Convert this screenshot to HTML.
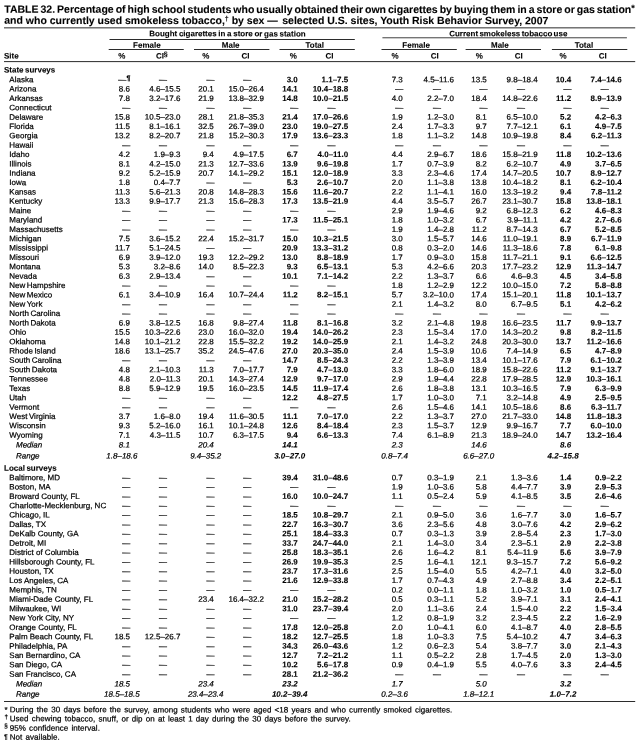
<!DOCTYPE html>
<html lang="en"><head><meta charset="utf-8"><title>Table 32</title>
<style>
html,body{margin:0;padding:0;background:#fff}
body{width:641px;height:746px;position:relative;overflow:hidden;font-family:"Liberation Sans",Arial,Helvetica,sans-serif;color:#000}
.t{position:absolute;white-space:nowrap;margin:0;padding:0;-webkit-text-stroke:0.22px #000}
svg{position:absolute;left:0;top:0}
#page{position:absolute;left:0;top:0;width:641px;height:746px;will-change:transform}
.su{font-size:9px;position:relative;top:-1.6px}
.sud{font-size:7px;position:relative;top:-3px}
.su2{font-size:7px;position:relative;top:-2.2px;font-weight:bold;margin-left:-0.2px}
.su3{font-size:6.8px;position:relative;top:-1.8px;font-weight:bold;margin-left:0.2px}
</style></head>
<body>
<div id="page">
<svg width="641" height="746" viewBox="0 0 641 746" fill="#2b2b2b">
<rect x="4.00" y="27.35" width="631.20" height="1.0"/>
<rect x="109.50" y="39.00" width="245.30" height="1.0"/>
<rect x="382.40" y="37.35" width="244.50" height="0.9"/>
<rect x="108.70" y="49.00" width="75.05" height="1.0"/>
<rect x="194.00" y="49.00" width="75.40" height="1.0"/>
<rect x="279.50" y="49.00" width="75.30" height="1.0"/>
<rect x="381.50" y="49.00" width="75.30" height="1.0"/>
<rect x="465.60" y="49.00" width="75.40" height="1.0"/>
<rect x="551.90" y="49.00" width="75.40" height="1.0"/>
<rect x="4.00" y="61.10" width="631.20" height="1.0"/>
<rect x="4.00" y="701.00" width="631.20" height="1.0"/>
</svg>
<div class="t" style="top:2px;font-size:10.5px;line-height:12px;left:4px;transform:translate(0.25px,0.96px) rotate(0.03deg) scaleX(1.0);transform-origin:50% 0;font-weight:bold;-webkit-text-stroke:0.1px #000;word-spacing:-0.915px">TABLE 32. Percentage of high school students who usually obtained their own cigarettes by buying them in a store or gas station<span class="su">*</span></div>
<div class="t" style="top:14px;font-size:10.5px;line-height:12px;left:4px;transform:translate(0.25px,0.01px) rotate(0.03deg) scaleX(1.0);transform-origin:50% 0;font-weight:bold;-webkit-text-stroke:0.1px #000;word-spacing:0px">and who currently used smokeless tobacco,<span class="sud">†</span> by sex <span style="margin-right:1.6px">—</span> selected U.S. sites, Youth Risk Behavior Survey, 2007</div>
<div class="t" style="top:29px;font-size:7.9px;line-height:9.0px;left:127px;width:200px;text-align:center;transform:translate(0.50px,0.36px) rotate(0.03deg) scaleX(1.0127);transform-origin:50% 0;font-weight:bold;-webkit-text-stroke:0.1px #000;word-spacing:-0.55px">Bought cigarettes in a store or gas station</div>
<div class="t" style="top:29px;font-size:7.9px;line-height:9.0px;left:408px;width:200px;text-align:center;transform:translate(0.30px,0.16px) rotate(0.03deg) scaleX(1.0127);transform-origin:50% 0;font-weight:bold;-webkit-text-stroke:0.1px #000;word-spacing:-0.85px">Current smokeless tobacco use</div>
<div class="t" style="top:40px;font-size:7.9px;line-height:9.0px;left:46px;width:200px;text-align:center;transform:translate(0.85px,0.76px) rotate(0.03deg) scaleX(1.0127);transform-origin:50% 0;font-weight:bold;-webkit-text-stroke:0.1px #000">Female</div>
<div class="t" style="top:40px;font-size:7.9px;line-height:9.0px;left:130px;width:200px;text-align:center;transform:translate(0.70px,0.76px) rotate(0.03deg) scaleX(1.0127);transform-origin:50% 0;font-weight:bold;-webkit-text-stroke:0.1px #000">Male</div>
<div class="t" style="top:40px;font-size:7.9px;line-height:9.0px;left:214px;width:200px;text-align:center;transform:translate(0.80px,0.76px) rotate(0.03deg) scaleX(1.0127);transform-origin:50% 0;font-weight:bold;-webkit-text-stroke:0.1px #000">Total</div>
<div class="t" style="top:40px;font-size:7.9px;line-height:9.0px;left:316px;width:200px;text-align:center;transform:translate(0.10px,0.76px) rotate(0.03deg) scaleX(1.0127);transform-origin:50% 0;font-weight:bold;-webkit-text-stroke:0.1px #000">Female</div>
<div class="t" style="top:40px;font-size:7.9px;line-height:9.0px;left:399px;width:200px;text-align:center;transform:translate(0.90px,0.76px) rotate(0.03deg) scaleX(1.0127);transform-origin:50% 0;font-weight:bold;-webkit-text-stroke:0.1px #000">Male</div>
<div class="t" style="top:40px;font-size:7.9px;line-height:9.0px;left:483px;width:200px;text-align:center;transform:translate(0.90px,0.76px) rotate(0.03deg) scaleX(1.0127);transform-origin:50% 0;font-weight:bold;-webkit-text-stroke:0.1px #000">Total</div>
<div class="t" style="top:51px;font-size:7.9px;line-height:9.0px;left:4px;transform:translate(0.00px,0.46px) rotate(0.03deg) scaleX(1.0127);transform-origin:0 0;font-weight:bold;-webkit-text-stroke:0.1px #000">Site</div>
<div class="t" style="top:51px;font-size:7.9px;line-height:9.0px;left:21px;width:200px;text-align:center;transform:translate(0.70px,0.56px) rotate(0.03deg) scaleX(1.0127);transform-origin:50% 0;font-weight:bold;-webkit-text-stroke:0.1px #000">%</div>
<div class="t" style="top:51px;font-size:7.9px;line-height:9.0px;left:105px;width:200px;text-align:center;transform:translate(0.80px,0.56px) rotate(0.03deg) scaleX(1.0127);transform-origin:50% 0;font-weight:bold;-webkit-text-stroke:0.1px #000">%</div>
<div class="t" style="top:51px;font-size:7.9px;line-height:9.0px;left:193px;width:200px;text-align:center;transform:translate(0.20px,0.56px) rotate(0.03deg) scaleX(1.0127);transform-origin:50% 0;font-weight:bold;-webkit-text-stroke:0.1px #000">%</div>
<div class="t" style="top:51px;font-size:7.9px;line-height:9.0px;left:295px;width:200px;text-align:center;transform:translate(0.00px,0.56px) rotate(0.03deg) scaleX(1.0127);transform-origin:50% 0;font-weight:bold;-webkit-text-stroke:0.1px #000">%</div>
<div class="t" style="top:51px;font-size:7.9px;line-height:9.0px;left:379px;width:200px;text-align:center;transform:translate(0.20px,0.56px) rotate(0.03deg) scaleX(1.0127);transform-origin:50% 0;font-weight:bold;-webkit-text-stroke:0.1px #000">%</div>
<div class="t" style="top:51px;font-size:7.9px;line-height:9.0px;left:463px;width:200px;text-align:center;transform:translate(0.00px,0.56px) rotate(0.03deg) scaleX(1.0127);transform-origin:50% 0;font-weight:bold;-webkit-text-stroke:0.1px #000">%</div>
<div class="t" style="top:51px;font-size:7.9px;line-height:9.0px;left:156px;transform:translate(0.00px,0.56px) rotate(0.03deg) scaleX(1.0127);transform-origin:0 0;font-weight:bold;-webkit-text-stroke:0.1px #000">CI<span class="su2">§</span></div>
<div class="t" style="top:51px;font-size:7.9px;line-height:9.0px;left:145px;width:200px;text-align:center;transform:translate(0.60px,0.56px) rotate(0.03deg) scaleX(1.0127);transform-origin:50% 0;font-weight:bold;-webkit-text-stroke:0.1px #000">CI</div>
<div class="t" style="top:51px;font-size:7.9px;line-height:9.0px;left:229px;width:200px;text-align:center;transform:translate(0.50px,0.56px) rotate(0.03deg) scaleX(1.0127);transform-origin:50% 0;font-weight:bold;-webkit-text-stroke:0.1px #000">CI</div>
<div class="t" style="top:51px;font-size:7.9px;line-height:9.0px;left:334px;width:200px;text-align:center;transform:translate(0.85px,0.56px) rotate(0.03deg) scaleX(1.0127);transform-origin:50% 0;font-weight:bold;-webkit-text-stroke:0.1px #000">CI</div>
<div class="t" style="top:51px;font-size:7.9px;line-height:9.0px;left:418px;width:200px;text-align:center;transform:translate(0.65px,0.56px) rotate(0.03deg) scaleX(1.0127);transform-origin:50% 0;font-weight:bold;-webkit-text-stroke:0.1px #000">CI</div>
<div class="t" style="top:51px;font-size:7.9px;line-height:9.0px;left:502px;width:200px;text-align:center;transform:translate(0.80px,0.56px) rotate(0.03deg) scaleX(1.0127);transform-origin:50% 0;font-weight:bold;-webkit-text-stroke:0.1px #000">CI</div>
<div class="t" style="top:65px;font-size:7.9px;line-height:9.0px;left:4px;transform:translate(0.00px,0.46px) rotate(0.03deg) scaleX(1.0127);transform-origin:0 0;font-weight:bold;-webkit-text-stroke:0.1px #000;word-spacing:-0.7px">State surveys</div>
<div class="t" style="top:75px;font-size:7.9px;line-height:9.0px;left:9px;transform:translate(0.35px,0.21px) rotate(0.03deg) scaleX(1.0127);transform-origin:0 0;word-spacing:-0.7px">Alaska</div>
<div class="t" style="top:75px;font-size:7.9px;line-height:9.0px;left:10px;width:120px;text-align:right;transform:translate(0.30px,0.21px) rotate(0.03deg) scaleX(1.0127);transform-origin:100% 0">—<span class="su3">¶</span></div>
<div class="t" style="top:75px;font-size:7.9px;line-height:9.0px;left:159px;transform:translate(0.10px,0.21px) rotate(0.03deg) scaleX(1.0127);transform-origin:0 0">—</div>
<div class="t" style="top:75px;font-size:7.9px;line-height:9.0px;left:206px;transform:translate(0.45px,0.21px) rotate(0.03deg) scaleX(1.0127);transform-origin:0 0">—</div>
<div class="t" style="top:75px;font-size:7.9px;line-height:9.0px;left:243px;transform:translate(0.15px,0.21px) rotate(0.03deg) scaleX(1.0127);transform-origin:0 0">—</div>
<div class="t" style="top:75px;font-size:7.9px;line-height:9.0px;left:177px;width:120px;text-align:right;transform:translate(0.80px,0.21px) rotate(0.03deg) scaleX(1.0127);transform-origin:100% 0;font-weight:bold;-webkit-text-stroke:0.1px #000">3.0</div>
<div class="t" style="top:75px;font-size:7.9px;line-height:9.0px;left:228px;width:120px;text-align:right;transform:translate(0.20px,0.21px) rotate(0.03deg) scaleX(1.0127);transform-origin:100% 0;font-weight:bold;-webkit-text-stroke:0.1px #000">1.1–7.5</div>
<div class="t" style="top:75px;font-size:7.9px;line-height:9.0px;left:282px;width:120px;text-align:right;transform:translate(0.80px,0.21px) rotate(0.03deg) scaleX(1.0127);transform-origin:100% 0">7.3</div>
<div class="t" style="top:75px;font-size:7.9px;line-height:9.0px;left:334px;width:120px;text-align:right;transform:translate(0.00px,0.21px) rotate(0.03deg) scaleX(1.0127);transform-origin:100% 0">4.5–11.6</div>
<div class="t" style="top:75px;font-size:7.9px;line-height:9.0px;left:366px;width:120px;text-align:right;transform:translate(0.80px,0.21px) rotate(0.03deg) scaleX(1.0127);transform-origin:100% 0">13.5</div>
<div class="t" style="top:75px;font-size:7.9px;line-height:9.0px;left:417px;width:120px;text-align:right;transform:translate(0.70px,0.21px) rotate(0.03deg) scaleX(1.0127);transform-origin:100% 0">9.8–18.4</div>
<div class="t" style="top:75px;font-size:7.9px;line-height:9.0px;left:451px;width:120px;text-align:right;transform:translate(0.20px,0.21px) rotate(0.03deg) scaleX(1.0127);transform-origin:100% 0;font-weight:bold;-webkit-text-stroke:0.1px #000">10.4</div>
<div class="t" style="top:75px;font-size:7.9px;line-height:9.0px;left:501px;width:120px;text-align:right;transform:translate(0.70px,0.21px) rotate(0.03deg) scaleX(1.0127);transform-origin:100% 0;font-weight:bold;-webkit-text-stroke:0.1px #000">7.4–14.6</div>
<div class="t" style="top:84px;font-size:7.9px;line-height:9.0px;left:9px;transform:translate(0.35px,0.57px) rotate(0.03deg) scaleX(1.0127);transform-origin:0 0;word-spacing:-0.7px">Arizona</div>
<div class="t" style="top:84px;font-size:7.9px;line-height:9.0px;left:10px;width:120px;text-align:right;transform:translate(0.00px,0.57px) rotate(0.03deg) scaleX(1.0127);transform-origin:100% 0">8.6</div>
<div class="t" style="top:84px;font-size:7.9px;line-height:9.0px;left:60px;width:120px;text-align:right;transform:translate(0.40px,0.57px) rotate(0.03deg) scaleX(1.0127);transform-origin:100% 0">4.6–15.5</div>
<div class="t" style="top:84px;font-size:7.9px;line-height:9.0px;left:93px;width:120px;text-align:right;transform:translate(0.80px,0.57px) rotate(0.03deg) scaleX(1.0127);transform-origin:100% 0">20.1</div>
<div class="t" style="top:84px;font-size:7.9px;line-height:9.0px;left:144px;width:120px;text-align:right;transform:translate(0.00px,0.57px) rotate(0.03deg) scaleX(1.0127);transform-origin:100% 0">15.0–26.4</div>
<div class="t" style="top:84px;font-size:7.9px;line-height:9.0px;left:177px;width:120px;text-align:right;transform:translate(0.80px,0.57px) rotate(0.03deg) scaleX(1.0127);transform-origin:100% 0;font-weight:bold;-webkit-text-stroke:0.1px #000">14.1</div>
<div class="t" style="top:84px;font-size:7.9px;line-height:9.0px;left:228px;width:120px;text-align:right;transform:translate(0.20px,0.57px) rotate(0.03deg) scaleX(1.0127);transform-origin:100% 0;font-weight:bold;-webkit-text-stroke:0.1px #000">10.4–18.8</div>
<div class="t" style="top:84px;font-size:7.9px;line-height:9.0px;left:395px;transform:translate(0.35px,0.57px) rotate(0.03deg) scaleX(1.0127);transform-origin:0 0">—</div>
<div class="t" style="top:84px;font-size:7.9px;line-height:9.0px;left:432px;transform:translate(0.90px,0.57px) rotate(0.03deg) scaleX(1.0127);transform-origin:0 0">—</div>
<div class="t" style="top:84px;font-size:7.9px;line-height:9.0px;left:479px;transform:translate(0.50px,0.57px) rotate(0.03deg) scaleX(1.0127);transform-origin:0 0">—</div>
<div class="t" style="top:84px;font-size:7.9px;line-height:9.0px;left:517px;transform:translate(0.00px,0.57px) rotate(0.03deg) scaleX(1.0127);transform-origin:0 0">—</div>
<div class="t" style="top:84px;font-size:7.9px;line-height:9.0px;left:563px;transform:translate(0.40px,0.57px) rotate(0.03deg) scaleX(1.0127);transform-origin:0 0">—</div>
<div class="t" style="top:84px;font-size:7.9px;line-height:9.0px;left:600px;transform:translate(0.80px,0.57px) rotate(0.03deg) scaleX(1.0127);transform-origin:0 0">—</div>
<div class="t" style="top:93px;font-size:7.9px;line-height:9.0px;left:9px;transform:translate(0.35px,0.92px) rotate(0.03deg) scaleX(1.0127);transform-origin:0 0;word-spacing:-0.7px">Arkansas</div>
<div class="t" style="top:93px;font-size:7.9px;line-height:9.0px;left:10px;width:120px;text-align:right;transform:translate(0.00px,0.92px) rotate(0.03deg) scaleX(1.0127);transform-origin:100% 0">7.8</div>
<div class="t" style="top:93px;font-size:7.9px;line-height:9.0px;left:60px;width:120px;text-align:right;transform:translate(0.40px,0.92px) rotate(0.03deg) scaleX(1.0127);transform-origin:100% 0">3.2–17.6</div>
<div class="t" style="top:93px;font-size:7.9px;line-height:9.0px;left:93px;width:120px;text-align:right;transform:translate(0.80px,0.92px) rotate(0.03deg) scaleX(1.0127);transform-origin:100% 0">21.9</div>
<div class="t" style="top:93px;font-size:7.9px;line-height:9.0px;left:144px;width:120px;text-align:right;transform:translate(0.00px,0.92px) rotate(0.03deg) scaleX(1.0127);transform-origin:100% 0">13.8–32.9</div>
<div class="t" style="top:93px;font-size:7.9px;line-height:9.0px;left:177px;width:120px;text-align:right;transform:translate(0.80px,0.92px) rotate(0.03deg) scaleX(1.0127);transform-origin:100% 0;font-weight:bold;-webkit-text-stroke:0.1px #000">14.8</div>
<div class="t" style="top:93px;font-size:7.9px;line-height:9.0px;left:228px;width:120px;text-align:right;transform:translate(0.20px,0.92px) rotate(0.03deg) scaleX(1.0127);transform-origin:100% 0;font-weight:bold;-webkit-text-stroke:0.1px #000">10.0–21.5</div>
<div class="t" style="top:93px;font-size:7.9px;line-height:9.0px;left:282px;width:120px;text-align:right;transform:translate(0.80px,0.92px) rotate(0.03deg) scaleX(1.0127);transform-origin:100% 0">4.0</div>
<div class="t" style="top:93px;font-size:7.9px;line-height:9.0px;left:334px;width:120px;text-align:right;transform:translate(0.00px,0.92px) rotate(0.03deg) scaleX(1.0127);transform-origin:100% 0">2.2–7.0</div>
<div class="t" style="top:93px;font-size:7.9px;line-height:9.0px;left:366px;width:120px;text-align:right;transform:translate(0.80px,0.92px) rotate(0.03deg) scaleX(1.0127);transform-origin:100% 0">18.4</div>
<div class="t" style="top:93px;font-size:7.9px;line-height:9.0px;left:417px;width:120px;text-align:right;transform:translate(0.70px,0.92px) rotate(0.03deg) scaleX(1.0127);transform-origin:100% 0">14.8–22.6</div>
<div class="t" style="top:93px;font-size:7.9px;line-height:9.0px;left:451px;width:120px;text-align:right;transform:translate(0.20px,0.92px) rotate(0.03deg) scaleX(1.0127);transform-origin:100% 0;font-weight:bold;-webkit-text-stroke:0.1px #000">11.2</div>
<div class="t" style="top:93px;font-size:7.9px;line-height:9.0px;left:501px;width:120px;text-align:right;transform:translate(0.70px,0.92px) rotate(0.03deg) scaleX(1.0127);transform-origin:100% 0;font-weight:bold;-webkit-text-stroke:0.1px #000">8.9–13.9</div>
<div class="t" style="top:103px;font-size:7.9px;line-height:9.0px;left:9px;transform:translate(0.35px,0.28px) rotate(0.03deg) scaleX(1.0127);transform-origin:0 0;word-spacing:-0.7px">Connecticut</div>
<div class="t" style="top:103px;font-size:7.9px;line-height:9.0px;left:122px;transform:translate(0.35px,0.28px) rotate(0.03deg) scaleX(1.0127);transform-origin:0 0">—</div>
<div class="t" style="top:103px;font-size:7.9px;line-height:9.0px;left:159px;transform:translate(0.10px,0.28px) rotate(0.03deg) scaleX(1.0127);transform-origin:0 0">—</div>
<div class="t" style="top:103px;font-size:7.9px;line-height:9.0px;left:206px;transform:translate(0.45px,0.28px) rotate(0.03deg) scaleX(1.0127);transform-origin:0 0">—</div>
<div class="t" style="top:103px;font-size:7.9px;line-height:9.0px;left:243px;transform:translate(0.15px,0.28px) rotate(0.03deg) scaleX(1.0127);transform-origin:0 0">—</div>
<div class="t" style="top:103px;font-size:7.9px;line-height:9.0px;left:290px;transform:translate(0.35px,0.28px) rotate(0.03deg) scaleX(1.0127);transform-origin:0 0">—</div>
<div class="t" style="top:103px;font-size:7.9px;line-height:9.0px;left:327px;transform:translate(0.55px,0.28px) rotate(0.03deg) scaleX(1.0127);transform-origin:0 0">—</div>
<div class="t" style="top:103px;font-size:7.9px;line-height:9.0px;left:395px;transform:translate(0.35px,0.28px) rotate(0.03deg) scaleX(1.0127);transform-origin:0 0">—</div>
<div class="t" style="top:103px;font-size:7.9px;line-height:9.0px;left:432px;transform:translate(0.90px,0.28px) rotate(0.03deg) scaleX(1.0127);transform-origin:0 0">—</div>
<div class="t" style="top:103px;font-size:7.9px;line-height:9.0px;left:479px;transform:translate(0.50px,0.28px) rotate(0.03deg) scaleX(1.0127);transform-origin:0 0">—</div>
<div class="t" style="top:103px;font-size:7.9px;line-height:9.0px;left:517px;transform:translate(0.00px,0.28px) rotate(0.03deg) scaleX(1.0127);transform-origin:0 0">—</div>
<div class="t" style="top:103px;font-size:7.9px;line-height:9.0px;left:563px;transform:translate(0.40px,0.28px) rotate(0.03deg) scaleX(1.0127);transform-origin:0 0">—</div>
<div class="t" style="top:103px;font-size:7.9px;line-height:9.0px;left:600px;transform:translate(0.80px,0.28px) rotate(0.03deg) scaleX(1.0127);transform-origin:0 0">—</div>
<div class="t" style="top:112px;font-size:7.9px;line-height:9.0px;left:9px;transform:translate(0.35px,0.63px) rotate(0.03deg) scaleX(1.0127);transform-origin:0 0;word-spacing:-0.7px">Delaware</div>
<div class="t" style="top:112px;font-size:7.9px;line-height:9.0px;left:10px;width:120px;text-align:right;transform:translate(0.00px,0.63px) rotate(0.03deg) scaleX(1.0127);transform-origin:100% 0">15.8</div>
<div class="t" style="top:112px;font-size:7.9px;line-height:9.0px;left:60px;width:120px;text-align:right;transform:translate(0.40px,0.63px) rotate(0.03deg) scaleX(1.0127);transform-origin:100% 0">10.5–23.0</div>
<div class="t" style="top:112px;font-size:7.9px;line-height:9.0px;left:93px;width:120px;text-align:right;transform:translate(0.80px,0.63px) rotate(0.03deg) scaleX(1.0127);transform-origin:100% 0">28.1</div>
<div class="t" style="top:112px;font-size:7.9px;line-height:9.0px;left:144px;width:120px;text-align:right;transform:translate(0.00px,0.63px) rotate(0.03deg) scaleX(1.0127);transform-origin:100% 0">21.8–35.3</div>
<div class="t" style="top:112px;font-size:7.9px;line-height:9.0px;left:177px;width:120px;text-align:right;transform:translate(0.80px,0.63px) rotate(0.03deg) scaleX(1.0127);transform-origin:100% 0;font-weight:bold;-webkit-text-stroke:0.1px #000">21.4</div>
<div class="t" style="top:112px;font-size:7.9px;line-height:9.0px;left:228px;width:120px;text-align:right;transform:translate(0.20px,0.63px) rotate(0.03deg) scaleX(1.0127);transform-origin:100% 0;font-weight:bold;-webkit-text-stroke:0.1px #000">17.0–26.6</div>
<div class="t" style="top:112px;font-size:7.9px;line-height:9.0px;left:282px;width:120px;text-align:right;transform:translate(0.80px,0.63px) rotate(0.03deg) scaleX(1.0127);transform-origin:100% 0">1.9</div>
<div class="t" style="top:112px;font-size:7.9px;line-height:9.0px;left:334px;width:120px;text-align:right;transform:translate(0.00px,0.63px) rotate(0.03deg) scaleX(1.0127);transform-origin:100% 0">1.2–3.0</div>
<div class="t" style="top:112px;font-size:7.9px;line-height:9.0px;left:366px;width:120px;text-align:right;transform:translate(0.80px,0.63px) rotate(0.03deg) scaleX(1.0127);transform-origin:100% 0">8.1</div>
<div class="t" style="top:112px;font-size:7.9px;line-height:9.0px;left:417px;width:120px;text-align:right;transform:translate(0.70px,0.63px) rotate(0.03deg) scaleX(1.0127);transform-origin:100% 0">6.5–10.0</div>
<div class="t" style="top:112px;font-size:7.9px;line-height:9.0px;left:451px;width:120px;text-align:right;transform:translate(0.20px,0.63px) rotate(0.03deg) scaleX(1.0127);transform-origin:100% 0;font-weight:bold;-webkit-text-stroke:0.1px #000">5.2</div>
<div class="t" style="top:112px;font-size:7.9px;line-height:9.0px;left:501px;width:120px;text-align:right;transform:translate(0.70px,0.63px) rotate(0.03deg) scaleX(1.0127);transform-origin:100% 0;font-weight:bold;-webkit-text-stroke:0.1px #000">4.2–6.3</div>
<div class="t" style="top:121px;font-size:7.9px;line-height:9.0px;left:9px;transform:translate(0.35px,0.99px) rotate(0.03deg) scaleX(1.0127);transform-origin:0 0;word-spacing:-0.7px">Florida</div>
<div class="t" style="top:121px;font-size:7.9px;line-height:9.0px;left:10px;width:120px;text-align:right;transform:translate(0.00px,0.99px) rotate(0.03deg) scaleX(1.0127);transform-origin:100% 0">11.5</div>
<div class="t" style="top:121px;font-size:7.9px;line-height:9.0px;left:60px;width:120px;text-align:right;transform:translate(0.40px,0.99px) rotate(0.03deg) scaleX(1.0127);transform-origin:100% 0">8.1–16.1</div>
<div class="t" style="top:121px;font-size:7.9px;line-height:9.0px;left:93px;width:120px;text-align:right;transform:translate(0.80px,0.99px) rotate(0.03deg) scaleX(1.0127);transform-origin:100% 0">32.5</div>
<div class="t" style="top:121px;font-size:7.9px;line-height:9.0px;left:144px;width:120px;text-align:right;transform:translate(0.00px,0.99px) rotate(0.03deg) scaleX(1.0127);transform-origin:100% 0">26.7–39.0</div>
<div class="t" style="top:121px;font-size:7.9px;line-height:9.0px;left:177px;width:120px;text-align:right;transform:translate(0.80px,0.99px) rotate(0.03deg) scaleX(1.0127);transform-origin:100% 0;font-weight:bold;-webkit-text-stroke:0.1px #000">23.0</div>
<div class="t" style="top:121px;font-size:7.9px;line-height:9.0px;left:228px;width:120px;text-align:right;transform:translate(0.20px,0.99px) rotate(0.03deg) scaleX(1.0127);transform-origin:100% 0;font-weight:bold;-webkit-text-stroke:0.1px #000">19.0–27.5</div>
<div class="t" style="top:121px;font-size:7.9px;line-height:9.0px;left:282px;width:120px;text-align:right;transform:translate(0.80px,0.99px) rotate(0.03deg) scaleX(1.0127);transform-origin:100% 0">2.4</div>
<div class="t" style="top:121px;font-size:7.9px;line-height:9.0px;left:334px;width:120px;text-align:right;transform:translate(0.00px,0.99px) rotate(0.03deg) scaleX(1.0127);transform-origin:100% 0">1.7–3.3</div>
<div class="t" style="top:121px;font-size:7.9px;line-height:9.0px;left:366px;width:120px;text-align:right;transform:translate(0.80px,0.99px) rotate(0.03deg) scaleX(1.0127);transform-origin:100% 0">9.7</div>
<div class="t" style="top:121px;font-size:7.9px;line-height:9.0px;left:417px;width:120px;text-align:right;transform:translate(0.70px,0.99px) rotate(0.03deg) scaleX(1.0127);transform-origin:100% 0">7.7–12.1</div>
<div class="t" style="top:121px;font-size:7.9px;line-height:9.0px;left:451px;width:120px;text-align:right;transform:translate(0.20px,0.99px) rotate(0.03deg) scaleX(1.0127);transform-origin:100% 0;font-weight:bold;-webkit-text-stroke:0.1px #000">6.1</div>
<div class="t" style="top:121px;font-size:7.9px;line-height:9.0px;left:501px;width:120px;text-align:right;transform:translate(0.70px,0.99px) rotate(0.03deg) scaleX(1.0127);transform-origin:100% 0;font-weight:bold;-webkit-text-stroke:0.1px #000">4.9–7.5</div>
<div class="t" style="top:131px;font-size:7.9px;line-height:9.0px;left:9px;transform:translate(0.35px,0.34px) rotate(0.03deg) scaleX(1.0127);transform-origin:0 0;word-spacing:-0.7px">Georgia</div>
<div class="t" style="top:131px;font-size:7.9px;line-height:9.0px;left:10px;width:120px;text-align:right;transform:translate(0.00px,0.34px) rotate(0.03deg) scaleX(1.0127);transform-origin:100% 0">13.2</div>
<div class="t" style="top:131px;font-size:7.9px;line-height:9.0px;left:60px;width:120px;text-align:right;transform:translate(0.40px,0.34px) rotate(0.03deg) scaleX(1.0127);transform-origin:100% 0">8.2–20.7</div>
<div class="t" style="top:131px;font-size:7.9px;line-height:9.0px;left:93px;width:120px;text-align:right;transform:translate(0.80px,0.34px) rotate(0.03deg) scaleX(1.0127);transform-origin:100% 0">21.8</div>
<div class="t" style="top:131px;font-size:7.9px;line-height:9.0px;left:144px;width:120px;text-align:right;transform:translate(0.00px,0.34px) rotate(0.03deg) scaleX(1.0127);transform-origin:100% 0">15.2–30.3</div>
<div class="t" style="top:131px;font-size:7.9px;line-height:9.0px;left:177px;width:120px;text-align:right;transform:translate(0.80px,0.34px) rotate(0.03deg) scaleX(1.0127);transform-origin:100% 0;font-weight:bold;-webkit-text-stroke:0.1px #000">17.9</div>
<div class="t" style="top:131px;font-size:7.9px;line-height:9.0px;left:228px;width:120px;text-align:right;transform:translate(0.20px,0.34px) rotate(0.03deg) scaleX(1.0127);transform-origin:100% 0;font-weight:bold;-webkit-text-stroke:0.1px #000">13.6–23.3</div>
<div class="t" style="top:131px;font-size:7.9px;line-height:9.0px;left:282px;width:120px;text-align:right;transform:translate(0.80px,0.34px) rotate(0.03deg) scaleX(1.0127);transform-origin:100% 0">1.8</div>
<div class="t" style="top:131px;font-size:7.9px;line-height:9.0px;left:334px;width:120px;text-align:right;transform:translate(0.00px,0.34px) rotate(0.03deg) scaleX(1.0127);transform-origin:100% 0">1.1–3.2</div>
<div class="t" style="top:131px;font-size:7.9px;line-height:9.0px;left:366px;width:120px;text-align:right;transform:translate(0.80px,0.34px) rotate(0.03deg) scaleX(1.0127);transform-origin:100% 0">14.8</div>
<div class="t" style="top:131px;font-size:7.9px;line-height:9.0px;left:417px;width:120px;text-align:right;transform:translate(0.70px,0.34px) rotate(0.03deg) scaleX(1.0127);transform-origin:100% 0">10.9–19.8</div>
<div class="t" style="top:131px;font-size:7.9px;line-height:9.0px;left:451px;width:120px;text-align:right;transform:translate(0.20px,0.34px) rotate(0.03deg) scaleX(1.0127);transform-origin:100% 0;font-weight:bold;-webkit-text-stroke:0.1px #000">8.4</div>
<div class="t" style="top:131px;font-size:7.9px;line-height:9.0px;left:501px;width:120px;text-align:right;transform:translate(0.70px,0.34px) rotate(0.03deg) scaleX(1.0127);transform-origin:100% 0;font-weight:bold;-webkit-text-stroke:0.1px #000">6.2–11.3</div>
<div class="t" style="top:140px;font-size:7.9px;line-height:9.0px;left:9px;transform:translate(0.35px,0.70px) rotate(0.03deg) scaleX(1.0127);transform-origin:0 0;word-spacing:-0.7px">Hawaii</div>
<div class="t" style="top:140px;font-size:7.9px;line-height:9.0px;left:122px;transform:translate(0.35px,0.70px) rotate(0.03deg) scaleX(1.0127);transform-origin:0 0">—</div>
<div class="t" style="top:140px;font-size:7.9px;line-height:9.0px;left:159px;transform:translate(0.10px,0.70px) rotate(0.03deg) scaleX(1.0127);transform-origin:0 0">—</div>
<div class="t" style="top:140px;font-size:7.9px;line-height:9.0px;left:206px;transform:translate(0.45px,0.70px) rotate(0.03deg) scaleX(1.0127);transform-origin:0 0">—</div>
<div class="t" style="top:140px;font-size:7.9px;line-height:9.0px;left:243px;transform:translate(0.15px,0.70px) rotate(0.03deg) scaleX(1.0127);transform-origin:0 0">—</div>
<div class="t" style="top:140px;font-size:7.9px;line-height:9.0px;left:290px;transform:translate(0.35px,0.70px) rotate(0.03deg) scaleX(1.0127);transform-origin:0 0">—</div>
<div class="t" style="top:140px;font-size:7.9px;line-height:9.0px;left:327px;transform:translate(0.55px,0.70px) rotate(0.03deg) scaleX(1.0127);transform-origin:0 0">—</div>
<div class="t" style="top:140px;font-size:7.9px;line-height:9.0px;left:395px;transform:translate(0.35px,0.70px) rotate(0.03deg) scaleX(1.0127);transform-origin:0 0">—</div>
<div class="t" style="top:140px;font-size:7.9px;line-height:9.0px;left:432px;transform:translate(0.90px,0.70px) rotate(0.03deg) scaleX(1.0127);transform-origin:0 0">—</div>
<div class="t" style="top:140px;font-size:7.9px;line-height:9.0px;left:479px;transform:translate(0.50px,0.70px) rotate(0.03deg) scaleX(1.0127);transform-origin:0 0">—</div>
<div class="t" style="top:140px;font-size:7.9px;line-height:9.0px;left:517px;transform:translate(0.00px,0.70px) rotate(0.03deg) scaleX(1.0127);transform-origin:0 0">—</div>
<div class="t" style="top:140px;font-size:7.9px;line-height:9.0px;left:563px;transform:translate(0.40px,0.70px) rotate(0.03deg) scaleX(1.0127);transform-origin:0 0">—</div>
<div class="t" style="top:140px;font-size:7.9px;line-height:9.0px;left:600px;transform:translate(0.80px,0.70px) rotate(0.03deg) scaleX(1.0127);transform-origin:0 0">—</div>
<div class="t" style="top:150px;font-size:7.9px;line-height:9.0px;left:9px;transform:translate(0.35px,0.05px) rotate(0.03deg) scaleX(1.0127);transform-origin:0 0;word-spacing:-0.7px">Idaho</div>
<div class="t" style="top:150px;font-size:7.9px;line-height:9.0px;left:10px;width:120px;text-align:right;transform:translate(0.00px,0.05px) rotate(0.03deg) scaleX(1.0127);transform-origin:100% 0">4.2</div>
<div class="t" style="top:150px;font-size:7.9px;line-height:9.0px;left:60px;width:120px;text-align:right;transform:translate(0.40px,0.05px) rotate(0.03deg) scaleX(1.0127);transform-origin:100% 0">1.9–9.3</div>
<div class="t" style="top:150px;font-size:7.9px;line-height:9.0px;left:93px;width:120px;text-align:right;transform:translate(0.80px,0.05px) rotate(0.03deg) scaleX(1.0127);transform-origin:100% 0">9.4</div>
<div class="t" style="top:150px;font-size:7.9px;line-height:9.0px;left:144px;width:120px;text-align:right;transform:translate(0.00px,0.05px) rotate(0.03deg) scaleX(1.0127);transform-origin:100% 0">4.9–17.5</div>
<div class="t" style="top:150px;font-size:7.9px;line-height:9.0px;left:177px;width:120px;text-align:right;transform:translate(0.80px,0.05px) rotate(0.03deg) scaleX(1.0127);transform-origin:100% 0;font-weight:bold;-webkit-text-stroke:0.1px #000">6.7</div>
<div class="t" style="top:150px;font-size:7.9px;line-height:9.0px;left:228px;width:120px;text-align:right;transform:translate(0.20px,0.05px) rotate(0.03deg) scaleX(1.0127);transform-origin:100% 0;font-weight:bold;-webkit-text-stroke:0.1px #000">4.0–11.0</div>
<div class="t" style="top:150px;font-size:7.9px;line-height:9.0px;left:282px;width:120px;text-align:right;transform:translate(0.80px,0.05px) rotate(0.03deg) scaleX(1.0127);transform-origin:100% 0">4.4</div>
<div class="t" style="top:150px;font-size:7.9px;line-height:9.0px;left:334px;width:120px;text-align:right;transform:translate(0.00px,0.05px) rotate(0.03deg) scaleX(1.0127);transform-origin:100% 0">2.9–6.7</div>
<div class="t" style="top:150px;font-size:7.9px;line-height:9.0px;left:366px;width:120px;text-align:right;transform:translate(0.80px,0.05px) rotate(0.03deg) scaleX(1.0127);transform-origin:100% 0">18.6</div>
<div class="t" style="top:150px;font-size:7.9px;line-height:9.0px;left:417px;width:120px;text-align:right;transform:translate(0.70px,0.05px) rotate(0.03deg) scaleX(1.0127);transform-origin:100% 0">15.8–21.9</div>
<div class="t" style="top:150px;font-size:7.9px;line-height:9.0px;left:451px;width:120px;text-align:right;transform:translate(0.20px,0.05px) rotate(0.03deg) scaleX(1.0127);transform-origin:100% 0;font-weight:bold;-webkit-text-stroke:0.1px #000">11.8</div>
<div class="t" style="top:150px;font-size:7.9px;line-height:9.0px;left:501px;width:120px;text-align:right;transform:translate(0.70px,0.05px) rotate(0.03deg) scaleX(1.0127);transform-origin:100% 0;font-weight:bold;-webkit-text-stroke:0.1px #000">10.2–13.6</div>
<div class="t" style="top:159px;font-size:7.9px;line-height:9.0px;left:9px;transform:translate(0.35px,0.41px) rotate(0.03deg) scaleX(1.0127);transform-origin:0 0;word-spacing:-0.7px">Illinois</div>
<div class="t" style="top:159px;font-size:7.9px;line-height:9.0px;left:10px;width:120px;text-align:right;transform:translate(0.00px,0.41px) rotate(0.03deg) scaleX(1.0127);transform-origin:100% 0">8.1</div>
<div class="t" style="top:159px;font-size:7.9px;line-height:9.0px;left:60px;width:120px;text-align:right;transform:translate(0.40px,0.41px) rotate(0.03deg) scaleX(1.0127);transform-origin:100% 0">4.2–15.0</div>
<div class="t" style="top:159px;font-size:7.9px;line-height:9.0px;left:93px;width:120px;text-align:right;transform:translate(0.80px,0.41px) rotate(0.03deg) scaleX(1.0127);transform-origin:100% 0">21.3</div>
<div class="t" style="top:159px;font-size:7.9px;line-height:9.0px;left:144px;width:120px;text-align:right;transform:translate(0.00px,0.41px) rotate(0.03deg) scaleX(1.0127);transform-origin:100% 0">12.7–33.6</div>
<div class="t" style="top:159px;font-size:7.9px;line-height:9.0px;left:177px;width:120px;text-align:right;transform:translate(0.80px,0.41px) rotate(0.03deg) scaleX(1.0127);transform-origin:100% 0;font-weight:bold;-webkit-text-stroke:0.1px #000">13.9</div>
<div class="t" style="top:159px;font-size:7.9px;line-height:9.0px;left:228px;width:120px;text-align:right;transform:translate(0.20px,0.41px) rotate(0.03deg) scaleX(1.0127);transform-origin:100% 0;font-weight:bold;-webkit-text-stroke:0.1px #000">9.6–19.8</div>
<div class="t" style="top:159px;font-size:7.9px;line-height:9.0px;left:282px;width:120px;text-align:right;transform:translate(0.80px,0.41px) rotate(0.03deg) scaleX(1.0127);transform-origin:100% 0">1.7</div>
<div class="t" style="top:159px;font-size:7.9px;line-height:9.0px;left:334px;width:120px;text-align:right;transform:translate(0.00px,0.41px) rotate(0.03deg) scaleX(1.0127);transform-origin:100% 0">0.7–3.9</div>
<div class="t" style="top:159px;font-size:7.9px;line-height:9.0px;left:366px;width:120px;text-align:right;transform:translate(0.80px,0.41px) rotate(0.03deg) scaleX(1.0127);transform-origin:100% 0">8.2</div>
<div class="t" style="top:159px;font-size:7.9px;line-height:9.0px;left:417px;width:120px;text-align:right;transform:translate(0.70px,0.41px) rotate(0.03deg) scaleX(1.0127);transform-origin:100% 0">6.2–10.7</div>
<div class="t" style="top:159px;font-size:7.9px;line-height:9.0px;left:451px;width:120px;text-align:right;transform:translate(0.20px,0.41px) rotate(0.03deg) scaleX(1.0127);transform-origin:100% 0;font-weight:bold;-webkit-text-stroke:0.1px #000">4.9</div>
<div class="t" style="top:159px;font-size:7.9px;line-height:9.0px;left:501px;width:120px;text-align:right;transform:translate(0.70px,0.41px) rotate(0.03deg) scaleX(1.0127);transform-origin:100% 0;font-weight:bold;-webkit-text-stroke:0.1px #000">3.7–6.5</div>
<div class="t" style="top:168px;font-size:7.9px;line-height:9.0px;left:9px;transform:translate(0.35px,0.76px) rotate(0.03deg) scaleX(1.0127);transform-origin:0 0;word-spacing:-0.7px">Indiana</div>
<div class="t" style="top:168px;font-size:7.9px;line-height:9.0px;left:10px;width:120px;text-align:right;transform:translate(0.00px,0.76px) rotate(0.03deg) scaleX(1.0127);transform-origin:100% 0">9.2</div>
<div class="t" style="top:168px;font-size:7.9px;line-height:9.0px;left:60px;width:120px;text-align:right;transform:translate(0.40px,0.76px) rotate(0.03deg) scaleX(1.0127);transform-origin:100% 0">5.2–15.9</div>
<div class="t" style="top:168px;font-size:7.9px;line-height:9.0px;left:93px;width:120px;text-align:right;transform:translate(0.80px,0.76px) rotate(0.03deg) scaleX(1.0127);transform-origin:100% 0">20.7</div>
<div class="t" style="top:168px;font-size:7.9px;line-height:9.0px;left:144px;width:120px;text-align:right;transform:translate(0.00px,0.76px) rotate(0.03deg) scaleX(1.0127);transform-origin:100% 0">14.1–29.2</div>
<div class="t" style="top:168px;font-size:7.9px;line-height:9.0px;left:177px;width:120px;text-align:right;transform:translate(0.80px,0.76px) rotate(0.03deg) scaleX(1.0127);transform-origin:100% 0;font-weight:bold;-webkit-text-stroke:0.1px #000">15.1</div>
<div class="t" style="top:168px;font-size:7.9px;line-height:9.0px;left:228px;width:120px;text-align:right;transform:translate(0.20px,0.76px) rotate(0.03deg) scaleX(1.0127);transform-origin:100% 0;font-weight:bold;-webkit-text-stroke:0.1px #000">12.0–18.9</div>
<div class="t" style="top:168px;font-size:7.9px;line-height:9.0px;left:282px;width:120px;text-align:right;transform:translate(0.80px,0.76px) rotate(0.03deg) scaleX(1.0127);transform-origin:100% 0">3.3</div>
<div class="t" style="top:168px;font-size:7.9px;line-height:9.0px;left:334px;width:120px;text-align:right;transform:translate(0.00px,0.76px) rotate(0.03deg) scaleX(1.0127);transform-origin:100% 0">2.3–4.6</div>
<div class="t" style="top:168px;font-size:7.9px;line-height:9.0px;left:366px;width:120px;text-align:right;transform:translate(0.80px,0.76px) rotate(0.03deg) scaleX(1.0127);transform-origin:100% 0">17.4</div>
<div class="t" style="top:168px;font-size:7.9px;line-height:9.0px;left:417px;width:120px;text-align:right;transform:translate(0.70px,0.76px) rotate(0.03deg) scaleX(1.0127);transform-origin:100% 0">14.7–20.5</div>
<div class="t" style="top:168px;font-size:7.9px;line-height:9.0px;left:451px;width:120px;text-align:right;transform:translate(0.20px,0.76px) rotate(0.03deg) scaleX(1.0127);transform-origin:100% 0;font-weight:bold;-webkit-text-stroke:0.1px #000">10.7</div>
<div class="t" style="top:168px;font-size:7.9px;line-height:9.0px;left:501px;width:120px;text-align:right;transform:translate(0.70px,0.76px) rotate(0.03deg) scaleX(1.0127);transform-origin:100% 0;font-weight:bold;-webkit-text-stroke:0.1px #000">8.9–12.7</div>
<div class="t" style="top:178px;font-size:7.9px;line-height:9.0px;left:9px;transform:translate(0.35px,0.12px) rotate(0.03deg) scaleX(1.0127);transform-origin:0 0;word-spacing:-0.7px">Iowa</div>
<div class="t" style="top:178px;font-size:7.9px;line-height:9.0px;left:10px;width:120px;text-align:right;transform:translate(0.00px,0.12px) rotate(0.03deg) scaleX(1.0127);transform-origin:100% 0">1.8</div>
<div class="t" style="top:178px;font-size:7.9px;line-height:9.0px;left:60px;width:120px;text-align:right;transform:translate(0.40px,0.12px) rotate(0.03deg) scaleX(1.0127);transform-origin:100% 0">0.4–7.7</div>
<div class="t" style="top:178px;font-size:7.9px;line-height:9.0px;left:206px;transform:translate(0.45px,0.12px) rotate(0.03deg) scaleX(1.0127);transform-origin:0 0">—</div>
<div class="t" style="top:178px;font-size:7.9px;line-height:9.0px;left:243px;transform:translate(0.15px,0.12px) rotate(0.03deg) scaleX(1.0127);transform-origin:0 0">—</div>
<div class="t" style="top:178px;font-size:7.9px;line-height:9.0px;left:177px;width:120px;text-align:right;transform:translate(0.80px,0.12px) rotate(0.03deg) scaleX(1.0127);transform-origin:100% 0;font-weight:bold;-webkit-text-stroke:0.1px #000">5.3</div>
<div class="t" style="top:178px;font-size:7.9px;line-height:9.0px;left:228px;width:120px;text-align:right;transform:translate(0.20px,0.12px) rotate(0.03deg) scaleX(1.0127);transform-origin:100% 0;font-weight:bold;-webkit-text-stroke:0.1px #000">2.6–10.7</div>
<div class="t" style="top:178px;font-size:7.9px;line-height:9.0px;left:282px;width:120px;text-align:right;transform:translate(0.80px,0.12px) rotate(0.03deg) scaleX(1.0127);transform-origin:100% 0">2.0</div>
<div class="t" style="top:178px;font-size:7.9px;line-height:9.0px;left:334px;width:120px;text-align:right;transform:translate(0.00px,0.12px) rotate(0.03deg) scaleX(1.0127);transform-origin:100% 0">1.1–3.8</div>
<div class="t" style="top:178px;font-size:7.9px;line-height:9.0px;left:366px;width:120px;text-align:right;transform:translate(0.80px,0.12px) rotate(0.03deg) scaleX(1.0127);transform-origin:100% 0">13.8</div>
<div class="t" style="top:178px;font-size:7.9px;line-height:9.0px;left:417px;width:120px;text-align:right;transform:translate(0.70px,0.12px) rotate(0.03deg) scaleX(1.0127);transform-origin:100% 0">10.4–18.2</div>
<div class="t" style="top:178px;font-size:7.9px;line-height:9.0px;left:451px;width:120px;text-align:right;transform:translate(0.20px,0.12px) rotate(0.03deg) scaleX(1.0127);transform-origin:100% 0;font-weight:bold;-webkit-text-stroke:0.1px #000">8.1</div>
<div class="t" style="top:178px;font-size:7.9px;line-height:9.0px;left:501px;width:120px;text-align:right;transform:translate(0.70px,0.12px) rotate(0.03deg) scaleX(1.0127);transform-origin:100% 0;font-weight:bold;-webkit-text-stroke:0.1px #000">6.2–10.4</div>
<div class="t" style="top:187px;font-size:7.9px;line-height:9.0px;left:9px;transform:translate(0.35px,0.47px) rotate(0.03deg) scaleX(1.0127);transform-origin:0 0;word-spacing:-0.7px">Kansas</div>
<div class="t" style="top:187px;font-size:7.9px;line-height:9.0px;left:10px;width:120px;text-align:right;transform:translate(0.00px,0.47px) rotate(0.03deg) scaleX(1.0127);transform-origin:100% 0">11.3</div>
<div class="t" style="top:187px;font-size:7.9px;line-height:9.0px;left:60px;width:120px;text-align:right;transform:translate(0.40px,0.47px) rotate(0.03deg) scaleX(1.0127);transform-origin:100% 0">5.6–21.3</div>
<div class="t" style="top:187px;font-size:7.9px;line-height:9.0px;left:93px;width:120px;text-align:right;transform:translate(0.80px,0.47px) rotate(0.03deg) scaleX(1.0127);transform-origin:100% 0">20.8</div>
<div class="t" style="top:187px;font-size:7.9px;line-height:9.0px;left:144px;width:120px;text-align:right;transform:translate(0.00px,0.47px) rotate(0.03deg) scaleX(1.0127);transform-origin:100% 0">14.8–28.3</div>
<div class="t" style="top:187px;font-size:7.9px;line-height:9.0px;left:177px;width:120px;text-align:right;transform:translate(0.80px,0.47px) rotate(0.03deg) scaleX(1.0127);transform-origin:100% 0;font-weight:bold;-webkit-text-stroke:0.1px #000">15.6</div>
<div class="t" style="top:187px;font-size:7.9px;line-height:9.0px;left:228px;width:120px;text-align:right;transform:translate(0.20px,0.47px) rotate(0.03deg) scaleX(1.0127);transform-origin:100% 0;font-weight:bold;-webkit-text-stroke:0.1px #000">11.6–20.7</div>
<div class="t" style="top:187px;font-size:7.9px;line-height:9.0px;left:282px;width:120px;text-align:right;transform:translate(0.80px,0.47px) rotate(0.03deg) scaleX(1.0127);transform-origin:100% 0">2.2</div>
<div class="t" style="top:187px;font-size:7.9px;line-height:9.0px;left:334px;width:120px;text-align:right;transform:translate(0.00px,0.47px) rotate(0.03deg) scaleX(1.0127);transform-origin:100% 0">1.1–4.1</div>
<div class="t" style="top:187px;font-size:7.9px;line-height:9.0px;left:366px;width:120px;text-align:right;transform:translate(0.80px,0.47px) rotate(0.03deg) scaleX(1.0127);transform-origin:100% 0">16.0</div>
<div class="t" style="top:187px;font-size:7.9px;line-height:9.0px;left:417px;width:120px;text-align:right;transform:translate(0.70px,0.47px) rotate(0.03deg) scaleX(1.0127);transform-origin:100% 0">13.3–19.2</div>
<div class="t" style="top:187px;font-size:7.9px;line-height:9.0px;left:451px;width:120px;text-align:right;transform:translate(0.20px,0.47px) rotate(0.03deg) scaleX(1.0127);transform-origin:100% 0;font-weight:bold;-webkit-text-stroke:0.1px #000">9.4</div>
<div class="t" style="top:187px;font-size:7.9px;line-height:9.0px;left:501px;width:120px;text-align:right;transform:translate(0.70px,0.47px) rotate(0.03deg) scaleX(1.0127);transform-origin:100% 0;font-weight:bold;-webkit-text-stroke:0.1px #000">7.8–11.2</div>
<div class="t" style="top:196px;font-size:7.9px;line-height:9.0px;left:9px;transform:translate(0.35px,0.83px) rotate(0.03deg) scaleX(1.0127);transform-origin:0 0;word-spacing:-0.7px">Kentucky</div>
<div class="t" style="top:196px;font-size:7.9px;line-height:9.0px;left:10px;width:120px;text-align:right;transform:translate(0.00px,0.83px) rotate(0.03deg) scaleX(1.0127);transform-origin:100% 0">13.3</div>
<div class="t" style="top:196px;font-size:7.9px;line-height:9.0px;left:60px;width:120px;text-align:right;transform:translate(0.40px,0.83px) rotate(0.03deg) scaleX(1.0127);transform-origin:100% 0">9.9–17.7</div>
<div class="t" style="top:196px;font-size:7.9px;line-height:9.0px;left:93px;width:120px;text-align:right;transform:translate(0.80px,0.83px) rotate(0.03deg) scaleX(1.0127);transform-origin:100% 0">21.3</div>
<div class="t" style="top:196px;font-size:7.9px;line-height:9.0px;left:144px;width:120px;text-align:right;transform:translate(0.00px,0.83px) rotate(0.03deg) scaleX(1.0127);transform-origin:100% 0">15.6–28.3</div>
<div class="t" style="top:196px;font-size:7.9px;line-height:9.0px;left:177px;width:120px;text-align:right;transform:translate(0.80px,0.83px) rotate(0.03deg) scaleX(1.0127);transform-origin:100% 0;font-weight:bold;-webkit-text-stroke:0.1px #000">17.3</div>
<div class="t" style="top:196px;font-size:7.9px;line-height:9.0px;left:228px;width:120px;text-align:right;transform:translate(0.20px,0.83px) rotate(0.03deg) scaleX(1.0127);transform-origin:100% 0;font-weight:bold;-webkit-text-stroke:0.1px #000">13.5–21.9</div>
<div class="t" style="top:196px;font-size:7.9px;line-height:9.0px;left:282px;width:120px;text-align:right;transform:translate(0.80px,0.83px) rotate(0.03deg) scaleX(1.0127);transform-origin:100% 0">4.4</div>
<div class="t" style="top:196px;font-size:7.9px;line-height:9.0px;left:334px;width:120px;text-align:right;transform:translate(0.00px,0.83px) rotate(0.03deg) scaleX(1.0127);transform-origin:100% 0">3.5–5.7</div>
<div class="t" style="top:196px;font-size:7.9px;line-height:9.0px;left:366px;width:120px;text-align:right;transform:translate(0.80px,0.83px) rotate(0.03deg) scaleX(1.0127);transform-origin:100% 0">26.7</div>
<div class="t" style="top:196px;font-size:7.9px;line-height:9.0px;left:417px;width:120px;text-align:right;transform:translate(0.70px,0.83px) rotate(0.03deg) scaleX(1.0127);transform-origin:100% 0">23.1–30.7</div>
<div class="t" style="top:196px;font-size:7.9px;line-height:9.0px;left:451px;width:120px;text-align:right;transform:translate(0.20px,0.83px) rotate(0.03deg) scaleX(1.0127);transform-origin:100% 0;font-weight:bold;-webkit-text-stroke:0.1px #000">15.8</div>
<div class="t" style="top:196px;font-size:7.9px;line-height:9.0px;left:501px;width:120px;text-align:right;transform:translate(0.70px,0.83px) rotate(0.03deg) scaleX(1.0127);transform-origin:100% 0;font-weight:bold;-webkit-text-stroke:0.1px #000">13.8–18.1</div>
<div class="t" style="top:206px;font-size:7.9px;line-height:9.0px;left:9px;transform:translate(0.35px,0.18px) rotate(0.03deg) scaleX(1.0127);transform-origin:0 0;word-spacing:-0.7px">Maine</div>
<div class="t" style="top:206px;font-size:7.9px;line-height:9.0px;left:122px;transform:translate(0.35px,0.18px) rotate(0.03deg) scaleX(1.0127);transform-origin:0 0">—</div>
<div class="t" style="top:206px;font-size:7.9px;line-height:9.0px;left:159px;transform:translate(0.10px,0.18px) rotate(0.03deg) scaleX(1.0127);transform-origin:0 0">—</div>
<div class="t" style="top:206px;font-size:7.9px;line-height:9.0px;left:206px;transform:translate(0.45px,0.18px) rotate(0.03deg) scaleX(1.0127);transform-origin:0 0">—</div>
<div class="t" style="top:206px;font-size:7.9px;line-height:9.0px;left:243px;transform:translate(0.15px,0.18px) rotate(0.03deg) scaleX(1.0127);transform-origin:0 0">—</div>
<div class="t" style="top:206px;font-size:7.9px;line-height:9.0px;left:290px;transform:translate(0.35px,0.18px) rotate(0.03deg) scaleX(1.0127);transform-origin:0 0">—</div>
<div class="t" style="top:206px;font-size:7.9px;line-height:9.0px;left:327px;transform:translate(0.55px,0.18px) rotate(0.03deg) scaleX(1.0127);transform-origin:0 0">—</div>
<div class="t" style="top:206px;font-size:7.9px;line-height:9.0px;left:282px;width:120px;text-align:right;transform:translate(0.80px,0.18px) rotate(0.03deg) scaleX(1.0127);transform-origin:100% 0">2.9</div>
<div class="t" style="top:206px;font-size:7.9px;line-height:9.0px;left:334px;width:120px;text-align:right;transform:translate(0.00px,0.18px) rotate(0.03deg) scaleX(1.0127);transform-origin:100% 0">1.9–4.6</div>
<div class="t" style="top:206px;font-size:7.9px;line-height:9.0px;left:366px;width:120px;text-align:right;transform:translate(0.80px,0.18px) rotate(0.03deg) scaleX(1.0127);transform-origin:100% 0">9.2</div>
<div class="t" style="top:206px;font-size:7.9px;line-height:9.0px;left:417px;width:120px;text-align:right;transform:translate(0.70px,0.18px) rotate(0.03deg) scaleX(1.0127);transform-origin:100% 0">6.8–12.3</div>
<div class="t" style="top:206px;font-size:7.9px;line-height:9.0px;left:451px;width:120px;text-align:right;transform:translate(0.20px,0.18px) rotate(0.03deg) scaleX(1.0127);transform-origin:100% 0;font-weight:bold;-webkit-text-stroke:0.1px #000">6.2</div>
<div class="t" style="top:206px;font-size:7.9px;line-height:9.0px;left:501px;width:120px;text-align:right;transform:translate(0.70px,0.18px) rotate(0.03deg) scaleX(1.0127);transform-origin:100% 0;font-weight:bold;-webkit-text-stroke:0.1px #000">4.6–8.3</div>
<div class="t" style="top:215px;font-size:7.9px;line-height:9.0px;left:9px;transform:translate(0.35px,0.54px) rotate(0.03deg) scaleX(1.0127);transform-origin:0 0;word-spacing:-0.7px">Maryland</div>
<div class="t" style="top:215px;font-size:7.9px;line-height:9.0px;left:122px;transform:translate(0.35px,0.54px) rotate(0.03deg) scaleX(1.0127);transform-origin:0 0">—</div>
<div class="t" style="top:215px;font-size:7.9px;line-height:9.0px;left:159px;transform:translate(0.10px,0.54px) rotate(0.03deg) scaleX(1.0127);transform-origin:0 0">—</div>
<div class="t" style="top:215px;font-size:7.9px;line-height:9.0px;left:206px;transform:translate(0.45px,0.54px) rotate(0.03deg) scaleX(1.0127);transform-origin:0 0">—</div>
<div class="t" style="top:215px;font-size:7.9px;line-height:9.0px;left:243px;transform:translate(0.15px,0.54px) rotate(0.03deg) scaleX(1.0127);transform-origin:0 0">—</div>
<div class="t" style="top:215px;font-size:7.9px;line-height:9.0px;left:177px;width:120px;text-align:right;transform:translate(0.80px,0.54px) rotate(0.03deg) scaleX(1.0127);transform-origin:100% 0;font-weight:bold;-webkit-text-stroke:0.1px #000">17.3</div>
<div class="t" style="top:215px;font-size:7.9px;line-height:9.0px;left:228px;width:120px;text-align:right;transform:translate(0.20px,0.54px) rotate(0.03deg) scaleX(1.0127);transform-origin:100% 0;font-weight:bold;-webkit-text-stroke:0.1px #000">11.5–25.1</div>
<div class="t" style="top:215px;font-size:7.9px;line-height:9.0px;left:282px;width:120px;text-align:right;transform:translate(0.80px,0.54px) rotate(0.03deg) scaleX(1.0127);transform-origin:100% 0">1.8</div>
<div class="t" style="top:215px;font-size:7.9px;line-height:9.0px;left:334px;width:120px;text-align:right;transform:translate(0.00px,0.54px) rotate(0.03deg) scaleX(1.0127);transform-origin:100% 0">1.0–3.2</div>
<div class="t" style="top:215px;font-size:7.9px;line-height:9.0px;left:366px;width:120px;text-align:right;transform:translate(0.80px,0.54px) rotate(0.03deg) scaleX(1.0127);transform-origin:100% 0">6.7</div>
<div class="t" style="top:215px;font-size:7.9px;line-height:9.0px;left:417px;width:120px;text-align:right;transform:translate(0.70px,0.54px) rotate(0.03deg) scaleX(1.0127);transform-origin:100% 0">3.9–11.1</div>
<div class="t" style="top:215px;font-size:7.9px;line-height:9.0px;left:451px;width:120px;text-align:right;transform:translate(0.20px,0.54px) rotate(0.03deg) scaleX(1.0127);transform-origin:100% 0;font-weight:bold;-webkit-text-stroke:0.1px #000">4.2</div>
<div class="t" style="top:215px;font-size:7.9px;line-height:9.0px;left:501px;width:120px;text-align:right;transform:translate(0.70px,0.54px) rotate(0.03deg) scaleX(1.0127);transform-origin:100% 0;font-weight:bold;-webkit-text-stroke:0.1px #000">2.7–6.6</div>
<div class="t" style="top:224px;font-size:7.9px;line-height:9.0px;left:9px;transform:translate(0.35px,0.89px) rotate(0.03deg) scaleX(1.0127);transform-origin:0 0;word-spacing:-0.7px">Massachusetts</div>
<div class="t" style="top:224px;font-size:7.9px;line-height:9.0px;left:122px;transform:translate(0.35px,0.89px) rotate(0.03deg) scaleX(1.0127);transform-origin:0 0">—</div>
<div class="t" style="top:224px;font-size:7.9px;line-height:9.0px;left:159px;transform:translate(0.10px,0.89px) rotate(0.03deg) scaleX(1.0127);transform-origin:0 0">—</div>
<div class="t" style="top:224px;font-size:7.9px;line-height:9.0px;left:206px;transform:translate(0.45px,0.89px) rotate(0.03deg) scaleX(1.0127);transform-origin:0 0">—</div>
<div class="t" style="top:224px;font-size:7.9px;line-height:9.0px;left:243px;transform:translate(0.15px,0.89px) rotate(0.03deg) scaleX(1.0127);transform-origin:0 0">—</div>
<div class="t" style="top:224px;font-size:7.9px;line-height:9.0px;left:290px;transform:translate(0.35px,0.89px) rotate(0.03deg) scaleX(1.0127);transform-origin:0 0">—</div>
<div class="t" style="top:224px;font-size:7.9px;line-height:9.0px;left:327px;transform:translate(0.55px,0.89px) rotate(0.03deg) scaleX(1.0127);transform-origin:0 0">—</div>
<div class="t" style="top:224px;font-size:7.9px;line-height:9.0px;left:282px;width:120px;text-align:right;transform:translate(0.80px,0.89px) rotate(0.03deg) scaleX(1.0127);transform-origin:100% 0">1.9</div>
<div class="t" style="top:224px;font-size:7.9px;line-height:9.0px;left:334px;width:120px;text-align:right;transform:translate(0.00px,0.89px) rotate(0.03deg) scaleX(1.0127);transform-origin:100% 0">1.4–2.8</div>
<div class="t" style="top:224px;font-size:7.9px;line-height:9.0px;left:366px;width:120px;text-align:right;transform:translate(0.80px,0.89px) rotate(0.03deg) scaleX(1.0127);transform-origin:100% 0">11.2</div>
<div class="t" style="top:224px;font-size:7.9px;line-height:9.0px;left:417px;width:120px;text-align:right;transform:translate(0.70px,0.89px) rotate(0.03deg) scaleX(1.0127);transform-origin:100% 0">8.7–14.3</div>
<div class="t" style="top:224px;font-size:7.9px;line-height:9.0px;left:451px;width:120px;text-align:right;transform:translate(0.20px,0.89px) rotate(0.03deg) scaleX(1.0127);transform-origin:100% 0;font-weight:bold;-webkit-text-stroke:0.1px #000">6.7</div>
<div class="t" style="top:224px;font-size:7.9px;line-height:9.0px;left:501px;width:120px;text-align:right;transform:translate(0.70px,0.89px) rotate(0.03deg) scaleX(1.0127);transform-origin:100% 0;font-weight:bold;-webkit-text-stroke:0.1px #000">5.2–8.5</div>
<div class="t" style="top:234px;font-size:7.9px;line-height:9.0px;left:9px;transform:translate(0.35px,0.25px) rotate(0.03deg) scaleX(1.0127);transform-origin:0 0;word-spacing:-0.7px">Michigan</div>
<div class="t" style="top:234px;font-size:7.9px;line-height:9.0px;left:10px;width:120px;text-align:right;transform:translate(0.00px,0.25px) rotate(0.03deg) scaleX(1.0127);transform-origin:100% 0">7.5</div>
<div class="t" style="top:234px;font-size:7.9px;line-height:9.0px;left:60px;width:120px;text-align:right;transform:translate(0.40px,0.25px) rotate(0.03deg) scaleX(1.0127);transform-origin:100% 0">3.6–15.2</div>
<div class="t" style="top:234px;font-size:7.9px;line-height:9.0px;left:93px;width:120px;text-align:right;transform:translate(0.80px,0.25px) rotate(0.03deg) scaleX(1.0127);transform-origin:100% 0">22.4</div>
<div class="t" style="top:234px;font-size:7.9px;line-height:9.0px;left:144px;width:120px;text-align:right;transform:translate(0.00px,0.25px) rotate(0.03deg) scaleX(1.0127);transform-origin:100% 0">15.2–31.7</div>
<div class="t" style="top:234px;font-size:7.9px;line-height:9.0px;left:177px;width:120px;text-align:right;transform:translate(0.80px,0.25px) rotate(0.03deg) scaleX(1.0127);transform-origin:100% 0;font-weight:bold;-webkit-text-stroke:0.1px #000">15.0</div>
<div class="t" style="top:234px;font-size:7.9px;line-height:9.0px;left:228px;width:120px;text-align:right;transform:translate(0.20px,0.25px) rotate(0.03deg) scaleX(1.0127);transform-origin:100% 0;font-weight:bold;-webkit-text-stroke:0.1px #000">10.3–21.5</div>
<div class="t" style="top:234px;font-size:7.9px;line-height:9.0px;left:282px;width:120px;text-align:right;transform:translate(0.80px,0.25px) rotate(0.03deg) scaleX(1.0127);transform-origin:100% 0">3.0</div>
<div class="t" style="top:234px;font-size:7.9px;line-height:9.0px;left:334px;width:120px;text-align:right;transform:translate(0.00px,0.25px) rotate(0.03deg) scaleX(1.0127);transform-origin:100% 0">1.5–5.7</div>
<div class="t" style="top:234px;font-size:7.9px;line-height:9.0px;left:366px;width:120px;text-align:right;transform:translate(0.80px,0.25px) rotate(0.03deg) scaleX(1.0127);transform-origin:100% 0">14.6</div>
<div class="t" style="top:234px;font-size:7.9px;line-height:9.0px;left:417px;width:120px;text-align:right;transform:translate(0.70px,0.25px) rotate(0.03deg) scaleX(1.0127);transform-origin:100% 0">11.0–19.1</div>
<div class="t" style="top:234px;font-size:7.9px;line-height:9.0px;left:451px;width:120px;text-align:right;transform:translate(0.20px,0.25px) rotate(0.03deg) scaleX(1.0127);transform-origin:100% 0;font-weight:bold;-webkit-text-stroke:0.1px #000">8.9</div>
<div class="t" style="top:234px;font-size:7.9px;line-height:9.0px;left:501px;width:120px;text-align:right;transform:translate(0.70px,0.25px) rotate(0.03deg) scaleX(1.0127);transform-origin:100% 0;font-weight:bold;-webkit-text-stroke:0.1px #000">6.7–11.9</div>
<div class="t" style="top:243px;font-size:7.9px;line-height:9.0px;left:9px;transform:translate(0.35px,0.60px) rotate(0.03deg) scaleX(1.0127);transform-origin:0 0;word-spacing:-0.7px">Mississippi</div>
<div class="t" style="top:243px;font-size:7.9px;line-height:9.0px;left:10px;width:120px;text-align:right;transform:translate(0.00px,0.60px) rotate(0.03deg) scaleX(1.0127);transform-origin:100% 0">11.7</div>
<div class="t" style="top:243px;font-size:7.9px;line-height:9.0px;left:60px;width:120px;text-align:right;transform:translate(0.40px,0.60px) rotate(0.03deg) scaleX(1.0127);transform-origin:100% 0">5.1–24.5</div>
<div class="t" style="top:243px;font-size:7.9px;line-height:9.0px;left:206px;transform:translate(0.45px,0.60px) rotate(0.03deg) scaleX(1.0127);transform-origin:0 0">—</div>
<div class="t" style="top:243px;font-size:7.9px;line-height:9.0px;left:243px;transform:translate(0.15px,0.60px) rotate(0.03deg) scaleX(1.0127);transform-origin:0 0">—</div>
<div class="t" style="top:243px;font-size:7.9px;line-height:9.0px;left:177px;width:120px;text-align:right;transform:translate(0.80px,0.60px) rotate(0.03deg) scaleX(1.0127);transform-origin:100% 0;font-weight:bold;-webkit-text-stroke:0.1px #000">20.9</div>
<div class="t" style="top:243px;font-size:7.9px;line-height:9.0px;left:228px;width:120px;text-align:right;transform:translate(0.20px,0.60px) rotate(0.03deg) scaleX(1.0127);transform-origin:100% 0;font-weight:bold;-webkit-text-stroke:0.1px #000">13.3–31.2</div>
<div class="t" style="top:243px;font-size:7.9px;line-height:9.0px;left:282px;width:120px;text-align:right;transform:translate(0.80px,0.60px) rotate(0.03deg) scaleX(1.0127);transform-origin:100% 0">0.8</div>
<div class="t" style="top:243px;font-size:7.9px;line-height:9.0px;left:334px;width:120px;text-align:right;transform:translate(0.00px,0.60px) rotate(0.03deg) scaleX(1.0127);transform-origin:100% 0">0.3–2.0</div>
<div class="t" style="top:243px;font-size:7.9px;line-height:9.0px;left:366px;width:120px;text-align:right;transform:translate(0.80px,0.60px) rotate(0.03deg) scaleX(1.0127);transform-origin:100% 0">14.6</div>
<div class="t" style="top:243px;font-size:7.9px;line-height:9.0px;left:417px;width:120px;text-align:right;transform:translate(0.70px,0.60px) rotate(0.03deg) scaleX(1.0127);transform-origin:100% 0">11.3–18.6</div>
<div class="t" style="top:243px;font-size:7.9px;line-height:9.0px;left:451px;width:120px;text-align:right;transform:translate(0.20px,0.60px) rotate(0.03deg) scaleX(1.0127);transform-origin:100% 0;font-weight:bold;-webkit-text-stroke:0.1px #000">7.8</div>
<div class="t" style="top:243px;font-size:7.9px;line-height:9.0px;left:501px;width:120px;text-align:right;transform:translate(0.70px,0.60px) rotate(0.03deg) scaleX(1.0127);transform-origin:100% 0;font-weight:bold;-webkit-text-stroke:0.1px #000">6.1–9.8</div>
<div class="t" style="top:252px;font-size:7.9px;line-height:9.0px;left:9px;transform:translate(0.35px,0.96px) rotate(0.03deg) scaleX(1.0127);transform-origin:0 0;word-spacing:-0.7px">Missouri</div>
<div class="t" style="top:252px;font-size:7.9px;line-height:9.0px;left:10px;width:120px;text-align:right;transform:translate(0.00px,0.96px) rotate(0.03deg) scaleX(1.0127);transform-origin:100% 0">6.9</div>
<div class="t" style="top:252px;font-size:7.9px;line-height:9.0px;left:60px;width:120px;text-align:right;transform:translate(0.40px,0.96px) rotate(0.03deg) scaleX(1.0127);transform-origin:100% 0">3.9–12.0</div>
<div class="t" style="top:252px;font-size:7.9px;line-height:9.0px;left:93px;width:120px;text-align:right;transform:translate(0.80px,0.96px) rotate(0.03deg) scaleX(1.0127);transform-origin:100% 0">19.3</div>
<div class="t" style="top:252px;font-size:7.9px;line-height:9.0px;left:144px;width:120px;text-align:right;transform:translate(0.00px,0.96px) rotate(0.03deg) scaleX(1.0127);transform-origin:100% 0">12.2–29.2</div>
<div class="t" style="top:252px;font-size:7.9px;line-height:9.0px;left:177px;width:120px;text-align:right;transform:translate(0.80px,0.96px) rotate(0.03deg) scaleX(1.0127);transform-origin:100% 0;font-weight:bold;-webkit-text-stroke:0.1px #000">13.0</div>
<div class="t" style="top:252px;font-size:7.9px;line-height:9.0px;left:228px;width:120px;text-align:right;transform:translate(0.20px,0.96px) rotate(0.03deg) scaleX(1.0127);transform-origin:100% 0;font-weight:bold;-webkit-text-stroke:0.1px #000">8.8–18.9</div>
<div class="t" style="top:252px;font-size:7.9px;line-height:9.0px;left:282px;width:120px;text-align:right;transform:translate(0.80px,0.96px) rotate(0.03deg) scaleX(1.0127);transform-origin:100% 0">1.7</div>
<div class="t" style="top:252px;font-size:7.9px;line-height:9.0px;left:334px;width:120px;text-align:right;transform:translate(0.00px,0.96px) rotate(0.03deg) scaleX(1.0127);transform-origin:100% 0">0.9–3.0</div>
<div class="t" style="top:252px;font-size:7.9px;line-height:9.0px;left:366px;width:120px;text-align:right;transform:translate(0.80px,0.96px) rotate(0.03deg) scaleX(1.0127);transform-origin:100% 0">15.8</div>
<div class="t" style="top:252px;font-size:7.9px;line-height:9.0px;left:417px;width:120px;text-align:right;transform:translate(0.70px,0.96px) rotate(0.03deg) scaleX(1.0127);transform-origin:100% 0">11.7–21.1</div>
<div class="t" style="top:252px;font-size:7.9px;line-height:9.0px;left:451px;width:120px;text-align:right;transform:translate(0.20px,0.96px) rotate(0.03deg) scaleX(1.0127);transform-origin:100% 0;font-weight:bold;-webkit-text-stroke:0.1px #000">9.1</div>
<div class="t" style="top:252px;font-size:7.9px;line-height:9.0px;left:501px;width:120px;text-align:right;transform:translate(0.70px,0.96px) rotate(0.03deg) scaleX(1.0127);transform-origin:100% 0;font-weight:bold;-webkit-text-stroke:0.1px #000">6.6–12.5</div>
<div class="t" style="top:262px;font-size:7.9px;line-height:9.0px;left:9px;transform:translate(0.35px,0.31px) rotate(0.03deg) scaleX(1.0127);transform-origin:0 0;word-spacing:-0.7px">Montana</div>
<div class="t" style="top:262px;font-size:7.9px;line-height:9.0px;left:10px;width:120px;text-align:right;transform:translate(0.00px,0.31px) rotate(0.03deg) scaleX(1.0127);transform-origin:100% 0">5.3</div>
<div class="t" style="top:262px;font-size:7.9px;line-height:9.0px;left:60px;width:120px;text-align:right;transform:translate(0.40px,0.31px) rotate(0.03deg) scaleX(1.0127);transform-origin:100% 0">3.2–8.6</div>
<div class="t" style="top:262px;font-size:7.9px;line-height:9.0px;left:93px;width:120px;text-align:right;transform:translate(0.80px,0.31px) rotate(0.03deg) scaleX(1.0127);transform-origin:100% 0">14.0</div>
<div class="t" style="top:262px;font-size:7.9px;line-height:9.0px;left:144px;width:120px;text-align:right;transform:translate(0.00px,0.31px) rotate(0.03deg) scaleX(1.0127);transform-origin:100% 0">8.5–22.3</div>
<div class="t" style="top:262px;font-size:7.9px;line-height:9.0px;left:177px;width:120px;text-align:right;transform:translate(0.80px,0.31px) rotate(0.03deg) scaleX(1.0127);transform-origin:100% 0;font-weight:bold;-webkit-text-stroke:0.1px #000">9.3</div>
<div class="t" style="top:262px;font-size:7.9px;line-height:9.0px;left:228px;width:120px;text-align:right;transform:translate(0.20px,0.31px) rotate(0.03deg) scaleX(1.0127);transform-origin:100% 0;font-weight:bold;-webkit-text-stroke:0.1px #000">6.5–13.1</div>
<div class="t" style="top:262px;font-size:7.9px;line-height:9.0px;left:282px;width:120px;text-align:right;transform:translate(0.80px,0.31px) rotate(0.03deg) scaleX(1.0127);transform-origin:100% 0">5.3</div>
<div class="t" style="top:262px;font-size:7.9px;line-height:9.0px;left:334px;width:120px;text-align:right;transform:translate(0.00px,0.31px) rotate(0.03deg) scaleX(1.0127);transform-origin:100% 0">4.2–6.6</div>
<div class="t" style="top:262px;font-size:7.9px;line-height:9.0px;left:366px;width:120px;text-align:right;transform:translate(0.80px,0.31px) rotate(0.03deg) scaleX(1.0127);transform-origin:100% 0">20.3</div>
<div class="t" style="top:262px;font-size:7.9px;line-height:9.0px;left:417px;width:120px;text-align:right;transform:translate(0.70px,0.31px) rotate(0.03deg) scaleX(1.0127);transform-origin:100% 0">17.7–23.2</div>
<div class="t" style="top:262px;font-size:7.9px;line-height:9.0px;left:451px;width:120px;text-align:right;transform:translate(0.20px,0.31px) rotate(0.03deg) scaleX(1.0127);transform-origin:100% 0;font-weight:bold;-webkit-text-stroke:0.1px #000">12.9</div>
<div class="t" style="top:262px;font-size:7.9px;line-height:9.0px;left:501px;width:120px;text-align:right;transform:translate(0.70px,0.31px) rotate(0.03deg) scaleX(1.0127);transform-origin:100% 0;font-weight:bold;-webkit-text-stroke:0.1px #000">11.3–14.7</div>
<div class="t" style="top:271px;font-size:7.9px;line-height:9.0px;left:9px;transform:translate(0.35px,0.67px) rotate(0.03deg) scaleX(1.0127);transform-origin:0 0;word-spacing:-0.7px">Nevada</div>
<div class="t" style="top:271px;font-size:7.9px;line-height:9.0px;left:10px;width:120px;text-align:right;transform:translate(0.00px,0.67px) rotate(0.03deg) scaleX(1.0127);transform-origin:100% 0">6.3</div>
<div class="t" style="top:271px;font-size:7.9px;line-height:9.0px;left:60px;width:120px;text-align:right;transform:translate(0.40px,0.67px) rotate(0.03deg) scaleX(1.0127);transform-origin:100% 0">2.9–13.4</div>
<div class="t" style="top:271px;font-size:7.9px;line-height:9.0px;left:206px;transform:translate(0.45px,0.67px) rotate(0.03deg) scaleX(1.0127);transform-origin:0 0">—</div>
<div class="t" style="top:271px;font-size:7.9px;line-height:9.0px;left:243px;transform:translate(0.15px,0.67px) rotate(0.03deg) scaleX(1.0127);transform-origin:0 0">—</div>
<div class="t" style="top:271px;font-size:7.9px;line-height:9.0px;left:177px;width:120px;text-align:right;transform:translate(0.80px,0.67px) rotate(0.03deg) scaleX(1.0127);transform-origin:100% 0;font-weight:bold;-webkit-text-stroke:0.1px #000">10.1</div>
<div class="t" style="top:271px;font-size:7.9px;line-height:9.0px;left:228px;width:120px;text-align:right;transform:translate(0.20px,0.67px) rotate(0.03deg) scaleX(1.0127);transform-origin:100% 0;font-weight:bold;-webkit-text-stroke:0.1px #000">7.1–14.2</div>
<div class="t" style="top:271px;font-size:7.9px;line-height:9.0px;left:282px;width:120px;text-align:right;transform:translate(0.80px,0.67px) rotate(0.03deg) scaleX(1.0127);transform-origin:100% 0">2.2</div>
<div class="t" style="top:271px;font-size:7.9px;line-height:9.0px;left:334px;width:120px;text-align:right;transform:translate(0.00px,0.67px) rotate(0.03deg) scaleX(1.0127);transform-origin:100% 0">1.3–3.7</div>
<div class="t" style="top:271px;font-size:7.9px;line-height:9.0px;left:366px;width:120px;text-align:right;transform:translate(0.80px,0.67px) rotate(0.03deg) scaleX(1.0127);transform-origin:100% 0">6.6</div>
<div class="t" style="top:271px;font-size:7.9px;line-height:9.0px;left:417px;width:120px;text-align:right;transform:translate(0.70px,0.67px) rotate(0.03deg) scaleX(1.0127);transform-origin:100% 0">4.6–9.3</div>
<div class="t" style="top:271px;font-size:7.9px;line-height:9.0px;left:451px;width:120px;text-align:right;transform:translate(0.20px,0.67px) rotate(0.03deg) scaleX(1.0127);transform-origin:100% 0;font-weight:bold;-webkit-text-stroke:0.1px #000">4.5</div>
<div class="t" style="top:271px;font-size:7.9px;line-height:9.0px;left:501px;width:120px;text-align:right;transform:translate(0.70px,0.67px) rotate(0.03deg) scaleX(1.0127);transform-origin:100% 0;font-weight:bold;-webkit-text-stroke:0.1px #000">3.4–5.8</div>
<div class="t" style="top:281px;font-size:7.9px;line-height:9.0px;left:9px;transform:translate(0.35px,0.02px) rotate(0.03deg) scaleX(1.0127);transform-origin:0 0;word-spacing:-0.7px">New Hampshire</div>
<div class="t" style="top:281px;font-size:7.9px;line-height:9.0px;left:122px;transform:translate(0.35px,0.02px) rotate(0.03deg) scaleX(1.0127);transform-origin:0 0">—</div>
<div class="t" style="top:281px;font-size:7.9px;line-height:9.0px;left:159px;transform:translate(0.10px,0.02px) rotate(0.03deg) scaleX(1.0127);transform-origin:0 0">—</div>
<div class="t" style="top:281px;font-size:7.9px;line-height:9.0px;left:206px;transform:translate(0.45px,0.02px) rotate(0.03deg) scaleX(1.0127);transform-origin:0 0">—</div>
<div class="t" style="top:281px;font-size:7.9px;line-height:9.0px;left:243px;transform:translate(0.15px,0.02px) rotate(0.03deg) scaleX(1.0127);transform-origin:0 0">—</div>
<div class="t" style="top:281px;font-size:7.9px;line-height:9.0px;left:290px;transform:translate(0.35px,0.02px) rotate(0.03deg) scaleX(1.0127);transform-origin:0 0">—</div>
<div class="t" style="top:281px;font-size:7.9px;line-height:9.0px;left:327px;transform:translate(0.55px,0.02px) rotate(0.03deg) scaleX(1.0127);transform-origin:0 0">—</div>
<div class="t" style="top:281px;font-size:7.9px;line-height:9.0px;left:282px;width:120px;text-align:right;transform:translate(0.80px,0.02px) rotate(0.03deg) scaleX(1.0127);transform-origin:100% 0">1.8</div>
<div class="t" style="top:281px;font-size:7.9px;line-height:9.0px;left:334px;width:120px;text-align:right;transform:translate(0.00px,0.02px) rotate(0.03deg) scaleX(1.0127);transform-origin:100% 0">1.2–2.9</div>
<div class="t" style="top:281px;font-size:7.9px;line-height:9.0px;left:366px;width:120px;text-align:right;transform:translate(0.80px,0.02px) rotate(0.03deg) scaleX(1.0127);transform-origin:100% 0">12.2</div>
<div class="t" style="top:281px;font-size:7.9px;line-height:9.0px;left:417px;width:120px;text-align:right;transform:translate(0.70px,0.02px) rotate(0.03deg) scaleX(1.0127);transform-origin:100% 0">10.0–15.0</div>
<div class="t" style="top:281px;font-size:7.9px;line-height:9.0px;left:451px;width:120px;text-align:right;transform:translate(0.20px,0.02px) rotate(0.03deg) scaleX(1.0127);transform-origin:100% 0;font-weight:bold;-webkit-text-stroke:0.1px #000">7.2</div>
<div class="t" style="top:281px;font-size:7.9px;line-height:9.0px;left:501px;width:120px;text-align:right;transform:translate(0.70px,0.02px) rotate(0.03deg) scaleX(1.0127);transform-origin:100% 0;font-weight:bold;-webkit-text-stroke:0.1px #000">5.8–8.8</div>
<div class="t" style="top:290px;font-size:7.9px;line-height:9.0px;left:9px;transform:translate(0.35px,0.38px) rotate(0.03deg) scaleX(1.0127);transform-origin:0 0;word-spacing:-0.7px">New Mexico</div>
<div class="t" style="top:290px;font-size:7.9px;line-height:9.0px;left:10px;width:120px;text-align:right;transform:translate(0.00px,0.38px) rotate(0.03deg) scaleX(1.0127);transform-origin:100% 0">6.1</div>
<div class="t" style="top:290px;font-size:7.9px;line-height:9.0px;left:60px;width:120px;text-align:right;transform:translate(0.40px,0.38px) rotate(0.03deg) scaleX(1.0127);transform-origin:100% 0">3.4–10.9</div>
<div class="t" style="top:290px;font-size:7.9px;line-height:9.0px;left:93px;width:120px;text-align:right;transform:translate(0.80px,0.38px) rotate(0.03deg) scaleX(1.0127);transform-origin:100% 0">16.4</div>
<div class="t" style="top:290px;font-size:7.9px;line-height:9.0px;left:144px;width:120px;text-align:right;transform:translate(0.00px,0.38px) rotate(0.03deg) scaleX(1.0127);transform-origin:100% 0">10.7–24.4</div>
<div class="t" style="top:290px;font-size:7.9px;line-height:9.0px;left:177px;width:120px;text-align:right;transform:translate(0.80px,0.38px) rotate(0.03deg) scaleX(1.0127);transform-origin:100% 0;font-weight:bold;-webkit-text-stroke:0.1px #000">11.2</div>
<div class="t" style="top:290px;font-size:7.9px;line-height:9.0px;left:228px;width:120px;text-align:right;transform:translate(0.20px,0.38px) rotate(0.03deg) scaleX(1.0127);transform-origin:100% 0;font-weight:bold;-webkit-text-stroke:0.1px #000">8.2–15.1</div>
<div class="t" style="top:290px;font-size:7.9px;line-height:9.0px;left:282px;width:120px;text-align:right;transform:translate(0.80px,0.38px) rotate(0.03deg) scaleX(1.0127);transform-origin:100% 0">5.7</div>
<div class="t" style="top:290px;font-size:7.9px;line-height:9.0px;left:334px;width:120px;text-align:right;transform:translate(0.00px,0.38px) rotate(0.03deg) scaleX(1.0127);transform-origin:100% 0">3.2–10.0</div>
<div class="t" style="top:290px;font-size:7.9px;line-height:9.0px;left:366px;width:120px;text-align:right;transform:translate(0.80px,0.38px) rotate(0.03deg) scaleX(1.0127);transform-origin:100% 0">17.4</div>
<div class="t" style="top:290px;font-size:7.9px;line-height:9.0px;left:417px;width:120px;text-align:right;transform:translate(0.70px,0.38px) rotate(0.03deg) scaleX(1.0127);transform-origin:100% 0">15.1–20.1</div>
<div class="t" style="top:290px;font-size:7.9px;line-height:9.0px;left:451px;width:120px;text-align:right;transform:translate(0.20px,0.38px) rotate(0.03deg) scaleX(1.0127);transform-origin:100% 0;font-weight:bold;-webkit-text-stroke:0.1px #000">11.8</div>
<div class="t" style="top:290px;font-size:7.9px;line-height:9.0px;left:501px;width:120px;text-align:right;transform:translate(0.70px,0.38px) rotate(0.03deg) scaleX(1.0127);transform-origin:100% 0;font-weight:bold;-webkit-text-stroke:0.1px #000">10.1–13.7</div>
<div class="t" style="top:299px;font-size:7.9px;line-height:9.0px;left:9px;transform:translate(0.35px,0.73px) rotate(0.03deg) scaleX(1.0127);transform-origin:0 0;word-spacing:-0.7px">New York</div>
<div class="t" style="top:299px;font-size:7.9px;line-height:9.0px;left:122px;transform:translate(0.35px,0.73px) rotate(0.03deg) scaleX(1.0127);transform-origin:0 0">—</div>
<div class="t" style="top:299px;font-size:7.9px;line-height:9.0px;left:159px;transform:translate(0.10px,0.73px) rotate(0.03deg) scaleX(1.0127);transform-origin:0 0">—</div>
<div class="t" style="top:299px;font-size:7.9px;line-height:9.0px;left:206px;transform:translate(0.45px,0.73px) rotate(0.03deg) scaleX(1.0127);transform-origin:0 0">—</div>
<div class="t" style="top:299px;font-size:7.9px;line-height:9.0px;left:243px;transform:translate(0.15px,0.73px) rotate(0.03deg) scaleX(1.0127);transform-origin:0 0">—</div>
<div class="t" style="top:299px;font-size:7.9px;line-height:9.0px;left:290px;transform:translate(0.35px,0.73px) rotate(0.03deg) scaleX(1.0127);transform-origin:0 0">—</div>
<div class="t" style="top:299px;font-size:7.9px;line-height:9.0px;left:327px;transform:translate(0.55px,0.73px) rotate(0.03deg) scaleX(1.0127);transform-origin:0 0">—</div>
<div class="t" style="top:299px;font-size:7.9px;line-height:9.0px;left:282px;width:120px;text-align:right;transform:translate(0.80px,0.73px) rotate(0.03deg) scaleX(1.0127);transform-origin:100% 0">2.1</div>
<div class="t" style="top:299px;font-size:7.9px;line-height:9.0px;left:334px;width:120px;text-align:right;transform:translate(0.00px,0.73px) rotate(0.03deg) scaleX(1.0127);transform-origin:100% 0">1.4–3.2</div>
<div class="t" style="top:299px;font-size:7.9px;line-height:9.0px;left:366px;width:120px;text-align:right;transform:translate(0.80px,0.73px) rotate(0.03deg) scaleX(1.0127);transform-origin:100% 0">8.0</div>
<div class="t" style="top:299px;font-size:7.9px;line-height:9.0px;left:417px;width:120px;text-align:right;transform:translate(0.70px,0.73px) rotate(0.03deg) scaleX(1.0127);transform-origin:100% 0">6.7–9.5</div>
<div class="t" style="top:299px;font-size:7.9px;line-height:9.0px;left:451px;width:120px;text-align:right;transform:translate(0.20px,0.73px) rotate(0.03deg) scaleX(1.0127);transform-origin:100% 0;font-weight:bold;-webkit-text-stroke:0.1px #000">5.1</div>
<div class="t" style="top:299px;font-size:7.9px;line-height:9.0px;left:501px;width:120px;text-align:right;transform:translate(0.70px,0.73px) rotate(0.03deg) scaleX(1.0127);transform-origin:100% 0;font-weight:bold;-webkit-text-stroke:0.1px #000">4.2–6.2</div>
<div class="t" style="top:309px;font-size:7.9px;line-height:9.0px;left:9px;transform:translate(0.35px,0.09px) rotate(0.03deg) scaleX(1.0127);transform-origin:0 0;word-spacing:-0.7px">North Carolina</div>
<div class="t" style="top:309px;font-size:7.9px;line-height:9.0px;left:122px;transform:translate(0.35px,0.09px) rotate(0.03deg) scaleX(1.0127);transform-origin:0 0">—</div>
<div class="t" style="top:309px;font-size:7.9px;line-height:9.0px;left:159px;transform:translate(0.10px,0.09px) rotate(0.03deg) scaleX(1.0127);transform-origin:0 0">—</div>
<div class="t" style="top:309px;font-size:7.9px;line-height:9.0px;left:206px;transform:translate(0.45px,0.09px) rotate(0.03deg) scaleX(1.0127);transform-origin:0 0">—</div>
<div class="t" style="top:309px;font-size:7.9px;line-height:9.0px;left:243px;transform:translate(0.15px,0.09px) rotate(0.03deg) scaleX(1.0127);transform-origin:0 0">—</div>
<div class="t" style="top:309px;font-size:7.9px;line-height:9.0px;left:290px;transform:translate(0.35px,0.09px) rotate(0.03deg) scaleX(1.0127);transform-origin:0 0">—</div>
<div class="t" style="top:309px;font-size:7.9px;line-height:9.0px;left:327px;transform:translate(0.55px,0.09px) rotate(0.03deg) scaleX(1.0127);transform-origin:0 0">—</div>
<div class="t" style="top:309px;font-size:7.9px;line-height:9.0px;left:395px;transform:translate(0.35px,0.09px) rotate(0.03deg) scaleX(1.0127);transform-origin:0 0">—</div>
<div class="t" style="top:309px;font-size:7.9px;line-height:9.0px;left:432px;transform:translate(0.90px,0.09px) rotate(0.03deg) scaleX(1.0127);transform-origin:0 0">—</div>
<div class="t" style="top:309px;font-size:7.9px;line-height:9.0px;left:479px;transform:translate(0.50px,0.09px) rotate(0.03deg) scaleX(1.0127);transform-origin:0 0">—</div>
<div class="t" style="top:309px;font-size:7.9px;line-height:9.0px;left:517px;transform:translate(0.00px,0.09px) rotate(0.03deg) scaleX(1.0127);transform-origin:0 0">—</div>
<div class="t" style="top:309px;font-size:7.9px;line-height:9.0px;left:563px;transform:translate(0.40px,0.09px) rotate(0.03deg) scaleX(1.0127);transform-origin:0 0">—</div>
<div class="t" style="top:309px;font-size:7.9px;line-height:9.0px;left:600px;transform:translate(0.80px,0.09px) rotate(0.03deg) scaleX(1.0127);transform-origin:0 0">—</div>
<div class="t" style="top:318px;font-size:7.9px;line-height:9.0px;left:9px;transform:translate(0.35px,0.44px) rotate(0.03deg) scaleX(1.0127);transform-origin:0 0;word-spacing:-0.7px">North Dakota</div>
<div class="t" style="top:318px;font-size:7.9px;line-height:9.0px;left:10px;width:120px;text-align:right;transform:translate(0.00px,0.44px) rotate(0.03deg) scaleX(1.0127);transform-origin:100% 0">6.9</div>
<div class="t" style="top:318px;font-size:7.9px;line-height:9.0px;left:60px;width:120px;text-align:right;transform:translate(0.40px,0.44px) rotate(0.03deg) scaleX(1.0127);transform-origin:100% 0">3.8–12.5</div>
<div class="t" style="top:318px;font-size:7.9px;line-height:9.0px;left:93px;width:120px;text-align:right;transform:translate(0.80px,0.44px) rotate(0.03deg) scaleX(1.0127);transform-origin:100% 0">16.8</div>
<div class="t" style="top:318px;font-size:7.9px;line-height:9.0px;left:144px;width:120px;text-align:right;transform:translate(0.00px,0.44px) rotate(0.03deg) scaleX(1.0127);transform-origin:100% 0">9.8–27.4</div>
<div class="t" style="top:318px;font-size:7.9px;line-height:9.0px;left:177px;width:120px;text-align:right;transform:translate(0.80px,0.44px) rotate(0.03deg) scaleX(1.0127);transform-origin:100% 0;font-weight:bold;-webkit-text-stroke:0.1px #000">11.8</div>
<div class="t" style="top:318px;font-size:7.9px;line-height:9.0px;left:228px;width:120px;text-align:right;transform:translate(0.20px,0.44px) rotate(0.03deg) scaleX(1.0127);transform-origin:100% 0;font-weight:bold;-webkit-text-stroke:0.1px #000">8.1–16.8</div>
<div class="t" style="top:318px;font-size:7.9px;line-height:9.0px;left:282px;width:120px;text-align:right;transform:translate(0.80px,0.44px) rotate(0.03deg) scaleX(1.0127);transform-origin:100% 0">3.2</div>
<div class="t" style="top:318px;font-size:7.9px;line-height:9.0px;left:334px;width:120px;text-align:right;transform:translate(0.00px,0.44px) rotate(0.03deg) scaleX(1.0127);transform-origin:100% 0">2.1–4.8</div>
<div class="t" style="top:318px;font-size:7.9px;line-height:9.0px;left:366px;width:120px;text-align:right;transform:translate(0.80px,0.44px) rotate(0.03deg) scaleX(1.0127);transform-origin:100% 0">19.8</div>
<div class="t" style="top:318px;font-size:7.9px;line-height:9.0px;left:417px;width:120px;text-align:right;transform:translate(0.70px,0.44px) rotate(0.03deg) scaleX(1.0127);transform-origin:100% 0">16.6–23.5</div>
<div class="t" style="top:318px;font-size:7.9px;line-height:9.0px;left:451px;width:120px;text-align:right;transform:translate(0.20px,0.44px) rotate(0.03deg) scaleX(1.0127);transform-origin:100% 0;font-weight:bold;-webkit-text-stroke:0.1px #000">11.7</div>
<div class="t" style="top:318px;font-size:7.9px;line-height:9.0px;left:501px;width:120px;text-align:right;transform:translate(0.70px,0.44px) rotate(0.03deg) scaleX(1.0127);transform-origin:100% 0;font-weight:bold;-webkit-text-stroke:0.1px #000">9.9–13.7</div>
<div class="t" style="top:327px;font-size:7.9px;line-height:9.0px;left:9px;transform:translate(0.35px,0.80px) rotate(0.03deg) scaleX(1.0127);transform-origin:0 0;word-spacing:-0.7px">Ohio</div>
<div class="t" style="top:327px;font-size:7.9px;line-height:9.0px;left:10px;width:120px;text-align:right;transform:translate(0.00px,0.80px) rotate(0.03deg) scaleX(1.0127);transform-origin:100% 0">15.5</div>
<div class="t" style="top:327px;font-size:7.9px;line-height:9.0px;left:60px;width:120px;text-align:right;transform:translate(0.40px,0.80px) rotate(0.03deg) scaleX(1.0127);transform-origin:100% 0">10.3–22.6</div>
<div class="t" style="top:327px;font-size:7.9px;line-height:9.0px;left:93px;width:120px;text-align:right;transform:translate(0.80px,0.80px) rotate(0.03deg) scaleX(1.0127);transform-origin:100% 0">23.0</div>
<div class="t" style="top:327px;font-size:7.9px;line-height:9.0px;left:144px;width:120px;text-align:right;transform:translate(0.00px,0.80px) rotate(0.03deg) scaleX(1.0127);transform-origin:100% 0">16.0–32.0</div>
<div class="t" style="top:327px;font-size:7.9px;line-height:9.0px;left:177px;width:120px;text-align:right;transform:translate(0.80px,0.80px) rotate(0.03deg) scaleX(1.0127);transform-origin:100% 0;font-weight:bold;-webkit-text-stroke:0.1px #000">19.4</div>
<div class="t" style="top:327px;font-size:7.9px;line-height:9.0px;left:228px;width:120px;text-align:right;transform:translate(0.20px,0.80px) rotate(0.03deg) scaleX(1.0127);transform-origin:100% 0;font-weight:bold;-webkit-text-stroke:0.1px #000">14.0–26.2</div>
<div class="t" style="top:327px;font-size:7.9px;line-height:9.0px;left:282px;width:120px;text-align:right;transform:translate(0.80px,0.80px) rotate(0.03deg) scaleX(1.0127);transform-origin:100% 0">2.3</div>
<div class="t" style="top:327px;font-size:7.9px;line-height:9.0px;left:334px;width:120px;text-align:right;transform:translate(0.00px,0.80px) rotate(0.03deg) scaleX(1.0127);transform-origin:100% 0">1.5–3.4</div>
<div class="t" style="top:327px;font-size:7.9px;line-height:9.0px;left:366px;width:120px;text-align:right;transform:translate(0.80px,0.80px) rotate(0.03deg) scaleX(1.0127);transform-origin:100% 0">17.0</div>
<div class="t" style="top:327px;font-size:7.9px;line-height:9.0px;left:417px;width:120px;text-align:right;transform:translate(0.70px,0.80px) rotate(0.03deg) scaleX(1.0127);transform-origin:100% 0">14.3–20.2</div>
<div class="t" style="top:327px;font-size:7.9px;line-height:9.0px;left:451px;width:120px;text-align:right;transform:translate(0.20px,0.80px) rotate(0.03deg) scaleX(1.0127);transform-origin:100% 0;font-weight:bold;-webkit-text-stroke:0.1px #000">9.8</div>
<div class="t" style="top:327px;font-size:7.9px;line-height:9.0px;left:501px;width:120px;text-align:right;transform:translate(0.70px,0.80px) rotate(0.03deg) scaleX(1.0127);transform-origin:100% 0;font-weight:bold;-webkit-text-stroke:0.1px #000">8.2–11.5</div>
<div class="t" style="top:337px;font-size:7.9px;line-height:9.0px;left:9px;transform:translate(0.35px,0.15px) rotate(0.03deg) scaleX(1.0127);transform-origin:0 0;word-spacing:-0.7px">Oklahoma</div>
<div class="t" style="top:337px;font-size:7.9px;line-height:9.0px;left:10px;width:120px;text-align:right;transform:translate(0.00px,0.15px) rotate(0.03deg) scaleX(1.0127);transform-origin:100% 0">14.8</div>
<div class="t" style="top:337px;font-size:7.9px;line-height:9.0px;left:60px;width:120px;text-align:right;transform:translate(0.40px,0.15px) rotate(0.03deg) scaleX(1.0127);transform-origin:100% 0">10.1–21.2</div>
<div class="t" style="top:337px;font-size:7.9px;line-height:9.0px;left:93px;width:120px;text-align:right;transform:translate(0.80px,0.15px) rotate(0.03deg) scaleX(1.0127);transform-origin:100% 0">22.8</div>
<div class="t" style="top:337px;font-size:7.9px;line-height:9.0px;left:144px;width:120px;text-align:right;transform:translate(0.00px,0.15px) rotate(0.03deg) scaleX(1.0127);transform-origin:100% 0">15.5–32.2</div>
<div class="t" style="top:337px;font-size:7.9px;line-height:9.0px;left:177px;width:120px;text-align:right;transform:translate(0.80px,0.15px) rotate(0.03deg) scaleX(1.0127);transform-origin:100% 0;font-weight:bold;-webkit-text-stroke:0.1px #000">19.2</div>
<div class="t" style="top:337px;font-size:7.9px;line-height:9.0px;left:228px;width:120px;text-align:right;transform:translate(0.20px,0.15px) rotate(0.03deg) scaleX(1.0127);transform-origin:100% 0;font-weight:bold;-webkit-text-stroke:0.1px #000">14.0–25.9</div>
<div class="t" style="top:337px;font-size:7.9px;line-height:9.0px;left:282px;width:120px;text-align:right;transform:translate(0.80px,0.15px) rotate(0.03deg) scaleX(1.0127);transform-origin:100% 0">2.1</div>
<div class="t" style="top:337px;font-size:7.9px;line-height:9.0px;left:334px;width:120px;text-align:right;transform:translate(0.00px,0.15px) rotate(0.03deg) scaleX(1.0127);transform-origin:100% 0">1.4–3.2</div>
<div class="t" style="top:337px;font-size:7.9px;line-height:9.0px;left:366px;width:120px;text-align:right;transform:translate(0.80px,0.15px) rotate(0.03deg) scaleX(1.0127);transform-origin:100% 0">24.8</div>
<div class="t" style="top:337px;font-size:7.9px;line-height:9.0px;left:417px;width:120px;text-align:right;transform:translate(0.70px,0.15px) rotate(0.03deg) scaleX(1.0127);transform-origin:100% 0">20.3–30.0</div>
<div class="t" style="top:337px;font-size:7.9px;line-height:9.0px;left:451px;width:120px;text-align:right;transform:translate(0.20px,0.15px) rotate(0.03deg) scaleX(1.0127);transform-origin:100% 0;font-weight:bold;-webkit-text-stroke:0.1px #000">13.7</div>
<div class="t" style="top:337px;font-size:7.9px;line-height:9.0px;left:501px;width:120px;text-align:right;transform:translate(0.70px,0.15px) rotate(0.03deg) scaleX(1.0127);transform-origin:100% 0;font-weight:bold;-webkit-text-stroke:0.1px #000">11.2–16.6</div>
<div class="t" style="top:346px;font-size:7.9px;line-height:9.0px;left:9px;transform:translate(0.35px,0.51px) rotate(0.03deg) scaleX(1.0127);transform-origin:0 0;word-spacing:-0.7px">Rhode Island</div>
<div class="t" style="top:346px;font-size:7.9px;line-height:9.0px;left:10px;width:120px;text-align:right;transform:translate(0.00px,0.51px) rotate(0.03deg) scaleX(1.0127);transform-origin:100% 0">18.6</div>
<div class="t" style="top:346px;font-size:7.9px;line-height:9.0px;left:60px;width:120px;text-align:right;transform:translate(0.40px,0.51px) rotate(0.03deg) scaleX(1.0127);transform-origin:100% 0">13.1–25.7</div>
<div class="t" style="top:346px;font-size:7.9px;line-height:9.0px;left:93px;width:120px;text-align:right;transform:translate(0.80px,0.51px) rotate(0.03deg) scaleX(1.0127);transform-origin:100% 0">35.2</div>
<div class="t" style="top:346px;font-size:7.9px;line-height:9.0px;left:144px;width:120px;text-align:right;transform:translate(0.00px,0.51px) rotate(0.03deg) scaleX(1.0127);transform-origin:100% 0">24.5–47.6</div>
<div class="t" style="top:346px;font-size:7.9px;line-height:9.0px;left:177px;width:120px;text-align:right;transform:translate(0.80px,0.51px) rotate(0.03deg) scaleX(1.0127);transform-origin:100% 0;font-weight:bold;-webkit-text-stroke:0.1px #000">27.0</div>
<div class="t" style="top:346px;font-size:7.9px;line-height:9.0px;left:228px;width:120px;text-align:right;transform:translate(0.20px,0.51px) rotate(0.03deg) scaleX(1.0127);transform-origin:100% 0;font-weight:bold;-webkit-text-stroke:0.1px #000">20.3–35.0</div>
<div class="t" style="top:346px;font-size:7.9px;line-height:9.0px;left:282px;width:120px;text-align:right;transform:translate(0.80px,0.51px) rotate(0.03deg) scaleX(1.0127);transform-origin:100% 0">2.4</div>
<div class="t" style="top:346px;font-size:7.9px;line-height:9.0px;left:334px;width:120px;text-align:right;transform:translate(0.00px,0.51px) rotate(0.03deg) scaleX(1.0127);transform-origin:100% 0">1.5–3.9</div>
<div class="t" style="top:346px;font-size:7.9px;line-height:9.0px;left:366px;width:120px;text-align:right;transform:translate(0.80px,0.51px) rotate(0.03deg) scaleX(1.0127);transform-origin:100% 0">10.6</div>
<div class="t" style="top:346px;font-size:7.9px;line-height:9.0px;left:417px;width:120px;text-align:right;transform:translate(0.70px,0.51px) rotate(0.03deg) scaleX(1.0127);transform-origin:100% 0">7.4–14.9</div>
<div class="t" style="top:346px;font-size:7.9px;line-height:9.0px;left:451px;width:120px;text-align:right;transform:translate(0.20px,0.51px) rotate(0.03deg) scaleX(1.0127);transform-origin:100% 0;font-weight:bold;-webkit-text-stroke:0.1px #000">6.5</div>
<div class="t" style="top:346px;font-size:7.9px;line-height:9.0px;left:501px;width:120px;text-align:right;transform:translate(0.70px,0.51px) rotate(0.03deg) scaleX(1.0127);transform-origin:100% 0;font-weight:bold;-webkit-text-stroke:0.1px #000">4.7–8.9</div>
<div class="t" style="top:355px;font-size:7.9px;line-height:9.0px;left:9px;transform:translate(0.35px,0.86px) rotate(0.03deg) scaleX(1.0127);transform-origin:0 0;word-spacing:-0.7px">South Carolina</div>
<div class="t" style="top:355px;font-size:7.9px;line-height:9.0px;left:122px;transform:translate(0.35px,0.86px) rotate(0.03deg) scaleX(1.0127);transform-origin:0 0">—</div>
<div class="t" style="top:355px;font-size:7.9px;line-height:9.0px;left:159px;transform:translate(0.10px,0.86px) rotate(0.03deg) scaleX(1.0127);transform-origin:0 0">—</div>
<div class="t" style="top:355px;font-size:7.9px;line-height:9.0px;left:206px;transform:translate(0.45px,0.86px) rotate(0.03deg) scaleX(1.0127);transform-origin:0 0">—</div>
<div class="t" style="top:355px;font-size:7.9px;line-height:9.0px;left:243px;transform:translate(0.15px,0.86px) rotate(0.03deg) scaleX(1.0127);transform-origin:0 0">—</div>
<div class="t" style="top:355px;font-size:7.9px;line-height:9.0px;left:177px;width:120px;text-align:right;transform:translate(0.80px,0.86px) rotate(0.03deg) scaleX(1.0127);transform-origin:100% 0;font-weight:bold;-webkit-text-stroke:0.1px #000">14.7</div>
<div class="t" style="top:355px;font-size:7.9px;line-height:9.0px;left:228px;width:120px;text-align:right;transform:translate(0.20px,0.86px) rotate(0.03deg) scaleX(1.0127);transform-origin:100% 0;font-weight:bold;-webkit-text-stroke:0.1px #000">8.5–24.3</div>
<div class="t" style="top:355px;font-size:7.9px;line-height:9.0px;left:282px;width:120px;text-align:right;transform:translate(0.80px,0.86px) rotate(0.03deg) scaleX(1.0127);transform-origin:100% 0">2.2</div>
<div class="t" style="top:355px;font-size:7.9px;line-height:9.0px;left:334px;width:120px;text-align:right;transform:translate(0.00px,0.86px) rotate(0.03deg) scaleX(1.0127);transform-origin:100% 0">1.3–3.9</div>
<div class="t" style="top:355px;font-size:7.9px;line-height:9.0px;left:366px;width:120px;text-align:right;transform:translate(0.80px,0.86px) rotate(0.03deg) scaleX(1.0127);transform-origin:100% 0">13.4</div>
<div class="t" style="top:355px;font-size:7.9px;line-height:9.0px;left:417px;width:120px;text-align:right;transform:translate(0.70px,0.86px) rotate(0.03deg) scaleX(1.0127);transform-origin:100% 0">10.1–17.6</div>
<div class="t" style="top:355px;font-size:7.9px;line-height:9.0px;left:451px;width:120px;text-align:right;transform:translate(0.20px,0.86px) rotate(0.03deg) scaleX(1.0127);transform-origin:100% 0;font-weight:bold;-webkit-text-stroke:0.1px #000">7.9</div>
<div class="t" style="top:355px;font-size:7.9px;line-height:9.0px;left:501px;width:120px;text-align:right;transform:translate(0.70px,0.86px) rotate(0.03deg) scaleX(1.0127);transform-origin:100% 0;font-weight:bold;-webkit-text-stroke:0.1px #000">6.1–10.2</div>
<div class="t" style="top:365px;font-size:7.9px;line-height:9.0px;left:9px;transform:translate(0.35px,0.22px) rotate(0.03deg) scaleX(1.0127);transform-origin:0 0;word-spacing:-0.7px">South Dakota</div>
<div class="t" style="top:365px;font-size:7.9px;line-height:9.0px;left:10px;width:120px;text-align:right;transform:translate(0.00px,0.22px) rotate(0.03deg) scaleX(1.0127);transform-origin:100% 0">4.8</div>
<div class="t" style="top:365px;font-size:7.9px;line-height:9.0px;left:60px;width:120px;text-align:right;transform:translate(0.40px,0.22px) rotate(0.03deg) scaleX(1.0127);transform-origin:100% 0">2.1–10.3</div>
<div class="t" style="top:365px;font-size:7.9px;line-height:9.0px;left:93px;width:120px;text-align:right;transform:translate(0.80px,0.22px) rotate(0.03deg) scaleX(1.0127);transform-origin:100% 0">11.3</div>
<div class="t" style="top:365px;font-size:7.9px;line-height:9.0px;left:144px;width:120px;text-align:right;transform:translate(0.00px,0.22px) rotate(0.03deg) scaleX(1.0127);transform-origin:100% 0">7.0–17.7</div>
<div class="t" style="top:365px;font-size:7.9px;line-height:9.0px;left:177px;width:120px;text-align:right;transform:translate(0.80px,0.22px) rotate(0.03deg) scaleX(1.0127);transform-origin:100% 0;font-weight:bold;-webkit-text-stroke:0.1px #000">7.9</div>
<div class="t" style="top:365px;font-size:7.9px;line-height:9.0px;left:228px;width:120px;text-align:right;transform:translate(0.20px,0.22px) rotate(0.03deg) scaleX(1.0127);transform-origin:100% 0;font-weight:bold;-webkit-text-stroke:0.1px #000">4.7–13.0</div>
<div class="t" style="top:365px;font-size:7.9px;line-height:9.0px;left:282px;width:120px;text-align:right;transform:translate(0.80px,0.22px) rotate(0.03deg) scaleX(1.0127);transform-origin:100% 0">3.3</div>
<div class="t" style="top:365px;font-size:7.9px;line-height:9.0px;left:334px;width:120px;text-align:right;transform:translate(0.00px,0.22px) rotate(0.03deg) scaleX(1.0127);transform-origin:100% 0">1.8–6.0</div>
<div class="t" style="top:365px;font-size:7.9px;line-height:9.0px;left:366px;width:120px;text-align:right;transform:translate(0.80px,0.22px) rotate(0.03deg) scaleX(1.0127);transform-origin:100% 0">18.9</div>
<div class="t" style="top:365px;font-size:7.9px;line-height:9.0px;left:417px;width:120px;text-align:right;transform:translate(0.70px,0.22px) rotate(0.03deg) scaleX(1.0127);transform-origin:100% 0">15.8–22.6</div>
<div class="t" style="top:365px;font-size:7.9px;line-height:9.0px;left:451px;width:120px;text-align:right;transform:translate(0.20px,0.22px) rotate(0.03deg) scaleX(1.0127);transform-origin:100% 0;font-weight:bold;-webkit-text-stroke:0.1px #000">11.2</div>
<div class="t" style="top:365px;font-size:7.9px;line-height:9.0px;left:501px;width:120px;text-align:right;transform:translate(0.70px,0.22px) rotate(0.03deg) scaleX(1.0127);transform-origin:100% 0;font-weight:bold;-webkit-text-stroke:0.1px #000">9.1–13.7</div>
<div class="t" style="top:374px;font-size:7.9px;line-height:9.0px;left:9px;transform:translate(0.35px,0.57px) rotate(0.03deg) scaleX(1.0127);transform-origin:0 0;word-spacing:-0.7px">Tennessee</div>
<div class="t" style="top:374px;font-size:7.9px;line-height:9.0px;left:10px;width:120px;text-align:right;transform:translate(0.00px,0.57px) rotate(0.03deg) scaleX(1.0127);transform-origin:100% 0">4.8</div>
<div class="t" style="top:374px;font-size:7.9px;line-height:9.0px;left:60px;width:120px;text-align:right;transform:translate(0.40px,0.57px) rotate(0.03deg) scaleX(1.0127);transform-origin:100% 0">2.0–11.3</div>
<div class="t" style="top:374px;font-size:7.9px;line-height:9.0px;left:93px;width:120px;text-align:right;transform:translate(0.80px,0.57px) rotate(0.03deg) scaleX(1.0127);transform-origin:100% 0">20.1</div>
<div class="t" style="top:374px;font-size:7.9px;line-height:9.0px;left:144px;width:120px;text-align:right;transform:translate(0.00px,0.57px) rotate(0.03deg) scaleX(1.0127);transform-origin:100% 0">14.3–27.4</div>
<div class="t" style="top:374px;font-size:7.9px;line-height:9.0px;left:177px;width:120px;text-align:right;transform:translate(0.80px,0.57px) rotate(0.03deg) scaleX(1.0127);transform-origin:100% 0;font-weight:bold;-webkit-text-stroke:0.1px #000">12.9</div>
<div class="t" style="top:374px;font-size:7.9px;line-height:9.0px;left:228px;width:120px;text-align:right;transform:translate(0.20px,0.57px) rotate(0.03deg) scaleX(1.0127);transform-origin:100% 0;font-weight:bold;-webkit-text-stroke:0.1px #000">9.7–17.0</div>
<div class="t" style="top:374px;font-size:7.9px;line-height:9.0px;left:282px;width:120px;text-align:right;transform:translate(0.80px,0.57px) rotate(0.03deg) scaleX(1.0127);transform-origin:100% 0">2.9</div>
<div class="t" style="top:374px;font-size:7.9px;line-height:9.0px;left:334px;width:120px;text-align:right;transform:translate(0.00px,0.57px) rotate(0.03deg) scaleX(1.0127);transform-origin:100% 0">1.9–4.4</div>
<div class="t" style="top:374px;font-size:7.9px;line-height:9.0px;left:366px;width:120px;text-align:right;transform:translate(0.80px,0.57px) rotate(0.03deg) scaleX(1.0127);transform-origin:100% 0">22.8</div>
<div class="t" style="top:374px;font-size:7.9px;line-height:9.0px;left:417px;width:120px;text-align:right;transform:translate(0.70px,0.57px) rotate(0.03deg) scaleX(1.0127);transform-origin:100% 0">17.9–28.5</div>
<div class="t" style="top:374px;font-size:7.9px;line-height:9.0px;left:451px;width:120px;text-align:right;transform:translate(0.20px,0.57px) rotate(0.03deg) scaleX(1.0127);transform-origin:100% 0;font-weight:bold;-webkit-text-stroke:0.1px #000">12.9</div>
<div class="t" style="top:374px;font-size:7.9px;line-height:9.0px;left:501px;width:120px;text-align:right;transform:translate(0.70px,0.57px) rotate(0.03deg) scaleX(1.0127);transform-origin:100% 0;font-weight:bold;-webkit-text-stroke:0.1px #000">10.3–16.1</div>
<div class="t" style="top:383px;font-size:7.9px;line-height:9.0px;left:9px;transform:translate(0.35px,0.93px) rotate(0.03deg) scaleX(1.0127);transform-origin:0 0;word-spacing:-0.7px">Texas</div>
<div class="t" style="top:383px;font-size:7.9px;line-height:9.0px;left:10px;width:120px;text-align:right;transform:translate(0.00px,0.93px) rotate(0.03deg) scaleX(1.0127);transform-origin:100% 0">8.8</div>
<div class="t" style="top:383px;font-size:7.9px;line-height:9.0px;left:60px;width:120px;text-align:right;transform:translate(0.40px,0.93px) rotate(0.03deg) scaleX(1.0127);transform-origin:100% 0">5.9–12.9</div>
<div class="t" style="top:383px;font-size:7.9px;line-height:9.0px;left:93px;width:120px;text-align:right;transform:translate(0.80px,0.93px) rotate(0.03deg) scaleX(1.0127);transform-origin:100% 0">19.5</div>
<div class="t" style="top:383px;font-size:7.9px;line-height:9.0px;left:144px;width:120px;text-align:right;transform:translate(0.00px,0.93px) rotate(0.03deg) scaleX(1.0127);transform-origin:100% 0">16.0–23.5</div>
<div class="t" style="top:383px;font-size:7.9px;line-height:9.0px;left:177px;width:120px;text-align:right;transform:translate(0.80px,0.93px) rotate(0.03deg) scaleX(1.0127);transform-origin:100% 0;font-weight:bold;-webkit-text-stroke:0.1px #000">14.5</div>
<div class="t" style="top:383px;font-size:7.9px;line-height:9.0px;left:228px;width:120px;text-align:right;transform:translate(0.20px,0.93px) rotate(0.03deg) scaleX(1.0127);transform-origin:100% 0;font-weight:bold;-webkit-text-stroke:0.1px #000">11.9–17.4</div>
<div class="t" style="top:383px;font-size:7.9px;line-height:9.0px;left:282px;width:120px;text-align:right;transform:translate(0.80px,0.93px) rotate(0.03deg) scaleX(1.0127);transform-origin:100% 0">2.6</div>
<div class="t" style="top:383px;font-size:7.9px;line-height:9.0px;left:334px;width:120px;text-align:right;transform:translate(0.00px,0.93px) rotate(0.03deg) scaleX(1.0127);transform-origin:100% 0">1.8–3.8</div>
<div class="t" style="top:383px;font-size:7.9px;line-height:9.0px;left:366px;width:120px;text-align:right;transform:translate(0.80px,0.93px) rotate(0.03deg) scaleX(1.0127);transform-origin:100% 0">13.1</div>
<div class="t" style="top:383px;font-size:7.9px;line-height:9.0px;left:417px;width:120px;text-align:right;transform:translate(0.70px,0.93px) rotate(0.03deg) scaleX(1.0127);transform-origin:100% 0">10.3–16.5</div>
<div class="t" style="top:383px;font-size:7.9px;line-height:9.0px;left:451px;width:120px;text-align:right;transform:translate(0.20px,0.93px) rotate(0.03deg) scaleX(1.0127);transform-origin:100% 0;font-weight:bold;-webkit-text-stroke:0.1px #000">7.9</div>
<div class="t" style="top:383px;font-size:7.9px;line-height:9.0px;left:501px;width:120px;text-align:right;transform:translate(0.70px,0.93px) rotate(0.03deg) scaleX(1.0127);transform-origin:100% 0;font-weight:bold;-webkit-text-stroke:0.1px #000">6.3–9.9</div>
<div class="t" style="top:393px;font-size:7.9px;line-height:9.0px;left:9px;transform:translate(0.35px,0.28px) rotate(0.03deg) scaleX(1.0127);transform-origin:0 0;word-spacing:-0.7px">Utah</div>
<div class="t" style="top:393px;font-size:7.9px;line-height:9.0px;left:122px;transform:translate(0.35px,0.28px) rotate(0.03deg) scaleX(1.0127);transform-origin:0 0">—</div>
<div class="t" style="top:393px;font-size:7.9px;line-height:9.0px;left:159px;transform:translate(0.10px,0.28px) rotate(0.03deg) scaleX(1.0127);transform-origin:0 0">—</div>
<div class="t" style="top:393px;font-size:7.9px;line-height:9.0px;left:206px;transform:translate(0.45px,0.28px) rotate(0.03deg) scaleX(1.0127);transform-origin:0 0">—</div>
<div class="t" style="top:393px;font-size:7.9px;line-height:9.0px;left:243px;transform:translate(0.15px,0.28px) rotate(0.03deg) scaleX(1.0127);transform-origin:0 0">—</div>
<div class="t" style="top:393px;font-size:7.9px;line-height:9.0px;left:177px;width:120px;text-align:right;transform:translate(0.80px,0.28px) rotate(0.03deg) scaleX(1.0127);transform-origin:100% 0;font-weight:bold;-webkit-text-stroke:0.1px #000">12.2</div>
<div class="t" style="top:393px;font-size:7.9px;line-height:9.0px;left:228px;width:120px;text-align:right;transform:translate(0.20px,0.28px) rotate(0.03deg) scaleX(1.0127);transform-origin:100% 0;font-weight:bold;-webkit-text-stroke:0.1px #000">4.8–27.5</div>
<div class="t" style="top:393px;font-size:7.9px;line-height:9.0px;left:282px;width:120px;text-align:right;transform:translate(0.80px,0.28px) rotate(0.03deg) scaleX(1.0127);transform-origin:100% 0">1.7</div>
<div class="t" style="top:393px;font-size:7.9px;line-height:9.0px;left:334px;width:120px;text-align:right;transform:translate(0.00px,0.28px) rotate(0.03deg) scaleX(1.0127);transform-origin:100% 0">1.0–3.0</div>
<div class="t" style="top:393px;font-size:7.9px;line-height:9.0px;left:366px;width:120px;text-align:right;transform:translate(0.80px,0.28px) rotate(0.03deg) scaleX(1.0127);transform-origin:100% 0">7.1</div>
<div class="t" style="top:393px;font-size:7.9px;line-height:9.0px;left:417px;width:120px;text-align:right;transform:translate(0.70px,0.28px) rotate(0.03deg) scaleX(1.0127);transform-origin:100% 0">3.2–14.8</div>
<div class="t" style="top:393px;font-size:7.9px;line-height:9.0px;left:451px;width:120px;text-align:right;transform:translate(0.20px,0.28px) rotate(0.03deg) scaleX(1.0127);transform-origin:100% 0;font-weight:bold;-webkit-text-stroke:0.1px #000">4.9</div>
<div class="t" style="top:393px;font-size:7.9px;line-height:9.0px;left:501px;width:120px;text-align:right;transform:translate(0.70px,0.28px) rotate(0.03deg) scaleX(1.0127);transform-origin:100% 0;font-weight:bold;-webkit-text-stroke:0.1px #000">2.5–9.5</div>
<div class="t" style="top:402px;font-size:7.9px;line-height:9.0px;left:9px;transform:translate(0.35px,0.64px) rotate(0.03deg) scaleX(1.0127);transform-origin:0 0;word-spacing:-0.7px">Vermont</div>
<div class="t" style="top:402px;font-size:7.9px;line-height:9.0px;left:122px;transform:translate(0.35px,0.64px) rotate(0.03deg) scaleX(1.0127);transform-origin:0 0">—</div>
<div class="t" style="top:402px;font-size:7.9px;line-height:9.0px;left:159px;transform:translate(0.10px,0.64px) rotate(0.03deg) scaleX(1.0127);transform-origin:0 0">—</div>
<div class="t" style="top:402px;font-size:7.9px;line-height:9.0px;left:206px;transform:translate(0.45px,0.64px) rotate(0.03deg) scaleX(1.0127);transform-origin:0 0">—</div>
<div class="t" style="top:402px;font-size:7.9px;line-height:9.0px;left:243px;transform:translate(0.15px,0.64px) rotate(0.03deg) scaleX(1.0127);transform-origin:0 0">—</div>
<div class="t" style="top:402px;font-size:7.9px;line-height:9.0px;left:290px;transform:translate(0.35px,0.64px) rotate(0.03deg) scaleX(1.0127);transform-origin:0 0">—</div>
<div class="t" style="top:402px;font-size:7.9px;line-height:9.0px;left:327px;transform:translate(0.55px,0.64px) rotate(0.03deg) scaleX(1.0127);transform-origin:0 0">—</div>
<div class="t" style="top:402px;font-size:7.9px;line-height:9.0px;left:282px;width:120px;text-align:right;transform:translate(0.80px,0.64px) rotate(0.03deg) scaleX(1.0127);transform-origin:100% 0">2.6</div>
<div class="t" style="top:402px;font-size:7.9px;line-height:9.0px;left:334px;width:120px;text-align:right;transform:translate(0.00px,0.64px) rotate(0.03deg) scaleX(1.0127);transform-origin:100% 0">1.5–4.6</div>
<div class="t" style="top:402px;font-size:7.9px;line-height:9.0px;left:366px;width:120px;text-align:right;transform:translate(0.80px,0.64px) rotate(0.03deg) scaleX(1.0127);transform-origin:100% 0">14.1</div>
<div class="t" style="top:402px;font-size:7.9px;line-height:9.0px;left:417px;width:120px;text-align:right;transform:translate(0.70px,0.64px) rotate(0.03deg) scaleX(1.0127);transform-origin:100% 0">10.5–18.6</div>
<div class="t" style="top:402px;font-size:7.9px;line-height:9.0px;left:451px;width:120px;text-align:right;transform:translate(0.20px,0.64px) rotate(0.03deg) scaleX(1.0127);transform-origin:100% 0;font-weight:bold;-webkit-text-stroke:0.1px #000">8.6</div>
<div class="t" style="top:402px;font-size:7.9px;line-height:9.0px;left:501px;width:120px;text-align:right;transform:translate(0.70px,0.64px) rotate(0.03deg) scaleX(1.0127);transform-origin:100% 0;font-weight:bold;-webkit-text-stroke:0.1px #000">6.3–11.7</div>
<div class="t" style="top:411px;font-size:7.9px;line-height:9.0px;left:9px;transform:translate(0.35px,0.99px) rotate(0.03deg) scaleX(1.0127);transform-origin:0 0;word-spacing:-0.7px">West Virginia</div>
<div class="t" style="top:411px;font-size:7.9px;line-height:9.0px;left:10px;width:120px;text-align:right;transform:translate(0.00px,0.99px) rotate(0.03deg) scaleX(1.0127);transform-origin:100% 0">3.7</div>
<div class="t" style="top:411px;font-size:7.9px;line-height:9.0px;left:60px;width:120px;text-align:right;transform:translate(0.40px,0.99px) rotate(0.03deg) scaleX(1.0127);transform-origin:100% 0">1.6–8.0</div>
<div class="t" style="top:411px;font-size:7.9px;line-height:9.0px;left:93px;width:120px;text-align:right;transform:translate(0.80px,0.99px) rotate(0.03deg) scaleX(1.0127);transform-origin:100% 0">19.4</div>
<div class="t" style="top:411px;font-size:7.9px;line-height:9.0px;left:144px;width:120px;text-align:right;transform:translate(0.00px,0.99px) rotate(0.03deg) scaleX(1.0127);transform-origin:100% 0">11.6–30.5</div>
<div class="t" style="top:411px;font-size:7.9px;line-height:9.0px;left:177px;width:120px;text-align:right;transform:translate(0.80px,0.99px) rotate(0.03deg) scaleX(1.0127);transform-origin:100% 0;font-weight:bold;-webkit-text-stroke:0.1px #000">11.1</div>
<div class="t" style="top:411px;font-size:7.9px;line-height:9.0px;left:228px;width:120px;text-align:right;transform:translate(0.20px,0.99px) rotate(0.03deg) scaleX(1.0127);transform-origin:100% 0;font-weight:bold;-webkit-text-stroke:0.1px #000">7.0–17.0</div>
<div class="t" style="top:411px;font-size:7.9px;line-height:9.0px;left:282px;width:120px;text-align:right;transform:translate(0.80px,0.99px) rotate(0.03deg) scaleX(1.0127);transform-origin:100% 0">2.2</div>
<div class="t" style="top:411px;font-size:7.9px;line-height:9.0px;left:334px;width:120px;text-align:right;transform:translate(0.00px,0.99px) rotate(0.03deg) scaleX(1.0127);transform-origin:100% 0">1.3–3.7</div>
<div class="t" style="top:411px;font-size:7.9px;line-height:9.0px;left:366px;width:120px;text-align:right;transform:translate(0.80px,0.99px) rotate(0.03deg) scaleX(1.0127);transform-origin:100% 0">27.0</div>
<div class="t" style="top:411px;font-size:7.9px;line-height:9.0px;left:417px;width:120px;text-align:right;transform:translate(0.70px,0.99px) rotate(0.03deg) scaleX(1.0127);transform-origin:100% 0">21.7–33.0</div>
<div class="t" style="top:411px;font-size:7.9px;line-height:9.0px;left:451px;width:120px;text-align:right;transform:translate(0.20px,0.99px) rotate(0.03deg) scaleX(1.0127);transform-origin:100% 0;font-weight:bold;-webkit-text-stroke:0.1px #000">14.8</div>
<div class="t" style="top:411px;font-size:7.9px;line-height:9.0px;left:501px;width:120px;text-align:right;transform:translate(0.70px,0.99px) rotate(0.03deg) scaleX(1.0127);transform-origin:100% 0;font-weight:bold;-webkit-text-stroke:0.1px #000">11.8–18.3</div>
<div class="t" style="top:421px;font-size:7.9px;line-height:9.0px;left:9px;transform:translate(0.35px,0.35px) rotate(0.03deg) scaleX(1.0127);transform-origin:0 0;word-spacing:-0.7px">Wisconsin</div>
<div class="t" style="top:421px;font-size:7.9px;line-height:9.0px;left:10px;width:120px;text-align:right;transform:translate(0.00px,0.35px) rotate(0.03deg) scaleX(1.0127);transform-origin:100% 0">9.3</div>
<div class="t" style="top:421px;font-size:7.9px;line-height:9.0px;left:60px;width:120px;text-align:right;transform:translate(0.40px,0.35px) rotate(0.03deg) scaleX(1.0127);transform-origin:100% 0">5.2–16.0</div>
<div class="t" style="top:421px;font-size:7.9px;line-height:9.0px;left:93px;width:120px;text-align:right;transform:translate(0.80px,0.35px) rotate(0.03deg) scaleX(1.0127);transform-origin:100% 0">16.1</div>
<div class="t" style="top:421px;font-size:7.9px;line-height:9.0px;left:144px;width:120px;text-align:right;transform:translate(0.00px,0.35px) rotate(0.03deg) scaleX(1.0127);transform-origin:100% 0">10.1–24.8</div>
<div class="t" style="top:421px;font-size:7.9px;line-height:9.0px;left:177px;width:120px;text-align:right;transform:translate(0.80px,0.35px) rotate(0.03deg) scaleX(1.0127);transform-origin:100% 0;font-weight:bold;-webkit-text-stroke:0.1px #000">12.6</div>
<div class="t" style="top:421px;font-size:7.9px;line-height:9.0px;left:228px;width:120px;text-align:right;transform:translate(0.20px,0.35px) rotate(0.03deg) scaleX(1.0127);transform-origin:100% 0;font-weight:bold;-webkit-text-stroke:0.1px #000">8.4–18.4</div>
<div class="t" style="top:421px;font-size:7.9px;line-height:9.0px;left:282px;width:120px;text-align:right;transform:translate(0.80px,0.35px) rotate(0.03deg) scaleX(1.0127);transform-origin:100% 0">2.3</div>
<div class="t" style="top:421px;font-size:7.9px;line-height:9.0px;left:334px;width:120px;text-align:right;transform:translate(0.00px,0.35px) rotate(0.03deg) scaleX(1.0127);transform-origin:100% 0">1.5–3.7</div>
<div class="t" style="top:421px;font-size:7.9px;line-height:9.0px;left:366px;width:120px;text-align:right;transform:translate(0.80px,0.35px) rotate(0.03deg) scaleX(1.0127);transform-origin:100% 0">12.9</div>
<div class="t" style="top:421px;font-size:7.9px;line-height:9.0px;left:417px;width:120px;text-align:right;transform:translate(0.70px,0.35px) rotate(0.03deg) scaleX(1.0127);transform-origin:100% 0">9.9–16.7</div>
<div class="t" style="top:421px;font-size:7.9px;line-height:9.0px;left:451px;width:120px;text-align:right;transform:translate(0.20px,0.35px) rotate(0.03deg) scaleX(1.0127);transform-origin:100% 0;font-weight:bold;-webkit-text-stroke:0.1px #000">7.7</div>
<div class="t" style="top:421px;font-size:7.9px;line-height:9.0px;left:501px;width:120px;text-align:right;transform:translate(0.70px,0.35px) rotate(0.03deg) scaleX(1.0127);transform-origin:100% 0;font-weight:bold;-webkit-text-stroke:0.1px #000">6.0–10.0</div>
<div class="t" style="top:430px;font-size:7.9px;line-height:9.0px;left:9px;transform:translate(0.35px,0.70px) rotate(0.03deg) scaleX(1.0127);transform-origin:0 0;word-spacing:-0.7px">Wyoming</div>
<div class="t" style="top:430px;font-size:7.9px;line-height:9.0px;left:10px;width:120px;text-align:right;transform:translate(0.00px,0.70px) rotate(0.03deg) scaleX(1.0127);transform-origin:100% 0">7.1</div>
<div class="t" style="top:430px;font-size:7.9px;line-height:9.0px;left:60px;width:120px;text-align:right;transform:translate(0.40px,0.70px) rotate(0.03deg) scaleX(1.0127);transform-origin:100% 0">4.3–11.5</div>
<div class="t" style="top:430px;font-size:7.9px;line-height:9.0px;left:93px;width:120px;text-align:right;transform:translate(0.80px,0.70px) rotate(0.03deg) scaleX(1.0127);transform-origin:100% 0">10.7</div>
<div class="t" style="top:430px;font-size:7.9px;line-height:9.0px;left:144px;width:120px;text-align:right;transform:translate(0.00px,0.70px) rotate(0.03deg) scaleX(1.0127);transform-origin:100% 0">6.3–17.5</div>
<div class="t" style="top:430px;font-size:7.9px;line-height:9.0px;left:177px;width:120px;text-align:right;transform:translate(0.80px,0.70px) rotate(0.03deg) scaleX(1.0127);transform-origin:100% 0;font-weight:bold;-webkit-text-stroke:0.1px #000">9.4</div>
<div class="t" style="top:430px;font-size:7.9px;line-height:9.0px;left:228px;width:120px;text-align:right;transform:translate(0.20px,0.70px) rotate(0.03deg) scaleX(1.0127);transform-origin:100% 0;font-weight:bold;-webkit-text-stroke:0.1px #000">6.6–13.3</div>
<div class="t" style="top:430px;font-size:7.9px;line-height:9.0px;left:282px;width:120px;text-align:right;transform:translate(0.80px,0.70px) rotate(0.03deg) scaleX(1.0127);transform-origin:100% 0">7.4</div>
<div class="t" style="top:430px;font-size:7.9px;line-height:9.0px;left:334px;width:120px;text-align:right;transform:translate(0.00px,0.70px) rotate(0.03deg) scaleX(1.0127);transform-origin:100% 0">6.1–8.9</div>
<div class="t" style="top:430px;font-size:7.9px;line-height:9.0px;left:366px;width:120px;text-align:right;transform:translate(0.80px,0.70px) rotate(0.03deg) scaleX(1.0127);transform-origin:100% 0">21.3</div>
<div class="t" style="top:430px;font-size:7.9px;line-height:9.0px;left:417px;width:120px;text-align:right;transform:translate(0.70px,0.70px) rotate(0.03deg) scaleX(1.0127);transform-origin:100% 0">18.9–24.0</div>
<div class="t" style="top:430px;font-size:7.9px;line-height:9.0px;left:451px;width:120px;text-align:right;transform:translate(0.20px,0.70px) rotate(0.03deg) scaleX(1.0127);transform-origin:100% 0;font-weight:bold;-webkit-text-stroke:0.1px #000">14.7</div>
<div class="t" style="top:430px;font-size:7.9px;line-height:9.0px;left:501px;width:120px;text-align:right;transform:translate(0.70px,0.70px) rotate(0.03deg) scaleX(1.0127);transform-origin:100% 0;font-weight:bold;-webkit-text-stroke:0.1px #000">13.2–16.4</div>
<div class="t" style="top:440px;font-size:7.9px;line-height:9.0px;left:16px;transform:translate(0.00px,0.46px) rotate(0.03deg) scaleX(1.0127);transform-origin:0 0;font-style:italic">Median</div>
<div class="t" style="top:451px;font-size:7.9px;line-height:9.0px;left:16px;transform:translate(0.00px,0.46px) rotate(0.03deg) scaleX(1.0127);transform-origin:0 0;font-style:italic">Range</div>
<div class="t" style="top:440px;font-size:7.9px;line-height:9.0px;left:10px;width:120px;text-align:right;transform:translate(0.00px,0.46px) rotate(0.03deg) scaleX(1.0127);transform-origin:100% 0;font-style:italic">8.1</div>
<div class="t" style="top:451px;font-size:7.9px;line-height:9.0px;left:21px;width:200px;text-align:center;transform:translate(0.90px,0.46px) rotate(0.03deg) scaleX(1.0127);transform-origin:50% 0;font-style:italic">1.8–18.6</div>
<div class="t" style="top:440px;font-size:7.9px;line-height:9.0px;left:93px;width:120px;text-align:right;transform:translate(0.80px,0.46px) rotate(0.03deg) scaleX(1.0127);transform-origin:100% 0;font-style:italic">20.4</div>
<div class="t" style="top:451px;font-size:7.9px;line-height:9.0px;left:105px;width:200px;text-align:center;transform:translate(0.70px,0.46px) rotate(0.03deg) scaleX(1.0127);transform-origin:50% 0;font-style:italic">9.4–35.2</div>
<div class="t" style="top:440px;font-size:7.9px;line-height:9.0px;left:177px;width:120px;text-align:right;transform:translate(0.80px,0.46px) rotate(0.03deg) scaleX(1.0127);transform-origin:100% 0;font-weight:bold;-webkit-text-stroke:0.1px #000;font-style:italic">14.1</div>
<div class="t" style="top:451px;font-size:7.9px;line-height:9.0px;left:189px;width:200px;text-align:center;transform:translate(0.70px,0.46px) rotate(0.03deg) scaleX(1.0127);transform-origin:50% 0;font-weight:bold;-webkit-text-stroke:0.1px #000;font-style:italic">3.0–27.0</div>
<div class="t" style="top:440px;font-size:7.9px;line-height:9.0px;left:282px;width:120px;text-align:right;transform:translate(0.80px,0.46px) rotate(0.03deg) scaleX(1.0127);transform-origin:100% 0;font-style:italic">2.3</div>
<div class="t" style="top:451px;font-size:7.9px;line-height:9.0px;left:294px;width:200px;text-align:center;transform:translate(0.70px,0.46px) rotate(0.03deg) scaleX(1.0127);transform-origin:50% 0;font-style:italic">0.8–7.4</div>
<div class="t" style="top:440px;font-size:7.9px;line-height:9.0px;left:366px;width:120px;text-align:right;transform:translate(0.80px,0.46px) rotate(0.03deg) scaleX(1.0127);transform-origin:100% 0;font-style:italic">14.6</div>
<div class="t" style="top:451px;font-size:7.9px;line-height:9.0px;left:378px;width:200px;text-align:center;transform:translate(0.70px,0.46px) rotate(0.03deg) scaleX(1.0127);transform-origin:50% 0;font-style:italic">6.6–27.0</div>
<div class="t" style="top:440px;font-size:7.9px;line-height:9.0px;left:451px;width:120px;text-align:right;transform:translate(0.20px,0.46px) rotate(0.03deg) scaleX(1.0127);transform-origin:100% 0;font-weight:bold;-webkit-text-stroke:0.1px #000;font-style:italic">8.6</div>
<div class="t" style="top:451px;font-size:7.9px;line-height:9.0px;left:463px;width:200px;text-align:center;transform:translate(0.10px,0.46px) rotate(0.03deg) scaleX(1.0127);transform-origin:50% 0;font-weight:bold;-webkit-text-stroke:0.1px #000;font-style:italic">4.2–15.8</div>
<div class="t" style="top:463px;font-size:7.9px;line-height:9.0px;left:4px;transform:translate(0.00px,0.71px) rotate(0.03deg) scaleX(1.0127);transform-origin:0 0;font-weight:bold;-webkit-text-stroke:0.1px #000;word-spacing:-0.7px">Local surveys</div>
<div class="t" style="top:473px;font-size:7.9px;line-height:9.0px;left:9px;transform:translate(0.35px,0.16px) rotate(0.03deg) scaleX(1.0127);transform-origin:0 0;word-spacing:0.0px">Baltimore, MD</div>
<div class="t" style="top:473px;font-size:7.9px;line-height:9.0px;left:122px;transform:translate(0.35px,0.16px) rotate(0.03deg) scaleX(1.0127);transform-origin:0 0">—</div>
<div class="t" style="top:473px;font-size:7.9px;line-height:9.0px;left:159px;transform:translate(0.10px,0.16px) rotate(0.03deg) scaleX(1.0127);transform-origin:0 0">—</div>
<div class="t" style="top:473px;font-size:7.9px;line-height:9.0px;left:206px;transform:translate(0.45px,0.16px) rotate(0.03deg) scaleX(1.0127);transform-origin:0 0">—</div>
<div class="t" style="top:473px;font-size:7.9px;line-height:9.0px;left:243px;transform:translate(0.15px,0.16px) rotate(0.03deg) scaleX(1.0127);transform-origin:0 0">—</div>
<div class="t" style="top:473px;font-size:7.9px;line-height:9.0px;left:177px;width:120px;text-align:right;transform:translate(0.80px,0.16px) rotate(0.03deg) scaleX(1.0127);transform-origin:100% 0;font-weight:bold;-webkit-text-stroke:0.1px #000">39.4</div>
<div class="t" style="top:473px;font-size:7.9px;line-height:9.0px;left:228px;width:120px;text-align:right;transform:translate(0.20px,0.16px) rotate(0.03deg) scaleX(1.0127);transform-origin:100% 0;font-weight:bold;-webkit-text-stroke:0.1px #000">31.0–48.6</div>
<div class="t" style="top:473px;font-size:7.9px;line-height:9.0px;left:282px;width:120px;text-align:right;transform:translate(0.80px,0.16px) rotate(0.03deg) scaleX(1.0127);transform-origin:100% 0">0.7</div>
<div class="t" style="top:473px;font-size:7.9px;line-height:9.0px;left:334px;width:120px;text-align:right;transform:translate(0.00px,0.16px) rotate(0.03deg) scaleX(1.0127);transform-origin:100% 0">0.3–1.9</div>
<div class="t" style="top:473px;font-size:7.9px;line-height:9.0px;left:366px;width:120px;text-align:right;transform:translate(0.80px,0.16px) rotate(0.03deg) scaleX(1.0127);transform-origin:100% 0">2.1</div>
<div class="t" style="top:473px;font-size:7.9px;line-height:9.0px;left:417px;width:120px;text-align:right;transform:translate(0.70px,0.16px) rotate(0.03deg) scaleX(1.0127);transform-origin:100% 0">1.3–3.6</div>
<div class="t" style="top:473px;font-size:7.9px;line-height:9.0px;left:451px;width:120px;text-align:right;transform:translate(0.20px,0.16px) rotate(0.03deg) scaleX(1.0127);transform-origin:100% 0;font-weight:bold;-webkit-text-stroke:0.1px #000">1.4</div>
<div class="t" style="top:473px;font-size:7.9px;line-height:9.0px;left:501px;width:120px;text-align:right;transform:translate(0.70px,0.16px) rotate(0.03deg) scaleX(1.0127);transform-origin:100% 0;font-weight:bold;-webkit-text-stroke:0.1px #000">0.9–2.2</div>
<div class="t" style="top:482px;font-size:7.9px;line-height:9.0px;left:9px;transform:translate(0.35px,0.52px) rotate(0.03deg) scaleX(1.0127);transform-origin:0 0;word-spacing:0.0px">Boston, MA</div>
<div class="t" style="top:482px;font-size:7.9px;line-height:9.0px;left:122px;transform:translate(0.35px,0.52px) rotate(0.03deg) scaleX(1.0127);transform-origin:0 0">—</div>
<div class="t" style="top:482px;font-size:7.9px;line-height:9.0px;left:159px;transform:translate(0.10px,0.52px) rotate(0.03deg) scaleX(1.0127);transform-origin:0 0">—</div>
<div class="t" style="top:482px;font-size:7.9px;line-height:9.0px;left:206px;transform:translate(0.45px,0.52px) rotate(0.03deg) scaleX(1.0127);transform-origin:0 0">—</div>
<div class="t" style="top:482px;font-size:7.9px;line-height:9.0px;left:243px;transform:translate(0.15px,0.52px) rotate(0.03deg) scaleX(1.0127);transform-origin:0 0">—</div>
<div class="t" style="top:482px;font-size:7.9px;line-height:9.0px;left:290px;transform:translate(0.35px,0.52px) rotate(0.03deg) scaleX(1.0127);transform-origin:0 0">—</div>
<div class="t" style="top:482px;font-size:7.9px;line-height:9.0px;left:327px;transform:translate(0.55px,0.52px) rotate(0.03deg) scaleX(1.0127);transform-origin:0 0">—</div>
<div class="t" style="top:482px;font-size:7.9px;line-height:9.0px;left:282px;width:120px;text-align:right;transform:translate(0.80px,0.52px) rotate(0.03deg) scaleX(1.0127);transform-origin:100% 0">1.9</div>
<div class="t" style="top:482px;font-size:7.9px;line-height:9.0px;left:334px;width:120px;text-align:right;transform:translate(0.00px,0.52px) rotate(0.03deg) scaleX(1.0127);transform-origin:100% 0">1.0–3.6</div>
<div class="t" style="top:482px;font-size:7.9px;line-height:9.0px;left:366px;width:120px;text-align:right;transform:translate(0.80px,0.52px) rotate(0.03deg) scaleX(1.0127);transform-origin:100% 0">5.8</div>
<div class="t" style="top:482px;font-size:7.9px;line-height:9.0px;left:417px;width:120px;text-align:right;transform:translate(0.70px,0.52px) rotate(0.03deg) scaleX(1.0127);transform-origin:100% 0">4.4–7.7</div>
<div class="t" style="top:482px;font-size:7.9px;line-height:9.0px;left:451px;width:120px;text-align:right;transform:translate(0.20px,0.52px) rotate(0.03deg) scaleX(1.0127);transform-origin:100% 0;font-weight:bold;-webkit-text-stroke:0.1px #000">3.9</div>
<div class="t" style="top:482px;font-size:7.9px;line-height:9.0px;left:501px;width:120px;text-align:right;transform:translate(0.70px,0.52px) rotate(0.03deg) scaleX(1.0127);transform-origin:100% 0;font-weight:bold;-webkit-text-stroke:0.1px #000">2.9–5.3</div>
<div class="t" style="top:491px;font-size:7.9px;line-height:9.0px;left:9px;transform:translate(0.35px,0.88px) rotate(0.03deg) scaleX(1.0127);transform-origin:0 0;word-spacing:0.0px">Broward County, FL</div>
<div class="t" style="top:491px;font-size:7.9px;line-height:9.0px;left:122px;transform:translate(0.35px,0.88px) rotate(0.03deg) scaleX(1.0127);transform-origin:0 0">—</div>
<div class="t" style="top:491px;font-size:7.9px;line-height:9.0px;left:159px;transform:translate(0.10px,0.88px) rotate(0.03deg) scaleX(1.0127);transform-origin:0 0">—</div>
<div class="t" style="top:491px;font-size:7.9px;line-height:9.0px;left:206px;transform:translate(0.45px,0.88px) rotate(0.03deg) scaleX(1.0127);transform-origin:0 0">—</div>
<div class="t" style="top:491px;font-size:7.9px;line-height:9.0px;left:243px;transform:translate(0.15px,0.88px) rotate(0.03deg) scaleX(1.0127);transform-origin:0 0">—</div>
<div class="t" style="top:491px;font-size:7.9px;line-height:9.0px;left:177px;width:120px;text-align:right;transform:translate(0.80px,0.88px) rotate(0.03deg) scaleX(1.0127);transform-origin:100% 0;font-weight:bold;-webkit-text-stroke:0.1px #000">16.0</div>
<div class="t" style="top:491px;font-size:7.9px;line-height:9.0px;left:228px;width:120px;text-align:right;transform:translate(0.20px,0.88px) rotate(0.03deg) scaleX(1.0127);transform-origin:100% 0;font-weight:bold;-webkit-text-stroke:0.1px #000">10.0–24.7</div>
<div class="t" style="top:491px;font-size:7.9px;line-height:9.0px;left:282px;width:120px;text-align:right;transform:translate(0.80px,0.88px) rotate(0.03deg) scaleX(1.0127);transform-origin:100% 0">1.1</div>
<div class="t" style="top:491px;font-size:7.9px;line-height:9.0px;left:334px;width:120px;text-align:right;transform:translate(0.00px,0.88px) rotate(0.03deg) scaleX(1.0127);transform-origin:100% 0">0.5–2.4</div>
<div class="t" style="top:491px;font-size:7.9px;line-height:9.0px;left:366px;width:120px;text-align:right;transform:translate(0.80px,0.88px) rotate(0.03deg) scaleX(1.0127);transform-origin:100% 0">5.9</div>
<div class="t" style="top:491px;font-size:7.9px;line-height:9.0px;left:417px;width:120px;text-align:right;transform:translate(0.70px,0.88px) rotate(0.03deg) scaleX(1.0127);transform-origin:100% 0">4.1–8.5</div>
<div class="t" style="top:491px;font-size:7.9px;line-height:9.0px;left:451px;width:120px;text-align:right;transform:translate(0.20px,0.88px) rotate(0.03deg) scaleX(1.0127);transform-origin:100% 0;font-weight:bold;-webkit-text-stroke:0.1px #000">3.5</div>
<div class="t" style="top:491px;font-size:7.9px;line-height:9.0px;left:501px;width:120px;text-align:right;transform:translate(0.70px,0.88px) rotate(0.03deg) scaleX(1.0127);transform-origin:100% 0;font-weight:bold;-webkit-text-stroke:0.1px #000">2.6–4.6</div>
<div class="t" style="top:501px;font-size:7.9px;line-height:9.0px;left:9px;transform:translate(0.35px,0.24px) rotate(0.03deg) scaleX(1.0127);transform-origin:0 0;word-spacing:0.0px">Charlotte-Mecklenburg, NC</div>
<div class="t" style="top:501px;font-size:7.9px;line-height:9.0px;left:122px;transform:translate(0.35px,0.24px) rotate(0.03deg) scaleX(1.0127);transform-origin:0 0">—</div>
<div class="t" style="top:501px;font-size:7.9px;line-height:9.0px;left:159px;transform:translate(0.10px,0.24px) rotate(0.03deg) scaleX(1.0127);transform-origin:0 0">—</div>
<div class="t" style="top:501px;font-size:7.9px;line-height:9.0px;left:206px;transform:translate(0.45px,0.24px) rotate(0.03deg) scaleX(1.0127);transform-origin:0 0">—</div>
<div class="t" style="top:501px;font-size:7.9px;line-height:9.0px;left:243px;transform:translate(0.15px,0.24px) rotate(0.03deg) scaleX(1.0127);transform-origin:0 0">—</div>
<div class="t" style="top:501px;font-size:7.9px;line-height:9.0px;left:290px;transform:translate(0.35px,0.24px) rotate(0.03deg) scaleX(1.0127);transform-origin:0 0">—</div>
<div class="t" style="top:501px;font-size:7.9px;line-height:9.0px;left:327px;transform:translate(0.55px,0.24px) rotate(0.03deg) scaleX(1.0127);transform-origin:0 0">—</div>
<div class="t" style="top:501px;font-size:7.9px;line-height:9.0px;left:395px;transform:translate(0.35px,0.24px) rotate(0.03deg) scaleX(1.0127);transform-origin:0 0">—</div>
<div class="t" style="top:501px;font-size:7.9px;line-height:9.0px;left:432px;transform:translate(0.90px,0.24px) rotate(0.03deg) scaleX(1.0127);transform-origin:0 0">—</div>
<div class="t" style="top:501px;font-size:7.9px;line-height:9.0px;left:479px;transform:translate(0.50px,0.24px) rotate(0.03deg) scaleX(1.0127);transform-origin:0 0">—</div>
<div class="t" style="top:501px;font-size:7.9px;line-height:9.0px;left:517px;transform:translate(0.00px,0.24px) rotate(0.03deg) scaleX(1.0127);transform-origin:0 0">—</div>
<div class="t" style="top:501px;font-size:7.9px;line-height:9.0px;left:563px;transform:translate(0.40px,0.24px) rotate(0.03deg) scaleX(1.0127);transform-origin:0 0">—</div>
<div class="t" style="top:501px;font-size:7.9px;line-height:9.0px;left:600px;transform:translate(0.80px,0.24px) rotate(0.03deg) scaleX(1.0127);transform-origin:0 0">—</div>
<div class="t" style="top:510px;font-size:7.9px;line-height:9.0px;left:9px;transform:translate(0.35px,0.60px) rotate(0.03deg) scaleX(1.0127);transform-origin:0 0;word-spacing:0.0px">Chicago, IL</div>
<div class="t" style="top:510px;font-size:7.9px;line-height:9.0px;left:122px;transform:translate(0.35px,0.60px) rotate(0.03deg) scaleX(1.0127);transform-origin:0 0">—</div>
<div class="t" style="top:510px;font-size:7.9px;line-height:9.0px;left:159px;transform:translate(0.10px,0.60px) rotate(0.03deg) scaleX(1.0127);transform-origin:0 0">—</div>
<div class="t" style="top:510px;font-size:7.9px;line-height:9.0px;left:206px;transform:translate(0.45px,0.60px) rotate(0.03deg) scaleX(1.0127);transform-origin:0 0">—</div>
<div class="t" style="top:510px;font-size:7.9px;line-height:9.0px;left:243px;transform:translate(0.15px,0.60px) rotate(0.03deg) scaleX(1.0127);transform-origin:0 0">—</div>
<div class="t" style="top:510px;font-size:7.9px;line-height:9.0px;left:177px;width:120px;text-align:right;transform:translate(0.80px,0.60px) rotate(0.03deg) scaleX(1.0127);transform-origin:100% 0;font-weight:bold;-webkit-text-stroke:0.1px #000">18.5</div>
<div class="t" style="top:510px;font-size:7.9px;line-height:9.0px;left:228px;width:120px;text-align:right;transform:translate(0.20px,0.60px) rotate(0.03deg) scaleX(1.0127);transform-origin:100% 0;font-weight:bold;-webkit-text-stroke:0.1px #000">10.8–29.7</div>
<div class="t" style="top:510px;font-size:7.9px;line-height:9.0px;left:282px;width:120px;text-align:right;transform:translate(0.80px,0.60px) rotate(0.03deg) scaleX(1.0127);transform-origin:100% 0">2.1</div>
<div class="t" style="top:510px;font-size:7.9px;line-height:9.0px;left:334px;width:120px;text-align:right;transform:translate(0.00px,0.60px) rotate(0.03deg) scaleX(1.0127);transform-origin:100% 0">0.9–5.0</div>
<div class="t" style="top:510px;font-size:7.9px;line-height:9.0px;left:366px;width:120px;text-align:right;transform:translate(0.80px,0.60px) rotate(0.03deg) scaleX(1.0127);transform-origin:100% 0">3.6</div>
<div class="t" style="top:510px;font-size:7.9px;line-height:9.0px;left:417px;width:120px;text-align:right;transform:translate(0.70px,0.60px) rotate(0.03deg) scaleX(1.0127);transform-origin:100% 0">1.6–7.7</div>
<div class="t" style="top:510px;font-size:7.9px;line-height:9.0px;left:451px;width:120px;text-align:right;transform:translate(0.20px,0.60px) rotate(0.03deg) scaleX(1.0127);transform-origin:100% 0;font-weight:bold;-webkit-text-stroke:0.1px #000">3.0</div>
<div class="t" style="top:510px;font-size:7.9px;line-height:9.0px;left:501px;width:120px;text-align:right;transform:translate(0.70px,0.60px) rotate(0.03deg) scaleX(1.0127);transform-origin:100% 0;font-weight:bold;-webkit-text-stroke:0.1px #000">1.6–5.7</div>
<div class="t" style="top:519px;font-size:7.9px;line-height:9.0px;left:9px;transform:translate(0.35px,0.96px) rotate(0.03deg) scaleX(1.0127);transform-origin:0 0;word-spacing:0.0px">Dallas, TX</div>
<div class="t" style="top:519px;font-size:7.9px;line-height:9.0px;left:122px;transform:translate(0.35px,0.96px) rotate(0.03deg) scaleX(1.0127);transform-origin:0 0">—</div>
<div class="t" style="top:519px;font-size:7.9px;line-height:9.0px;left:159px;transform:translate(0.10px,0.96px) rotate(0.03deg) scaleX(1.0127);transform-origin:0 0">—</div>
<div class="t" style="top:519px;font-size:7.9px;line-height:9.0px;left:206px;transform:translate(0.45px,0.96px) rotate(0.03deg) scaleX(1.0127);transform-origin:0 0">—</div>
<div class="t" style="top:519px;font-size:7.9px;line-height:9.0px;left:243px;transform:translate(0.15px,0.96px) rotate(0.03deg) scaleX(1.0127);transform-origin:0 0">—</div>
<div class="t" style="top:519px;font-size:7.9px;line-height:9.0px;left:177px;width:120px;text-align:right;transform:translate(0.80px,0.96px) rotate(0.03deg) scaleX(1.0127);transform-origin:100% 0;font-weight:bold;-webkit-text-stroke:0.1px #000">22.7</div>
<div class="t" style="top:519px;font-size:7.9px;line-height:9.0px;left:228px;width:120px;text-align:right;transform:translate(0.20px,0.96px) rotate(0.03deg) scaleX(1.0127);transform-origin:100% 0;font-weight:bold;-webkit-text-stroke:0.1px #000">16.3–30.7</div>
<div class="t" style="top:519px;font-size:7.9px;line-height:9.0px;left:282px;width:120px;text-align:right;transform:translate(0.80px,0.96px) rotate(0.03deg) scaleX(1.0127);transform-origin:100% 0">3.6</div>
<div class="t" style="top:519px;font-size:7.9px;line-height:9.0px;left:334px;width:120px;text-align:right;transform:translate(0.00px,0.96px) rotate(0.03deg) scaleX(1.0127);transform-origin:100% 0">2.3–5.6</div>
<div class="t" style="top:519px;font-size:7.9px;line-height:9.0px;left:366px;width:120px;text-align:right;transform:translate(0.80px,0.96px) rotate(0.03deg) scaleX(1.0127);transform-origin:100% 0">4.8</div>
<div class="t" style="top:519px;font-size:7.9px;line-height:9.0px;left:417px;width:120px;text-align:right;transform:translate(0.70px,0.96px) rotate(0.03deg) scaleX(1.0127);transform-origin:100% 0">3.0–7.6</div>
<div class="t" style="top:519px;font-size:7.9px;line-height:9.0px;left:451px;width:120px;text-align:right;transform:translate(0.20px,0.96px) rotate(0.03deg) scaleX(1.0127);transform-origin:100% 0;font-weight:bold;-webkit-text-stroke:0.1px #000">4.2</div>
<div class="t" style="top:519px;font-size:7.9px;line-height:9.0px;left:501px;width:120px;text-align:right;transform:translate(0.70px,0.96px) rotate(0.03deg) scaleX(1.0127);transform-origin:100% 0;font-weight:bold;-webkit-text-stroke:0.1px #000">2.9–6.2</div>
<div class="t" style="top:529px;font-size:7.9px;line-height:9.0px;left:9px;transform:translate(0.35px,0.32px) rotate(0.03deg) scaleX(1.0127);transform-origin:0 0;word-spacing:0.0px">DeKalb County, GA</div>
<div class="t" style="top:529px;font-size:7.9px;line-height:9.0px;left:122px;transform:translate(0.35px,0.32px) rotate(0.03deg) scaleX(1.0127);transform-origin:0 0">—</div>
<div class="t" style="top:529px;font-size:7.9px;line-height:9.0px;left:159px;transform:translate(0.10px,0.32px) rotate(0.03deg) scaleX(1.0127);transform-origin:0 0">—</div>
<div class="t" style="top:529px;font-size:7.9px;line-height:9.0px;left:206px;transform:translate(0.45px,0.32px) rotate(0.03deg) scaleX(1.0127);transform-origin:0 0">—</div>
<div class="t" style="top:529px;font-size:7.9px;line-height:9.0px;left:243px;transform:translate(0.15px,0.32px) rotate(0.03deg) scaleX(1.0127);transform-origin:0 0">—</div>
<div class="t" style="top:529px;font-size:7.9px;line-height:9.0px;left:177px;width:120px;text-align:right;transform:translate(0.80px,0.32px) rotate(0.03deg) scaleX(1.0127);transform-origin:100% 0;font-weight:bold;-webkit-text-stroke:0.1px #000">25.1</div>
<div class="t" style="top:529px;font-size:7.9px;line-height:9.0px;left:228px;width:120px;text-align:right;transform:translate(0.20px,0.32px) rotate(0.03deg) scaleX(1.0127);transform-origin:100% 0;font-weight:bold;-webkit-text-stroke:0.1px #000">18.4–33.3</div>
<div class="t" style="top:529px;font-size:7.9px;line-height:9.0px;left:282px;width:120px;text-align:right;transform:translate(0.80px,0.32px) rotate(0.03deg) scaleX(1.0127);transform-origin:100% 0">0.7</div>
<div class="t" style="top:529px;font-size:7.9px;line-height:9.0px;left:334px;width:120px;text-align:right;transform:translate(0.00px,0.32px) rotate(0.03deg) scaleX(1.0127);transform-origin:100% 0">0.3–1.3</div>
<div class="t" style="top:529px;font-size:7.9px;line-height:9.0px;left:366px;width:120px;text-align:right;transform:translate(0.80px,0.32px) rotate(0.03deg) scaleX(1.0127);transform-origin:100% 0">3.9</div>
<div class="t" style="top:529px;font-size:7.9px;line-height:9.0px;left:417px;width:120px;text-align:right;transform:translate(0.70px,0.32px) rotate(0.03deg) scaleX(1.0127);transform-origin:100% 0">2.8–5.4</div>
<div class="t" style="top:529px;font-size:7.9px;line-height:9.0px;left:451px;width:120px;text-align:right;transform:translate(0.20px,0.32px) rotate(0.03deg) scaleX(1.0127);transform-origin:100% 0;font-weight:bold;-webkit-text-stroke:0.1px #000">2.3</div>
<div class="t" style="top:529px;font-size:7.9px;line-height:9.0px;left:501px;width:120px;text-align:right;transform:translate(0.70px,0.32px) rotate(0.03deg) scaleX(1.0127);transform-origin:100% 0;font-weight:bold;-webkit-text-stroke:0.1px #000">1.7–3.0</div>
<div class="t" style="top:538px;font-size:7.9px;line-height:9.0px;left:9px;transform:translate(0.35px,0.68px) rotate(0.03deg) scaleX(1.0127);transform-origin:0 0;word-spacing:0.0px">Detroit, MI</div>
<div class="t" style="top:538px;font-size:7.9px;line-height:9.0px;left:122px;transform:translate(0.35px,0.68px) rotate(0.03deg) scaleX(1.0127);transform-origin:0 0">—</div>
<div class="t" style="top:538px;font-size:7.9px;line-height:9.0px;left:159px;transform:translate(0.10px,0.68px) rotate(0.03deg) scaleX(1.0127);transform-origin:0 0">—</div>
<div class="t" style="top:538px;font-size:7.9px;line-height:9.0px;left:206px;transform:translate(0.45px,0.68px) rotate(0.03deg) scaleX(1.0127);transform-origin:0 0">—</div>
<div class="t" style="top:538px;font-size:7.9px;line-height:9.0px;left:243px;transform:translate(0.15px,0.68px) rotate(0.03deg) scaleX(1.0127);transform-origin:0 0">—</div>
<div class="t" style="top:538px;font-size:7.9px;line-height:9.0px;left:177px;width:120px;text-align:right;transform:translate(0.80px,0.68px) rotate(0.03deg) scaleX(1.0127);transform-origin:100% 0;font-weight:bold;-webkit-text-stroke:0.1px #000">33.7</div>
<div class="t" style="top:538px;font-size:7.9px;line-height:9.0px;left:228px;width:120px;text-align:right;transform:translate(0.20px,0.68px) rotate(0.03deg) scaleX(1.0127);transform-origin:100% 0;font-weight:bold;-webkit-text-stroke:0.1px #000">24.7–44.0</div>
<div class="t" style="top:538px;font-size:7.9px;line-height:9.0px;left:282px;width:120px;text-align:right;transform:translate(0.80px,0.68px) rotate(0.03deg) scaleX(1.0127);transform-origin:100% 0">2.1</div>
<div class="t" style="top:538px;font-size:7.9px;line-height:9.0px;left:334px;width:120px;text-align:right;transform:translate(0.00px,0.68px) rotate(0.03deg) scaleX(1.0127);transform-origin:100% 0">1.4–3.0</div>
<div class="t" style="top:538px;font-size:7.9px;line-height:9.0px;left:366px;width:120px;text-align:right;transform:translate(0.80px,0.68px) rotate(0.03deg) scaleX(1.0127);transform-origin:100% 0">3.4</div>
<div class="t" style="top:538px;font-size:7.9px;line-height:9.0px;left:417px;width:120px;text-align:right;transform:translate(0.70px,0.68px) rotate(0.03deg) scaleX(1.0127);transform-origin:100% 0">2.3–5.1</div>
<div class="t" style="top:538px;font-size:7.9px;line-height:9.0px;left:451px;width:120px;text-align:right;transform:translate(0.20px,0.68px) rotate(0.03deg) scaleX(1.0127);transform-origin:100% 0;font-weight:bold;-webkit-text-stroke:0.1px #000">2.9</div>
<div class="t" style="top:538px;font-size:7.9px;line-height:9.0px;left:501px;width:120px;text-align:right;transform:translate(0.70px,0.68px) rotate(0.03deg) scaleX(1.0127);transform-origin:100% 0;font-weight:bold;-webkit-text-stroke:0.1px #000">2.2–3.8</div>
<div class="t" style="top:548px;font-size:7.9px;line-height:9.0px;left:9px;transform:translate(0.35px,0.04px) rotate(0.03deg) scaleX(1.0127);transform-origin:0 0;word-spacing:0.0px">District of Columbia</div>
<div class="t" style="top:548px;font-size:7.9px;line-height:9.0px;left:122px;transform:translate(0.35px,0.04px) rotate(0.03deg) scaleX(1.0127);transform-origin:0 0">—</div>
<div class="t" style="top:548px;font-size:7.9px;line-height:9.0px;left:159px;transform:translate(0.10px,0.04px) rotate(0.03deg) scaleX(1.0127);transform-origin:0 0">—</div>
<div class="t" style="top:548px;font-size:7.9px;line-height:9.0px;left:206px;transform:translate(0.45px,0.04px) rotate(0.03deg) scaleX(1.0127);transform-origin:0 0">—</div>
<div class="t" style="top:548px;font-size:7.9px;line-height:9.0px;left:243px;transform:translate(0.15px,0.04px) rotate(0.03deg) scaleX(1.0127);transform-origin:0 0">—</div>
<div class="t" style="top:548px;font-size:7.9px;line-height:9.0px;left:177px;width:120px;text-align:right;transform:translate(0.80px,0.04px) rotate(0.03deg) scaleX(1.0127);transform-origin:100% 0;font-weight:bold;-webkit-text-stroke:0.1px #000">25.8</div>
<div class="t" style="top:548px;font-size:7.9px;line-height:9.0px;left:228px;width:120px;text-align:right;transform:translate(0.20px,0.04px) rotate(0.03deg) scaleX(1.0127);transform-origin:100% 0;font-weight:bold;-webkit-text-stroke:0.1px #000">18.3–35.1</div>
<div class="t" style="top:548px;font-size:7.9px;line-height:9.0px;left:282px;width:120px;text-align:right;transform:translate(0.80px,0.04px) rotate(0.03deg) scaleX(1.0127);transform-origin:100% 0">2.6</div>
<div class="t" style="top:548px;font-size:7.9px;line-height:9.0px;left:334px;width:120px;text-align:right;transform:translate(0.00px,0.04px) rotate(0.03deg) scaleX(1.0127);transform-origin:100% 0">1.6–4.2</div>
<div class="t" style="top:548px;font-size:7.9px;line-height:9.0px;left:366px;width:120px;text-align:right;transform:translate(0.80px,0.04px) rotate(0.03deg) scaleX(1.0127);transform-origin:100% 0">8.1</div>
<div class="t" style="top:548px;font-size:7.9px;line-height:9.0px;left:417px;width:120px;text-align:right;transform:translate(0.70px,0.04px) rotate(0.03deg) scaleX(1.0127);transform-origin:100% 0">5.4–11.9</div>
<div class="t" style="top:548px;font-size:7.9px;line-height:9.0px;left:451px;width:120px;text-align:right;transform:translate(0.20px,0.04px) rotate(0.03deg) scaleX(1.0127);transform-origin:100% 0;font-weight:bold;-webkit-text-stroke:0.1px #000">5.6</div>
<div class="t" style="top:548px;font-size:7.9px;line-height:9.0px;left:501px;width:120px;text-align:right;transform:translate(0.70px,0.04px) rotate(0.03deg) scaleX(1.0127);transform-origin:100% 0;font-weight:bold;-webkit-text-stroke:0.1px #000">3.9–7.9</div>
<div class="t" style="top:557px;font-size:7.9px;line-height:9.0px;left:9px;transform:translate(0.35px,0.40px) rotate(0.03deg) scaleX(1.0127);transform-origin:0 0;word-spacing:0.0px">Hillsborough County, FL</div>
<div class="t" style="top:557px;font-size:7.9px;line-height:9.0px;left:122px;transform:translate(0.35px,0.40px) rotate(0.03deg) scaleX(1.0127);transform-origin:0 0">—</div>
<div class="t" style="top:557px;font-size:7.9px;line-height:9.0px;left:159px;transform:translate(0.10px,0.40px) rotate(0.03deg) scaleX(1.0127);transform-origin:0 0">—</div>
<div class="t" style="top:557px;font-size:7.9px;line-height:9.0px;left:206px;transform:translate(0.45px,0.40px) rotate(0.03deg) scaleX(1.0127);transform-origin:0 0">—</div>
<div class="t" style="top:557px;font-size:7.9px;line-height:9.0px;left:243px;transform:translate(0.15px,0.40px) rotate(0.03deg) scaleX(1.0127);transform-origin:0 0">—</div>
<div class="t" style="top:557px;font-size:7.9px;line-height:9.0px;left:177px;width:120px;text-align:right;transform:translate(0.80px,0.40px) rotate(0.03deg) scaleX(1.0127);transform-origin:100% 0;font-weight:bold;-webkit-text-stroke:0.1px #000">26.9</div>
<div class="t" style="top:557px;font-size:7.9px;line-height:9.0px;left:228px;width:120px;text-align:right;transform:translate(0.20px,0.40px) rotate(0.03deg) scaleX(1.0127);transform-origin:100% 0;font-weight:bold;-webkit-text-stroke:0.1px #000">19.9–35.3</div>
<div class="t" style="top:557px;font-size:7.9px;line-height:9.0px;left:282px;width:120px;text-align:right;transform:translate(0.80px,0.40px) rotate(0.03deg) scaleX(1.0127);transform-origin:100% 0">2.5</div>
<div class="t" style="top:557px;font-size:7.9px;line-height:9.0px;left:334px;width:120px;text-align:right;transform:translate(0.00px,0.40px) rotate(0.03deg) scaleX(1.0127);transform-origin:100% 0">1.6–4.1</div>
<div class="t" style="top:557px;font-size:7.9px;line-height:9.0px;left:366px;width:120px;text-align:right;transform:translate(0.80px,0.40px) rotate(0.03deg) scaleX(1.0127);transform-origin:100% 0">12.1</div>
<div class="t" style="top:557px;font-size:7.9px;line-height:9.0px;left:417px;width:120px;text-align:right;transform:translate(0.70px,0.40px) rotate(0.03deg) scaleX(1.0127);transform-origin:100% 0">9.3–15.7</div>
<div class="t" style="top:557px;font-size:7.9px;line-height:9.0px;left:451px;width:120px;text-align:right;transform:translate(0.20px,0.40px) rotate(0.03deg) scaleX(1.0127);transform-origin:100% 0;font-weight:bold;-webkit-text-stroke:0.1px #000">7.2</div>
<div class="t" style="top:557px;font-size:7.9px;line-height:9.0px;left:501px;width:120px;text-align:right;transform:translate(0.70px,0.40px) rotate(0.03deg) scaleX(1.0127);transform-origin:100% 0;font-weight:bold;-webkit-text-stroke:0.1px #000">5.6–9.2</div>
<div class="t" style="top:566px;font-size:7.9px;line-height:9.0px;left:9px;transform:translate(0.35px,0.76px) rotate(0.03deg) scaleX(1.0127);transform-origin:0 0;word-spacing:0.0px">Houston, TX</div>
<div class="t" style="top:566px;font-size:7.9px;line-height:9.0px;left:122px;transform:translate(0.35px,0.76px) rotate(0.03deg) scaleX(1.0127);transform-origin:0 0">—</div>
<div class="t" style="top:566px;font-size:7.9px;line-height:9.0px;left:159px;transform:translate(0.10px,0.76px) rotate(0.03deg) scaleX(1.0127);transform-origin:0 0">—</div>
<div class="t" style="top:566px;font-size:7.9px;line-height:9.0px;left:206px;transform:translate(0.45px,0.76px) rotate(0.03deg) scaleX(1.0127);transform-origin:0 0">—</div>
<div class="t" style="top:566px;font-size:7.9px;line-height:9.0px;left:243px;transform:translate(0.15px,0.76px) rotate(0.03deg) scaleX(1.0127);transform-origin:0 0">—</div>
<div class="t" style="top:566px;font-size:7.9px;line-height:9.0px;left:177px;width:120px;text-align:right;transform:translate(0.80px,0.76px) rotate(0.03deg) scaleX(1.0127);transform-origin:100% 0;font-weight:bold;-webkit-text-stroke:0.1px #000">23.7</div>
<div class="t" style="top:566px;font-size:7.9px;line-height:9.0px;left:228px;width:120px;text-align:right;transform:translate(0.20px,0.76px) rotate(0.03deg) scaleX(1.0127);transform-origin:100% 0;font-weight:bold;-webkit-text-stroke:0.1px #000">17.3–31.6</div>
<div class="t" style="top:566px;font-size:7.9px;line-height:9.0px;left:282px;width:120px;text-align:right;transform:translate(0.80px,0.76px) rotate(0.03deg) scaleX(1.0127);transform-origin:100% 0">2.5</div>
<div class="t" style="top:566px;font-size:7.9px;line-height:9.0px;left:334px;width:120px;text-align:right;transform:translate(0.00px,0.76px) rotate(0.03deg) scaleX(1.0127);transform-origin:100% 0">1.5–4.0</div>
<div class="t" style="top:566px;font-size:7.9px;line-height:9.0px;left:366px;width:120px;text-align:right;transform:translate(0.80px,0.76px) rotate(0.03deg) scaleX(1.0127);transform-origin:100% 0">5.5</div>
<div class="t" style="top:566px;font-size:7.9px;line-height:9.0px;left:417px;width:120px;text-align:right;transform:translate(0.70px,0.76px) rotate(0.03deg) scaleX(1.0127);transform-origin:100% 0">4.2–7.1</div>
<div class="t" style="top:566px;font-size:7.9px;line-height:9.0px;left:451px;width:120px;text-align:right;transform:translate(0.20px,0.76px) rotate(0.03deg) scaleX(1.0127);transform-origin:100% 0;font-weight:bold;-webkit-text-stroke:0.1px #000">4.0</div>
<div class="t" style="top:566px;font-size:7.9px;line-height:9.0px;left:501px;width:120px;text-align:right;transform:translate(0.70px,0.76px) rotate(0.03deg) scaleX(1.0127);transform-origin:100% 0;font-weight:bold;-webkit-text-stroke:0.1px #000">3.2–5.0</div>
<div class="t" style="top:576px;font-size:7.9px;line-height:9.0px;left:9px;transform:translate(0.35px,0.12px) rotate(0.03deg) scaleX(1.0127);transform-origin:0 0;word-spacing:0.0px">Los Angeles, CA</div>
<div class="t" style="top:576px;font-size:7.9px;line-height:9.0px;left:122px;transform:translate(0.35px,0.12px) rotate(0.03deg) scaleX(1.0127);transform-origin:0 0">—</div>
<div class="t" style="top:576px;font-size:7.9px;line-height:9.0px;left:159px;transform:translate(0.10px,0.12px) rotate(0.03deg) scaleX(1.0127);transform-origin:0 0">—</div>
<div class="t" style="top:576px;font-size:7.9px;line-height:9.0px;left:206px;transform:translate(0.45px,0.12px) rotate(0.03deg) scaleX(1.0127);transform-origin:0 0">—</div>
<div class="t" style="top:576px;font-size:7.9px;line-height:9.0px;left:243px;transform:translate(0.15px,0.12px) rotate(0.03deg) scaleX(1.0127);transform-origin:0 0">—</div>
<div class="t" style="top:576px;font-size:7.9px;line-height:9.0px;left:177px;width:120px;text-align:right;transform:translate(0.80px,0.12px) rotate(0.03deg) scaleX(1.0127);transform-origin:100% 0;font-weight:bold;-webkit-text-stroke:0.1px #000">21.6</div>
<div class="t" style="top:576px;font-size:7.9px;line-height:9.0px;left:228px;width:120px;text-align:right;transform:translate(0.20px,0.12px) rotate(0.03deg) scaleX(1.0127);transform-origin:100% 0;font-weight:bold;-webkit-text-stroke:0.1px #000">12.9–33.8</div>
<div class="t" style="top:576px;font-size:7.9px;line-height:9.0px;left:282px;width:120px;text-align:right;transform:translate(0.80px,0.12px) rotate(0.03deg) scaleX(1.0127);transform-origin:100% 0">1.7</div>
<div class="t" style="top:576px;font-size:7.9px;line-height:9.0px;left:334px;width:120px;text-align:right;transform:translate(0.00px,0.12px) rotate(0.03deg) scaleX(1.0127);transform-origin:100% 0">0.7–4.3</div>
<div class="t" style="top:576px;font-size:7.9px;line-height:9.0px;left:366px;width:120px;text-align:right;transform:translate(0.80px,0.12px) rotate(0.03deg) scaleX(1.0127);transform-origin:100% 0">4.9</div>
<div class="t" style="top:576px;font-size:7.9px;line-height:9.0px;left:417px;width:120px;text-align:right;transform:translate(0.70px,0.12px) rotate(0.03deg) scaleX(1.0127);transform-origin:100% 0">2.7–8.8</div>
<div class="t" style="top:576px;font-size:7.9px;line-height:9.0px;left:451px;width:120px;text-align:right;transform:translate(0.20px,0.12px) rotate(0.03deg) scaleX(1.0127);transform-origin:100% 0;font-weight:bold;-webkit-text-stroke:0.1px #000">3.4</div>
<div class="t" style="top:576px;font-size:7.9px;line-height:9.0px;left:501px;width:120px;text-align:right;transform:translate(0.70px,0.12px) rotate(0.03deg) scaleX(1.0127);transform-origin:100% 0;font-weight:bold;-webkit-text-stroke:0.1px #000">2.2–5.1</div>
<div class="t" style="top:585px;font-size:7.9px;line-height:9.0px;left:9px;transform:translate(0.35px,0.48px) rotate(0.03deg) scaleX(1.0127);transform-origin:0 0;word-spacing:0.0px">Memphis, TN</div>
<div class="t" style="top:585px;font-size:7.9px;line-height:9.0px;left:122px;transform:translate(0.35px,0.48px) rotate(0.03deg) scaleX(1.0127);transform-origin:0 0">—</div>
<div class="t" style="top:585px;font-size:7.9px;line-height:9.0px;left:159px;transform:translate(0.10px,0.48px) rotate(0.03deg) scaleX(1.0127);transform-origin:0 0">—</div>
<div class="t" style="top:585px;font-size:7.9px;line-height:9.0px;left:206px;transform:translate(0.45px,0.48px) rotate(0.03deg) scaleX(1.0127);transform-origin:0 0">—</div>
<div class="t" style="top:585px;font-size:7.9px;line-height:9.0px;left:243px;transform:translate(0.15px,0.48px) rotate(0.03deg) scaleX(1.0127);transform-origin:0 0">—</div>
<div class="t" style="top:585px;font-size:7.9px;line-height:9.0px;left:290px;transform:translate(0.35px,0.48px) rotate(0.03deg) scaleX(1.0127);transform-origin:0 0">—</div>
<div class="t" style="top:585px;font-size:7.9px;line-height:9.0px;left:327px;transform:translate(0.55px,0.48px) rotate(0.03deg) scaleX(1.0127);transform-origin:0 0">—</div>
<div class="t" style="top:585px;font-size:7.9px;line-height:9.0px;left:282px;width:120px;text-align:right;transform:translate(0.80px,0.48px) rotate(0.03deg) scaleX(1.0127);transform-origin:100% 0">0.2</div>
<div class="t" style="top:585px;font-size:7.9px;line-height:9.0px;left:334px;width:120px;text-align:right;transform:translate(0.00px,0.48px) rotate(0.03deg) scaleX(1.0127);transform-origin:100% 0">0.0–1.1</div>
<div class="t" style="top:585px;font-size:7.9px;line-height:9.0px;left:366px;width:120px;text-align:right;transform:translate(0.80px,0.48px) rotate(0.03deg) scaleX(1.0127);transform-origin:100% 0">1.8</div>
<div class="t" style="top:585px;font-size:7.9px;line-height:9.0px;left:417px;width:120px;text-align:right;transform:translate(0.70px,0.48px) rotate(0.03deg) scaleX(1.0127);transform-origin:100% 0">1.0–3.2</div>
<div class="t" style="top:585px;font-size:7.9px;line-height:9.0px;left:451px;width:120px;text-align:right;transform:translate(0.20px,0.48px) rotate(0.03deg) scaleX(1.0127);transform-origin:100% 0;font-weight:bold;-webkit-text-stroke:0.1px #000">1.0</div>
<div class="t" style="top:585px;font-size:7.9px;line-height:9.0px;left:501px;width:120px;text-align:right;transform:translate(0.70px,0.48px) rotate(0.03deg) scaleX(1.0127);transform-origin:100% 0;font-weight:bold;-webkit-text-stroke:0.1px #000">0.5–1.7</div>
<div class="t" style="top:594px;font-size:7.9px;line-height:9.0px;left:9px;transform:translate(0.35px,0.84px) rotate(0.03deg) scaleX(1.0127);transform-origin:0 0;word-spacing:0.0px">Miami-Dade County, FL</div>
<div class="t" style="top:594px;font-size:7.9px;line-height:9.0px;left:122px;transform:translate(0.35px,0.84px) rotate(0.03deg) scaleX(1.0127);transform-origin:0 0">—</div>
<div class="t" style="top:594px;font-size:7.9px;line-height:9.0px;left:159px;transform:translate(0.10px,0.84px) rotate(0.03deg) scaleX(1.0127);transform-origin:0 0">—</div>
<div class="t" style="top:594px;font-size:7.9px;line-height:9.0px;left:93px;width:120px;text-align:right;transform:translate(0.80px,0.84px) rotate(0.03deg) scaleX(1.0127);transform-origin:100% 0">23.4</div>
<div class="t" style="top:594px;font-size:7.9px;line-height:9.0px;left:144px;width:120px;text-align:right;transform:translate(0.00px,0.84px) rotate(0.03deg) scaleX(1.0127);transform-origin:100% 0">16.4–32.2</div>
<div class="t" style="top:594px;font-size:7.9px;line-height:9.0px;left:177px;width:120px;text-align:right;transform:translate(0.80px,0.84px) rotate(0.03deg) scaleX(1.0127);transform-origin:100% 0;font-weight:bold;-webkit-text-stroke:0.1px #000">21.0</div>
<div class="t" style="top:594px;font-size:7.9px;line-height:9.0px;left:228px;width:120px;text-align:right;transform:translate(0.20px,0.84px) rotate(0.03deg) scaleX(1.0127);transform-origin:100% 0;font-weight:bold;-webkit-text-stroke:0.1px #000">15.2–28.2</div>
<div class="t" style="top:594px;font-size:7.9px;line-height:9.0px;left:282px;width:120px;text-align:right;transform:translate(0.80px,0.84px) rotate(0.03deg) scaleX(1.0127);transform-origin:100% 0">0.5</div>
<div class="t" style="top:594px;font-size:7.9px;line-height:9.0px;left:334px;width:120px;text-align:right;transform:translate(0.00px,0.84px) rotate(0.03deg) scaleX(1.0127);transform-origin:100% 0">0.3–1.1</div>
<div class="t" style="top:594px;font-size:7.9px;line-height:9.0px;left:366px;width:120px;text-align:right;transform:translate(0.80px,0.84px) rotate(0.03deg) scaleX(1.0127);transform-origin:100% 0">5.2</div>
<div class="t" style="top:594px;font-size:7.9px;line-height:9.0px;left:417px;width:120px;text-align:right;transform:translate(0.70px,0.84px) rotate(0.03deg) scaleX(1.0127);transform-origin:100% 0">3.9–7.1</div>
<div class="t" style="top:594px;font-size:7.9px;line-height:9.0px;left:451px;width:120px;text-align:right;transform:translate(0.20px,0.84px) rotate(0.03deg) scaleX(1.0127);transform-origin:100% 0;font-weight:bold;-webkit-text-stroke:0.1px #000">3.1</div>
<div class="t" style="top:594px;font-size:7.9px;line-height:9.0px;left:501px;width:120px;text-align:right;transform:translate(0.70px,0.84px) rotate(0.03deg) scaleX(1.0127);transform-origin:100% 0;font-weight:bold;-webkit-text-stroke:0.1px #000">2.4–4.1</div>
<div class="t" style="top:604px;font-size:7.9px;line-height:9.0px;left:9px;transform:translate(0.35px,0.20px) rotate(0.03deg) scaleX(1.0127);transform-origin:0 0;word-spacing:0.0px">Milwaukee, WI</div>
<div class="t" style="top:604px;font-size:7.9px;line-height:9.0px;left:122px;transform:translate(0.35px,0.20px) rotate(0.03deg) scaleX(1.0127);transform-origin:0 0">—</div>
<div class="t" style="top:604px;font-size:7.9px;line-height:9.0px;left:159px;transform:translate(0.10px,0.20px) rotate(0.03deg) scaleX(1.0127);transform-origin:0 0">—</div>
<div class="t" style="top:604px;font-size:7.9px;line-height:9.0px;left:206px;transform:translate(0.45px,0.20px) rotate(0.03deg) scaleX(1.0127);transform-origin:0 0">—</div>
<div class="t" style="top:604px;font-size:7.9px;line-height:9.0px;left:243px;transform:translate(0.15px,0.20px) rotate(0.03deg) scaleX(1.0127);transform-origin:0 0">—</div>
<div class="t" style="top:604px;font-size:7.9px;line-height:9.0px;left:177px;width:120px;text-align:right;transform:translate(0.80px,0.20px) rotate(0.03deg) scaleX(1.0127);transform-origin:100% 0;font-weight:bold;-webkit-text-stroke:0.1px #000">31.0</div>
<div class="t" style="top:604px;font-size:7.9px;line-height:9.0px;left:228px;width:120px;text-align:right;transform:translate(0.20px,0.20px) rotate(0.03deg) scaleX(1.0127);transform-origin:100% 0;font-weight:bold;-webkit-text-stroke:0.1px #000">23.7–39.4</div>
<div class="t" style="top:604px;font-size:7.9px;line-height:9.0px;left:282px;width:120px;text-align:right;transform:translate(0.80px,0.20px) rotate(0.03deg) scaleX(1.0127);transform-origin:100% 0">2.0</div>
<div class="t" style="top:604px;font-size:7.9px;line-height:9.0px;left:334px;width:120px;text-align:right;transform:translate(0.00px,0.20px) rotate(0.03deg) scaleX(1.0127);transform-origin:100% 0">1.1–3.6</div>
<div class="t" style="top:604px;font-size:7.9px;line-height:9.0px;left:366px;width:120px;text-align:right;transform:translate(0.80px,0.20px) rotate(0.03deg) scaleX(1.0127);transform-origin:100% 0">2.4</div>
<div class="t" style="top:604px;font-size:7.9px;line-height:9.0px;left:417px;width:120px;text-align:right;transform:translate(0.70px,0.20px) rotate(0.03deg) scaleX(1.0127);transform-origin:100% 0">1.5–4.0</div>
<div class="t" style="top:604px;font-size:7.9px;line-height:9.0px;left:451px;width:120px;text-align:right;transform:translate(0.20px,0.20px) rotate(0.03deg) scaleX(1.0127);transform-origin:100% 0;font-weight:bold;-webkit-text-stroke:0.1px #000">2.2</div>
<div class="t" style="top:604px;font-size:7.9px;line-height:9.0px;left:501px;width:120px;text-align:right;transform:translate(0.70px,0.20px) rotate(0.03deg) scaleX(1.0127);transform-origin:100% 0;font-weight:bold;-webkit-text-stroke:0.1px #000">1.5–3.4</div>
<div class="t" style="top:613px;font-size:7.9px;line-height:9.0px;left:9px;transform:translate(0.35px,0.56px) rotate(0.03deg) scaleX(1.0127);transform-origin:0 0;word-spacing:0.0px">New York City, NY</div>
<div class="t" style="top:613px;font-size:7.9px;line-height:9.0px;left:122px;transform:translate(0.35px,0.56px) rotate(0.03deg) scaleX(1.0127);transform-origin:0 0">—</div>
<div class="t" style="top:613px;font-size:7.9px;line-height:9.0px;left:159px;transform:translate(0.10px,0.56px) rotate(0.03deg) scaleX(1.0127);transform-origin:0 0">—</div>
<div class="t" style="top:613px;font-size:7.9px;line-height:9.0px;left:206px;transform:translate(0.45px,0.56px) rotate(0.03deg) scaleX(1.0127);transform-origin:0 0">—</div>
<div class="t" style="top:613px;font-size:7.9px;line-height:9.0px;left:243px;transform:translate(0.15px,0.56px) rotate(0.03deg) scaleX(1.0127);transform-origin:0 0">—</div>
<div class="t" style="top:613px;font-size:7.9px;line-height:9.0px;left:290px;transform:translate(0.35px,0.56px) rotate(0.03deg) scaleX(1.0127);transform-origin:0 0">—</div>
<div class="t" style="top:613px;font-size:7.9px;line-height:9.0px;left:327px;transform:translate(0.55px,0.56px) rotate(0.03deg) scaleX(1.0127);transform-origin:0 0">—</div>
<div class="t" style="top:613px;font-size:7.9px;line-height:9.0px;left:282px;width:120px;text-align:right;transform:translate(0.80px,0.56px) rotate(0.03deg) scaleX(1.0127);transform-origin:100% 0">1.2</div>
<div class="t" style="top:613px;font-size:7.9px;line-height:9.0px;left:334px;width:120px;text-align:right;transform:translate(0.00px,0.56px) rotate(0.03deg) scaleX(1.0127);transform-origin:100% 0">0.8–1.9</div>
<div class="t" style="top:613px;font-size:7.9px;line-height:9.0px;left:366px;width:120px;text-align:right;transform:translate(0.80px,0.56px) rotate(0.03deg) scaleX(1.0127);transform-origin:100% 0">3.2</div>
<div class="t" style="top:613px;font-size:7.9px;line-height:9.0px;left:417px;width:120px;text-align:right;transform:translate(0.70px,0.56px) rotate(0.03deg) scaleX(1.0127);transform-origin:100% 0">2.3–4.5</div>
<div class="t" style="top:613px;font-size:7.9px;line-height:9.0px;left:451px;width:120px;text-align:right;transform:translate(0.20px,0.56px) rotate(0.03deg) scaleX(1.0127);transform-origin:100% 0;font-weight:bold;-webkit-text-stroke:0.1px #000">2.2</div>
<div class="t" style="top:613px;font-size:7.9px;line-height:9.0px;left:501px;width:120px;text-align:right;transform:translate(0.70px,0.56px) rotate(0.03deg) scaleX(1.0127);transform-origin:100% 0;font-weight:bold;-webkit-text-stroke:0.1px #000">1.6–2.9</div>
<div class="t" style="top:622px;font-size:7.9px;line-height:9.0px;left:9px;transform:translate(0.35px,0.92px) rotate(0.03deg) scaleX(1.0127);transform-origin:0 0;word-spacing:0.0px">Orange County, FL</div>
<div class="t" style="top:622px;font-size:7.9px;line-height:9.0px;left:122px;transform:translate(0.35px,0.92px) rotate(0.03deg) scaleX(1.0127);transform-origin:0 0">—</div>
<div class="t" style="top:622px;font-size:7.9px;line-height:9.0px;left:159px;transform:translate(0.10px,0.92px) rotate(0.03deg) scaleX(1.0127);transform-origin:0 0">—</div>
<div class="t" style="top:622px;font-size:7.9px;line-height:9.0px;left:206px;transform:translate(0.45px,0.92px) rotate(0.03deg) scaleX(1.0127);transform-origin:0 0">—</div>
<div class="t" style="top:622px;font-size:7.9px;line-height:9.0px;left:243px;transform:translate(0.15px,0.92px) rotate(0.03deg) scaleX(1.0127);transform-origin:0 0">—</div>
<div class="t" style="top:622px;font-size:7.9px;line-height:9.0px;left:177px;width:120px;text-align:right;transform:translate(0.80px,0.92px) rotate(0.03deg) scaleX(1.0127);transform-origin:100% 0;font-weight:bold;-webkit-text-stroke:0.1px #000">17.8</div>
<div class="t" style="top:622px;font-size:7.9px;line-height:9.0px;left:228px;width:120px;text-align:right;transform:translate(0.20px,0.92px) rotate(0.03deg) scaleX(1.0127);transform-origin:100% 0;font-weight:bold;-webkit-text-stroke:0.1px #000">12.0–25.8</div>
<div class="t" style="top:622px;font-size:7.9px;line-height:9.0px;left:282px;width:120px;text-align:right;transform:translate(0.80px,0.92px) rotate(0.03deg) scaleX(1.0127);transform-origin:100% 0">2.0</div>
<div class="t" style="top:622px;font-size:7.9px;line-height:9.0px;left:334px;width:120px;text-align:right;transform:translate(0.00px,0.92px) rotate(0.03deg) scaleX(1.0127);transform-origin:100% 0">1.0–4.1</div>
<div class="t" style="top:622px;font-size:7.9px;line-height:9.0px;left:366px;width:120px;text-align:right;transform:translate(0.80px,0.92px) rotate(0.03deg) scaleX(1.0127);transform-origin:100% 0">6.0</div>
<div class="t" style="top:622px;font-size:7.9px;line-height:9.0px;left:417px;width:120px;text-align:right;transform:translate(0.70px,0.92px) rotate(0.03deg) scaleX(1.0127);transform-origin:100% 0">4.1–8.7</div>
<div class="t" style="top:622px;font-size:7.9px;line-height:9.0px;left:451px;width:120px;text-align:right;transform:translate(0.20px,0.92px) rotate(0.03deg) scaleX(1.0127);transform-origin:100% 0;font-weight:bold;-webkit-text-stroke:0.1px #000">4.0</div>
<div class="t" style="top:622px;font-size:7.9px;line-height:9.0px;left:501px;width:120px;text-align:right;transform:translate(0.70px,0.92px) rotate(0.03deg) scaleX(1.0127);transform-origin:100% 0;font-weight:bold;-webkit-text-stroke:0.1px #000">2.8–5.5</div>
<div class="t" style="top:632px;font-size:7.9px;line-height:9.0px;left:9px;transform:translate(0.35px,0.27px) rotate(0.03deg) scaleX(1.0127);transform-origin:0 0;word-spacing:0.0px">Palm Beach County, FL</div>
<div class="t" style="top:632px;font-size:7.9px;line-height:9.0px;left:10px;width:120px;text-align:right;transform:translate(0.00px,0.27px) rotate(0.03deg) scaleX(1.0127);transform-origin:100% 0">18.5</div>
<div class="t" style="top:632px;font-size:7.9px;line-height:9.0px;left:60px;width:120px;text-align:right;transform:translate(0.40px,0.27px) rotate(0.03deg) scaleX(1.0127);transform-origin:100% 0">12.5–26.7</div>
<div class="t" style="top:632px;font-size:7.9px;line-height:9.0px;left:206px;transform:translate(0.45px,0.27px) rotate(0.03deg) scaleX(1.0127);transform-origin:0 0">—</div>
<div class="t" style="top:632px;font-size:7.9px;line-height:9.0px;left:243px;transform:translate(0.15px,0.27px) rotate(0.03deg) scaleX(1.0127);transform-origin:0 0">—</div>
<div class="t" style="top:632px;font-size:7.9px;line-height:9.0px;left:177px;width:120px;text-align:right;transform:translate(0.80px,0.27px) rotate(0.03deg) scaleX(1.0127);transform-origin:100% 0;font-weight:bold;-webkit-text-stroke:0.1px #000">18.2</div>
<div class="t" style="top:632px;font-size:7.9px;line-height:9.0px;left:228px;width:120px;text-align:right;transform:translate(0.20px,0.27px) rotate(0.03deg) scaleX(1.0127);transform-origin:100% 0;font-weight:bold;-webkit-text-stroke:0.1px #000">12.7–25.5</div>
<div class="t" style="top:632px;font-size:7.9px;line-height:9.0px;left:282px;width:120px;text-align:right;transform:translate(0.80px,0.27px) rotate(0.03deg) scaleX(1.0127);transform-origin:100% 0">1.8</div>
<div class="t" style="top:632px;font-size:7.9px;line-height:9.0px;left:334px;width:120px;text-align:right;transform:translate(0.00px,0.27px) rotate(0.03deg) scaleX(1.0127);transform-origin:100% 0">1.0–3.3</div>
<div class="t" style="top:632px;font-size:7.9px;line-height:9.0px;left:366px;width:120px;text-align:right;transform:translate(0.80px,0.27px) rotate(0.03deg) scaleX(1.0127);transform-origin:100% 0">7.5</div>
<div class="t" style="top:632px;font-size:7.9px;line-height:9.0px;left:417px;width:120px;text-align:right;transform:translate(0.70px,0.27px) rotate(0.03deg) scaleX(1.0127);transform-origin:100% 0">5.4–10.2</div>
<div class="t" style="top:632px;font-size:7.9px;line-height:9.0px;left:451px;width:120px;text-align:right;transform:translate(0.20px,0.27px) rotate(0.03deg) scaleX(1.0127);transform-origin:100% 0;font-weight:bold;-webkit-text-stroke:0.1px #000">4.7</div>
<div class="t" style="top:632px;font-size:7.9px;line-height:9.0px;left:501px;width:120px;text-align:right;transform:translate(0.70px,0.27px) rotate(0.03deg) scaleX(1.0127);transform-origin:100% 0;font-weight:bold;-webkit-text-stroke:0.1px #000">3.4–6.3</div>
<div class="t" style="top:641px;font-size:7.9px;line-height:9.0px;left:9px;transform:translate(0.35px,0.63px) rotate(0.03deg) scaleX(1.0127);transform-origin:0 0;word-spacing:0.0px">Philadelphia, PA</div>
<div class="t" style="top:641px;font-size:7.9px;line-height:9.0px;left:122px;transform:translate(0.35px,0.63px) rotate(0.03deg) scaleX(1.0127);transform-origin:0 0">—</div>
<div class="t" style="top:641px;font-size:7.9px;line-height:9.0px;left:159px;transform:translate(0.10px,0.63px) rotate(0.03deg) scaleX(1.0127);transform-origin:0 0">—</div>
<div class="t" style="top:641px;font-size:7.9px;line-height:9.0px;left:206px;transform:translate(0.45px,0.63px) rotate(0.03deg) scaleX(1.0127);transform-origin:0 0">—</div>
<div class="t" style="top:641px;font-size:7.9px;line-height:9.0px;left:243px;transform:translate(0.15px,0.63px) rotate(0.03deg) scaleX(1.0127);transform-origin:0 0">—</div>
<div class="t" style="top:641px;font-size:7.9px;line-height:9.0px;left:177px;width:120px;text-align:right;transform:translate(0.80px,0.63px) rotate(0.03deg) scaleX(1.0127);transform-origin:100% 0;font-weight:bold;-webkit-text-stroke:0.1px #000">34.3</div>
<div class="t" style="top:641px;font-size:7.9px;line-height:9.0px;left:228px;width:120px;text-align:right;transform:translate(0.20px,0.63px) rotate(0.03deg) scaleX(1.0127);transform-origin:100% 0;font-weight:bold;-webkit-text-stroke:0.1px #000">26.0–43.6</div>
<div class="t" style="top:641px;font-size:7.9px;line-height:9.0px;left:282px;width:120px;text-align:right;transform:translate(0.80px,0.63px) rotate(0.03deg) scaleX(1.0127);transform-origin:100% 0">1.2</div>
<div class="t" style="top:641px;font-size:7.9px;line-height:9.0px;left:334px;width:120px;text-align:right;transform:translate(0.00px,0.63px) rotate(0.03deg) scaleX(1.0127);transform-origin:100% 0">0.6–2.3</div>
<div class="t" style="top:641px;font-size:7.9px;line-height:9.0px;left:366px;width:120px;text-align:right;transform:translate(0.80px,0.63px) rotate(0.03deg) scaleX(1.0127);transform-origin:100% 0">5.4</div>
<div class="t" style="top:641px;font-size:7.9px;line-height:9.0px;left:417px;width:120px;text-align:right;transform:translate(0.70px,0.63px) rotate(0.03deg) scaleX(1.0127);transform-origin:100% 0">3.8–7.7</div>
<div class="t" style="top:641px;font-size:7.9px;line-height:9.0px;left:451px;width:120px;text-align:right;transform:translate(0.20px,0.63px) rotate(0.03deg) scaleX(1.0127);transform-origin:100% 0;font-weight:bold;-webkit-text-stroke:0.1px #000">3.0</div>
<div class="t" style="top:641px;font-size:7.9px;line-height:9.0px;left:501px;width:120px;text-align:right;transform:translate(0.70px,0.63px) rotate(0.03deg) scaleX(1.0127);transform-origin:100% 0;font-weight:bold;-webkit-text-stroke:0.1px #000">2.1–4.3</div>
<div class="t" style="top:650px;font-size:7.9px;line-height:9.0px;left:9px;transform:translate(0.35px,0.99px) rotate(0.03deg) scaleX(1.0127);transform-origin:0 0;word-spacing:0.0px">San Bernardino, CA</div>
<div class="t" style="top:650px;font-size:7.9px;line-height:9.0px;left:122px;transform:translate(0.35px,0.99px) rotate(0.03deg) scaleX(1.0127);transform-origin:0 0">—</div>
<div class="t" style="top:650px;font-size:7.9px;line-height:9.0px;left:159px;transform:translate(0.10px,0.99px) rotate(0.03deg) scaleX(1.0127);transform-origin:0 0">—</div>
<div class="t" style="top:650px;font-size:7.9px;line-height:9.0px;left:206px;transform:translate(0.45px,0.99px) rotate(0.03deg) scaleX(1.0127);transform-origin:0 0">—</div>
<div class="t" style="top:650px;font-size:7.9px;line-height:9.0px;left:243px;transform:translate(0.15px,0.99px) rotate(0.03deg) scaleX(1.0127);transform-origin:0 0">—</div>
<div class="t" style="top:650px;font-size:7.9px;line-height:9.0px;left:177px;width:120px;text-align:right;transform:translate(0.80px,0.99px) rotate(0.03deg) scaleX(1.0127);transform-origin:100% 0;font-weight:bold;-webkit-text-stroke:0.1px #000">12.7</div>
<div class="t" style="top:650px;font-size:7.9px;line-height:9.0px;left:228px;width:120px;text-align:right;transform:translate(0.20px,0.99px) rotate(0.03deg) scaleX(1.0127);transform-origin:100% 0;font-weight:bold;-webkit-text-stroke:0.1px #000">7.2–21.2</div>
<div class="t" style="top:650px;font-size:7.9px;line-height:9.0px;left:282px;width:120px;text-align:right;transform:translate(0.80px,0.99px) rotate(0.03deg) scaleX(1.0127);transform-origin:100% 0">1.1</div>
<div class="t" style="top:650px;font-size:7.9px;line-height:9.0px;left:334px;width:120px;text-align:right;transform:translate(0.00px,0.99px) rotate(0.03deg) scaleX(1.0127);transform-origin:100% 0">0.5–2.2</div>
<div class="t" style="top:650px;font-size:7.9px;line-height:9.0px;left:366px;width:120px;text-align:right;transform:translate(0.80px,0.99px) rotate(0.03deg) scaleX(1.0127);transform-origin:100% 0">2.8</div>
<div class="t" style="top:650px;font-size:7.9px;line-height:9.0px;left:417px;width:120px;text-align:right;transform:translate(0.70px,0.99px) rotate(0.03deg) scaleX(1.0127);transform-origin:100% 0">1.7–4.5</div>
<div class="t" style="top:650px;font-size:7.9px;line-height:9.0px;left:451px;width:120px;text-align:right;transform:translate(0.20px,0.99px) rotate(0.03deg) scaleX(1.0127);transform-origin:100% 0;font-weight:bold;-webkit-text-stroke:0.1px #000">2.0</div>
<div class="t" style="top:650px;font-size:7.9px;line-height:9.0px;left:501px;width:120px;text-align:right;transform:translate(0.70px,0.99px) rotate(0.03deg) scaleX(1.0127);transform-origin:100% 0;font-weight:bold;-webkit-text-stroke:0.1px #000">1.3–3.0</div>
<div class="t" style="top:660px;font-size:7.9px;line-height:9.0px;left:9px;transform:translate(0.35px,0.35px) rotate(0.03deg) scaleX(1.0127);transform-origin:0 0;word-spacing:0.0px">San Diego, CA</div>
<div class="t" style="top:660px;font-size:7.9px;line-height:9.0px;left:122px;transform:translate(0.35px,0.35px) rotate(0.03deg) scaleX(1.0127);transform-origin:0 0">—</div>
<div class="t" style="top:660px;font-size:7.9px;line-height:9.0px;left:159px;transform:translate(0.10px,0.35px) rotate(0.03deg) scaleX(1.0127);transform-origin:0 0">—</div>
<div class="t" style="top:660px;font-size:7.9px;line-height:9.0px;left:206px;transform:translate(0.45px,0.35px) rotate(0.03deg) scaleX(1.0127);transform-origin:0 0">—</div>
<div class="t" style="top:660px;font-size:7.9px;line-height:9.0px;left:243px;transform:translate(0.15px,0.35px) rotate(0.03deg) scaleX(1.0127);transform-origin:0 0">—</div>
<div class="t" style="top:660px;font-size:7.9px;line-height:9.0px;left:177px;width:120px;text-align:right;transform:translate(0.80px,0.35px) rotate(0.03deg) scaleX(1.0127);transform-origin:100% 0;font-weight:bold;-webkit-text-stroke:0.1px #000">10.2</div>
<div class="t" style="top:660px;font-size:7.9px;line-height:9.0px;left:228px;width:120px;text-align:right;transform:translate(0.20px,0.35px) rotate(0.03deg) scaleX(1.0127);transform-origin:100% 0;font-weight:bold;-webkit-text-stroke:0.1px #000">5.6–17.8</div>
<div class="t" style="top:660px;font-size:7.9px;line-height:9.0px;left:282px;width:120px;text-align:right;transform:translate(0.80px,0.35px) rotate(0.03deg) scaleX(1.0127);transform-origin:100% 0">0.9</div>
<div class="t" style="top:660px;font-size:7.9px;line-height:9.0px;left:334px;width:120px;text-align:right;transform:translate(0.00px,0.35px) rotate(0.03deg) scaleX(1.0127);transform-origin:100% 0">0.4–1.9</div>
<div class="t" style="top:660px;font-size:7.9px;line-height:9.0px;left:366px;width:120px;text-align:right;transform:translate(0.80px,0.35px) rotate(0.03deg) scaleX(1.0127);transform-origin:100% 0">5.5</div>
<div class="t" style="top:660px;font-size:7.9px;line-height:9.0px;left:417px;width:120px;text-align:right;transform:translate(0.70px,0.35px) rotate(0.03deg) scaleX(1.0127);transform-origin:100% 0">4.0–7.6</div>
<div class="t" style="top:660px;font-size:7.9px;line-height:9.0px;left:451px;width:120px;text-align:right;transform:translate(0.20px,0.35px) rotate(0.03deg) scaleX(1.0127);transform-origin:100% 0;font-weight:bold;-webkit-text-stroke:0.1px #000">3.3</div>
<div class="t" style="top:660px;font-size:7.9px;line-height:9.0px;left:501px;width:120px;text-align:right;transform:translate(0.70px,0.35px) rotate(0.03deg) scaleX(1.0127);transform-origin:100% 0;font-weight:bold;-webkit-text-stroke:0.1px #000">2.4–4.5</div>
<div class="t" style="top:669px;font-size:7.9px;line-height:9.0px;left:9px;transform:translate(0.35px,0.71px) rotate(0.03deg) scaleX(1.0127);transform-origin:0 0;word-spacing:0.0px">San Francisco, CA</div>
<div class="t" style="top:669px;font-size:7.9px;line-height:9.0px;left:122px;transform:translate(0.35px,0.71px) rotate(0.03deg) scaleX(1.0127);transform-origin:0 0">—</div>
<div class="t" style="top:669px;font-size:7.9px;line-height:9.0px;left:159px;transform:translate(0.10px,0.71px) rotate(0.03deg) scaleX(1.0127);transform-origin:0 0">—</div>
<div class="t" style="top:669px;font-size:7.9px;line-height:9.0px;left:206px;transform:translate(0.45px,0.71px) rotate(0.03deg) scaleX(1.0127);transform-origin:0 0">—</div>
<div class="t" style="top:669px;font-size:7.9px;line-height:9.0px;left:243px;transform:translate(0.15px,0.71px) rotate(0.03deg) scaleX(1.0127);transform-origin:0 0">—</div>
<div class="t" style="top:669px;font-size:7.9px;line-height:9.0px;left:177px;width:120px;text-align:right;transform:translate(0.80px,0.71px) rotate(0.03deg) scaleX(1.0127);transform-origin:100% 0;font-weight:bold;-webkit-text-stroke:0.1px #000">28.1</div>
<div class="t" style="top:669px;font-size:7.9px;line-height:9.0px;left:228px;width:120px;text-align:right;transform:translate(0.20px,0.71px) rotate(0.03deg) scaleX(1.0127);transform-origin:100% 0;font-weight:bold;-webkit-text-stroke:0.1px #000">21.2–36.2</div>
<div class="t" style="top:669px;font-size:7.9px;line-height:9.0px;left:395px;transform:translate(0.35px,0.71px) rotate(0.03deg) scaleX(1.0127);transform-origin:0 0">—</div>
<div class="t" style="top:669px;font-size:7.9px;line-height:9.0px;left:432px;transform:translate(0.90px,0.71px) rotate(0.03deg) scaleX(1.0127);transform-origin:0 0">—</div>
<div class="t" style="top:669px;font-size:7.9px;line-height:9.0px;left:479px;transform:translate(0.50px,0.71px) rotate(0.03deg) scaleX(1.0127);transform-origin:0 0">—</div>
<div class="t" style="top:669px;font-size:7.9px;line-height:9.0px;left:517px;transform:translate(0.00px,0.71px) rotate(0.03deg) scaleX(1.0127);transform-origin:0 0">—</div>
<div class="t" style="top:669px;font-size:7.9px;line-height:9.0px;left:563px;transform:translate(0.40px,0.71px) rotate(0.03deg) scaleX(1.0127);transform-origin:0 0">—</div>
<div class="t" style="top:669px;font-size:7.9px;line-height:9.0px;left:600px;transform:translate(0.80px,0.71px) rotate(0.03deg) scaleX(1.0127);transform-origin:0 0">—</div>
<div class="t" style="top:679px;font-size:7.9px;line-height:9.0px;left:16px;transform:translate(0.00px,0.46px) rotate(0.03deg) scaleX(1.0127);transform-origin:0 0;font-style:italic">Median</div>
<div class="t" style="top:689px;font-size:7.9px;line-height:9.0px;left:16px;transform:translate(0.00px,0.71px) rotate(0.03deg) scaleX(1.0127);transform-origin:0 0;font-style:italic">Range</div>
<div class="t" style="top:679px;font-size:7.9px;line-height:9.0px;left:10px;width:120px;text-align:right;transform:translate(0.00px,0.46px) rotate(0.03deg) scaleX(1.0127);transform-origin:100% 0;font-style:italic">18.5</div>
<div class="t" style="top:689px;font-size:7.9px;line-height:9.0px;left:21px;width:200px;text-align:center;transform:translate(0.90px,0.71px) rotate(0.03deg) scaleX(1.0127);transform-origin:50% 0;font-style:italic">18.5–18.5</div>
<div class="t" style="top:679px;font-size:7.9px;line-height:9.0px;left:93px;width:120px;text-align:right;transform:translate(0.80px,0.46px) rotate(0.03deg) scaleX(1.0127);transform-origin:100% 0;font-style:italic">23.4</div>
<div class="t" style="top:689px;font-size:7.9px;line-height:9.0px;left:105px;width:200px;text-align:center;transform:translate(0.70px,0.71px) rotate(0.03deg) scaleX(1.0127);transform-origin:50% 0;font-style:italic">23.4–23.4</div>
<div class="t" style="top:679px;font-size:7.9px;line-height:9.0px;left:177px;width:120px;text-align:right;transform:translate(0.80px,0.46px) rotate(0.03deg) scaleX(1.0127);transform-origin:100% 0;font-weight:bold;-webkit-text-stroke:0.1px #000;font-style:italic">23.2</div>
<div class="t" style="top:689px;font-size:7.9px;line-height:9.0px;left:189px;width:200px;text-align:center;transform:translate(0.70px,0.71px) rotate(0.03deg) scaleX(1.0127);transform-origin:50% 0;font-weight:bold;-webkit-text-stroke:0.1px #000;font-style:italic">10.2–39.4</div>
<div class="t" style="top:679px;font-size:7.9px;line-height:9.0px;left:282px;width:120px;text-align:right;transform:translate(0.80px,0.46px) rotate(0.03deg) scaleX(1.0127);transform-origin:100% 0;font-style:italic">1.7</div>
<div class="t" style="top:689px;font-size:7.9px;line-height:9.0px;left:294px;width:200px;text-align:center;transform:translate(0.70px,0.71px) rotate(0.03deg) scaleX(1.0127);transform-origin:50% 0;font-style:italic">0.2–3.6</div>
<div class="t" style="top:679px;font-size:7.9px;line-height:9.0px;left:366px;width:120px;text-align:right;transform:translate(0.80px,0.46px) rotate(0.03deg) scaleX(1.0127);transform-origin:100% 0;font-style:italic">5.0</div>
<div class="t" style="top:689px;font-size:7.9px;line-height:9.0px;left:378px;width:200px;text-align:center;transform:translate(0.70px,0.71px) rotate(0.03deg) scaleX(1.0127);transform-origin:50% 0;font-style:italic">1.8–12.1</div>
<div class="t" style="top:679px;font-size:7.9px;line-height:9.0px;left:451px;width:120px;text-align:right;transform:translate(0.20px,0.46px) rotate(0.03deg) scaleX(1.0127);transform-origin:100% 0;font-weight:bold;-webkit-text-stroke:0.1px #000;font-style:italic">3.2</div>
<div class="t" style="top:689px;font-size:7.9px;line-height:9.0px;left:463px;width:200px;text-align:center;transform:translate(0.10px,0.71px) rotate(0.03deg) scaleX(1.0127);transform-origin:50% 0;font-weight:bold;-webkit-text-stroke:0.1px #000;font-style:italic">1.0–7.2</div>
<div class="t" style="top:705px;font-size:8.0px;line-height:9px;left:9px;transform:translate(0.75px,0.43px) rotate(0.03deg) scaleX(1.0);transform-origin:50% 0;word-spacing:0.9px;letter-spacing:0.05px">During the 30 days before the survey, among students who were aged &lt;18 years and who currently smoked cigarettes.</div>
<div class="t" style="top:714px;font-size:8.0px;line-height:9px;left:9px;transform:translate(0.75px,0.43px) rotate(0.03deg) scaleX(1.0);transform-origin:50% 0;word-spacing:0.9px;letter-spacing:0.05px">Used chewing tobacco, snuff, or dip on at least 1 day during the 30 days before the survey.</div>
<div class="t" style="top:723px;font-size:8.0px;line-height:9px;left:9px;transform:translate(0.75px,0.68px) rotate(0.03deg) scaleX(1.0);transform-origin:50% 0;word-spacing:0.9px;letter-spacing:0.05px">95% confidence interval.</div>
<div class="t" style="top:732px;font-size:8.0px;line-height:9px;left:9px;transform:translate(0.75px,0.68px) rotate(0.03deg) scaleX(1.0);transform-origin:50% 0;word-spacing:0.9px;letter-spacing:0.05px">Not available.</div>
<div class="t" style="top:705px;font-size:8.0px;line-height:9.0px;left:4px;transform:translate(0.40px,0.43px) rotate(0.03deg) scaleX(1.0);transform-origin:0 0">*</div>
<div class="t" style="top:712px;font-size:6.3px;line-height:9.0px;left:4px;transform:translate(0.40px,0.12px) rotate(0.03deg) scaleX(1.0);transform-origin:0 0">†</div>
<div class="t" style="top:721px;font-size:6.3px;line-height:9.0px;left:4px;transform:translate(0.30px,0.12px) rotate(0.03deg) scaleX(1.0);transform-origin:0 0">§</div>
<div class="t" style="top:732px;font-size:7.0px;line-height:9.0px;left:4px;transform:translate(0.00px,0.07px) rotate(0.03deg) scaleX(0.95);transform-origin:0 0;font-weight:bold;-webkit-text-stroke:0.1px #000">¶</div>
</div>
</body></html>
